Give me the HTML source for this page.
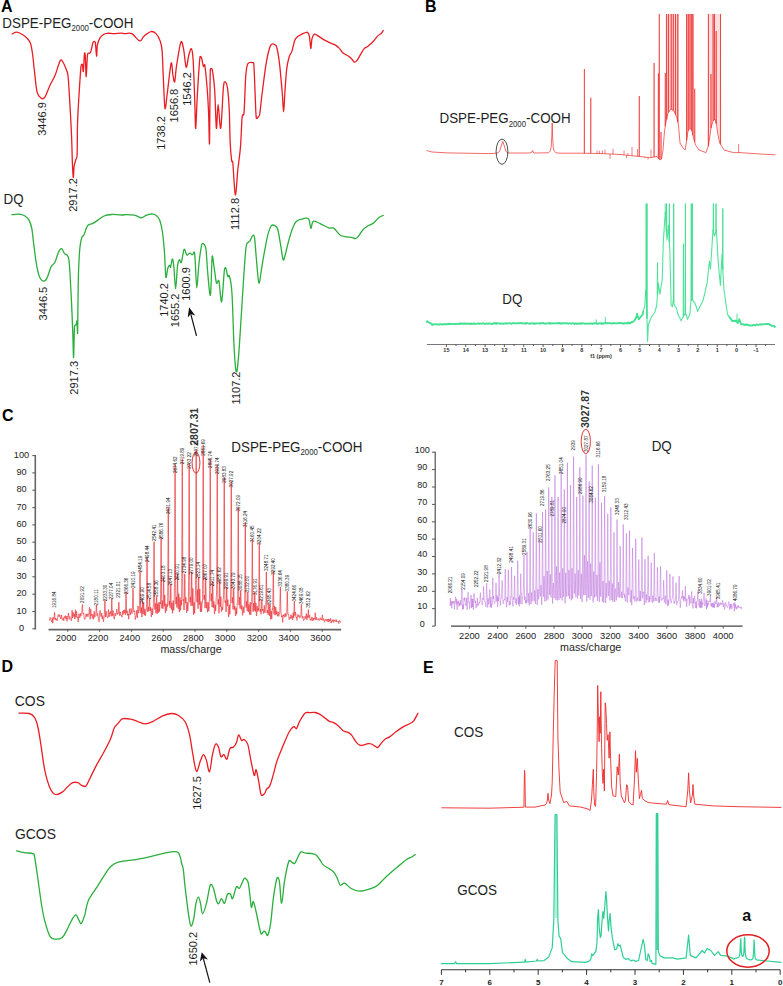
<!DOCTYPE html>
<html><head><meta charset="utf-8"><style>
html,body{margin:0;padding:0;background:#fff;}
svg{display:block;font-family:"Liberation Sans", sans-serif;}
</style></head><body>
<svg width="783" height="986" viewBox="0 0 783 986">
<text x="1" y="12.3" font-size="16" font-weight="bold" text-anchor="start" fill="#000" >A</text>
<text x="425" y="12.3" font-size="16" font-weight="bold" text-anchor="start" fill="#000" >B</text>
<text x="2" y="420.8" font-size="16" font-weight="bold" text-anchor="start" fill="#000" >C</text>
<text x="1.5" y="672" font-size="16" font-weight="bold" text-anchor="start" fill="#000" >D</text>
<text x="423" y="672.8" font-size="16" font-weight="bold" text-anchor="start" fill="#000" >E</text>
<text transform="translate(2.3,27.7) scale(1,1.06)" font-size="13.4" fill="#1e1e1e">DSPE-PEG<tspan font-size="7.8" dy="3.3">2000</tspan><tspan dy="-3.3">-COOH</tspan></text>
<text transform="translate(3.6,203.5) scale(1,1.06)" font-size="13.4" fill="#1e1e1e">DQ</text>
<path d="M12.1 34 C12.9 33.7 15 32.1 16.7 32.2 C18.4 32.3 20.6 33.4 22.4 34.5 C24.2 35.6 26.2 37.2 27.6 38.8 C29 40.4 29.8 41.1 30.7 44 C31.6 46.9 32.2 51.4 32.8 56 C33.4 60.6 33.8 65.6 34.5 71.6 C35.2 77.6 36 87.8 37.1 92.2 C38.2 96.7 40.1 97.4 41.4 98.3 C42.7 99.2 43.4 99.3 44.8 97.4 C46.2 95.2 48.3 89 50 85.3 C51.7 81.6 53.5 79.2 55.2 75 C56.9 70.8 59 62.5 60.3 60.3 C61.6 59.3 61.9 60.4 62.9 62 C63.9 63.6 65.5 67.3 66.4 69.8 C67.3 72.2 67.5 71.2 68.1 76.7 C68.7 82.2 69.2 92.5 69.8 102.6 C70.4 112.6 71.2 126.9 71.6 137 C72 147.1 72.1 156.2 72.4 163 C72.7 169.8 73 177 73.3 177.6 C73.6 178.2 73.7 169.4 74.1 166.4 C74.5 163.4 75.4 161.5 75.9 159.5 C76.4 157.5 76.8 160.5 77.1 154.3 C77.4 148 77.2 132.2 77.6 121.6 C78 111 78.7 99.7 79.3 90.5 C79.9 81.3 80.5 70.7 81 66.4 C81.5 63.7 82 63.8 82.4 64.7 C82.8 65.6 83 72.6 83.3 71.6 C83.6 69.7 84.2 56 84.5 53.4 C84.8 52.4 85 52.4 85.3 56 C85.6 59.9 85.8 77 86.2 76.7 C86.6 76.4 86.9 58.3 87.6 54.3 C88.3 51.6 89.6 54.6 90.5 52.6 C91.4 50.6 92.3 43.9 93.1 42.2 C93.9 41.2 94.6 41.2 95.2 42.2 C95.8 44.5 96.2 55.6 96.6 56 C97 56.4 96.8 47.8 97.4 44.8 C98 41.8 99 39.6 100 37.9 C101 36.2 102.2 35.3 103.4 34.5 C104.6 33.7 105.2 33.4 106.9 33.3 C108.6 33.1 111.5 33.6 113.8 33.6 C116.1 33.6 118.8 33.1 120.7 33.1 C122.6 33.1 123.1 33.5 125 33.6 C126.9 33.7 129.5 32.6 131.9 33.6 C134.3 34.8 137.7 40.5 139.7 40.9 C141.7 41.3 142.1 37.8 144 36.2 C145.9 34.7 148.9 32 150.9 31.6 C152.9 31.2 154.4 32 156 33.6 C157.6 35.2 159.3 38.5 160.3 41.4 C161.3 44.3 161.6 45 162.1 50.9 C162.6 56.8 162.8 67.1 163.3 76.7 C163.8 86.3 164.3 105.7 165 108.6 C165.7 109.6 166.2 101.6 167.2 94 C168.2 86.4 170.2 66.1 171.2 62.9 C172.1 61.9 172.3 71.8 172.9 75 C173.5 78.2 174.1 82.9 174.7 81.9 C175.3 80.2 175.6 71.4 176.7 64.7 C177.8 58 179.8 44.3 181 41.7 C182.2 40.7 182.7 44.9 183.6 49.1 C184.5 53.4 185.3 66.2 186.2 67.2 C187.1 68.2 187.9 58.3 188.8 55.2 C189.7 52.1 190.7 48.1 191.4 48.8 C192.1 49.5 192.5 50.5 193.1 59.5 C193.7 68.5 194.4 91.1 194.8 102.6 C195.2 114.1 195.3 129.4 195.7 128.4 C196.1 127 196.7 105.9 197.4 94 C198.1 82.1 199.3 62.8 200 56.9 C200.7 55.9 201.1 57 201.7 58.6 C202.3 60.2 202.9 65.4 203.4 66.4 C203.9 67.4 204.1 63.7 204.7 64.7 C205.3 67.8 206.2 77.3 206.9 85.3 C207.6 93.3 208.2 103.1 208.6 112.9 C209 122.7 209.2 145 209.5 144 C209.8 136.8 209.9 82.3 210.3 69.8 C210.7 68 211.4 68 212.1 69 C212.8 72.5 214 80.6 214.7 90.5 C215.4 100.4 215.8 126.1 216.4 128.4 C217 129.4 217.4 104.3 218.1 104.3 C218.8 104.3 219.8 129.4 220.7 128.4 C221.6 125.8 222.6 96.5 223.3 88.8 C224 81 224.3 81.9 225 81.9 C225.7 81.9 226.9 83.9 227.6 88.8 C228.3 93.7 228.9 102.2 229.3 111.2 C229.7 120.2 229.8 134.8 230.2 143 C230.6 151.2 231.2 157.1 231.6 160.3 C232 163.5 232.2 159.3 232.8 162.5 C233.4 168.2 234.5 193.7 235.3 194.8 C236.2 195.8 237 177 237.9 169 C238.8 161 239.8 155.4 240.5 146.6 C241.2 137.8 241.6 121.9 242.2 116.4 C242.8 112.5 243.4 117.4 244 113.5 C244.6 106.9 245.1 85 245.7 76.7 C246.3 68.4 246.6 66.1 247.8 63.8 C249 61.7 251.7 62.4 252.7 62.7 C253.7 63 253.5 61.7 253.9 65.4 C254.3 70 254.6 81.7 255 90.5 C255.4 99.3 255.7 113.9 256.3 118.2 C256.9 119.2 258 117.2 258.6 116.4 C259.2 115.7 259.2 117.4 259.8 113.7 C260.4 109.4 261.4 98.8 262.5 90.5 C263.6 82.2 264.9 70.8 266.1 63.6 C267.3 56.4 268.7 50.8 269.7 47.5 C270.7 44.2 271.4 44.4 272.3 44 C273.2 43.6 274.2 44.3 275 44.9 C275.8 45.5 276.1 44.4 276.8 47.5 C277.6 50.6 278.6 56.1 279.5 63.6 C280.4 71 281.5 84.2 282.2 92.2 C282.9 100.2 283.2 111.9 283.6 111.9 C284.1 111.9 284.4 99.4 284.9 92.2 C285.4 85 286 75 286.7 69 C287.4 63 288.4 59.5 289.3 56.5 C290.2 53.5 291.1 53.8 292 51.1 C292.9 48.4 293.8 42.8 294.7 40.4 C295.6 38 296.2 37.8 297.4 36.8 C298.6 35.8 300.4 34.9 301.9 34.1 C303.4 33.4 305.3 32.4 306.3 32.3 C307.3 32.1 307.6 32.5 308.1 33.2 C308.6 34 309.1 34.3 309.5 36.8 C309.9 39.3 310.4 48.1 310.8 48.4 C311.2 48.7 311.4 41 312 38.6 C312.6 36.2 313.4 34.6 314.4 34.1 C315.4 33.6 316.1 34.9 317.9 35.9 C319.7 36.9 323 39.2 325.1 40.4 C327.2 41.6 328.7 42.3 330.5 43.1 C332.3 43.9 334.3 44.5 335.8 45.4 C337.3 46.3 338.2 47.1 339.4 48.4 C340.6 49.6 341.5 51.6 343 52.9 C344.5 54.2 346.8 55 348.3 56.1 C349.8 57.2 350.8 58.2 351.9 59.2 C352.9 60.2 353.7 62.1 354.6 62.2 C355.5 62.4 356.2 61.5 357.3 60.1 C358.4 58.7 359.7 55.8 360.9 53.8 C362.1 51.8 363.2 49.6 364.4 48.4 C365.6 47.1 366.5 47.5 368 46.3 C369.5 45.1 371.8 43 373.4 41.3 C375 39.6 376.5 37.2 377.8 35.9 C379.1 34.5 380.5 34.1 381.4 33.2 C382.3 32.3 382.9 31 383.2 30.6" fill="none" stroke="#ea1c24" stroke-width="1.3" stroke-linejoin="round" stroke-linecap="round" />
<path d="M11.9 214.7 C13.1 214.6 17.1 213.9 19.3 214.1 C21.5 214.3 23.4 215 25 216 C26.6 217 27.8 217.8 28.9 219.9 C30 222 31 224.5 31.8 228.5 C32.6 232.5 32.9 237.8 33.7 243.9 C34.5 250 35.6 259.6 36.6 265.1 C37.6 270.6 38.3 274 39.5 276.7 C40.7 279.4 42.6 281 43.9 281.1 C45.2 281.2 46 280 47.2 277.6 C48.4 275.2 49.7 269.6 51 267 C52.3 264.4 53.6 264.8 54.9 262.2 C56.2 259.6 57.6 253.8 58.7 251.6 C59.8 249.3 60.6 248.4 61.6 248.7 C62.6 249 63.5 252.5 64.5 253.6 C65.5 254.7 66.6 253.9 67.4 255.5 C68.2 257.1 68.7 256.1 69.3 263.2 C69.9 270.3 70.7 286.2 71.3 297.9 C71.9 309.6 72.4 323.6 72.8 333.5 C73.2 343.4 73.3 358.6 73.6 357.6 C73.9 356.5 74.1 332.2 74.5 326.7 C74.9 323.8 75.7 325.8 76.1 324.8 C76.5 323.9 76.8 320 77 321 C77.2 322.4 77.4 334.5 77.6 333.5 C77.8 326.1 78 291 78.4 276.7 C78.8 262.4 79.3 254.4 79.9 247.8 C80.5 241.2 81.2 239.3 81.9 237.2 C82.6 235.1 82.8 237.2 83.8 235.3 C84.8 233.4 86.2 227.5 87.6 225.6 C89 223.7 90.6 224.6 92.4 223.7 C94.2 222.8 96.3 221.2 98.2 219.9 C100.1 218.6 101.8 216.9 104 216 C106.2 215.1 108.5 214.7 111.7 214.5 C114.9 214.3 121.1 215 123.3 215 C125.5 215 123.2 214.7 125 214.7 C126.8 214.7 131.7 214.6 134.4 215.1 C137.1 215.6 139.1 217.8 141 217.9 C142.9 218 143.9 216.3 145.6 215.6 C147.3 214.9 149.6 213.9 151.3 213.8 C153 213.8 154.6 214.2 156 215.3 C157.4 216.4 158.6 217.4 159.7 220.3 C160.8 223.2 161.7 227.3 162.5 232.5 C163.3 237.7 163.8 243.8 164.4 251.3 C165 258.8 165.3 274.7 165.9 277.5 C166.5 278.5 167.2 270.2 167.8 268.2 C168.4 266.2 169.1 265.5 169.6 265.3 C170.1 265.1 170.1 268.2 170.6 267.2 C171.1 266.1 171.8 258.9 172.3 258.8 C172.8 258.7 173.2 261.3 173.8 266.3 C174.4 271.3 175 288.8 175.6 288.8 C176.2 288.8 176.9 271.2 177.5 266.3 C178.1 261.4 178.8 260.3 179.4 259.7 C180 259.1 180.5 263.5 181.3 262.5 C182.1 260.8 183.2 250.7 184.1 249.4 C185 248.4 186 254.4 186.9 255 C187.8 255.6 188.8 253.2 189.7 253.1 C190.6 253 191.7 254.8 192.5 254.7 C193.3 254.5 193.9 251.2 194.4 252.2 C194.9 253.5 194.9 256.6 195.3 262.5 C195.7 268.4 196.2 287.9 196.8 287.9 C197.4 287.9 198.2 269.8 199.1 262.5 C199.9 255.2 201.1 247.2 201.9 244.1 C202.7 243.1 203.1 243.2 203.8 244.1 C204.5 245 205.4 245.1 206 249.4 C206.6 253.7 206.8 262.3 207.5 270 C208.2 277.7 209.6 296.4 210.4 295.4 C211.2 293.1 211.6 260.7 212.2 256 C212.8 255 213.4 262.7 214.1 267.2 C214.8 271.7 215.7 281 216.5 283.2 C217.3 284.2 218 279.4 218.8 280.4 C219.7 283.5 220.7 302.9 221.6 301.9 C222.5 300.2 223.7 275.6 224.4 270 C225.1 267.2 225.3 267.2 225.9 268.2 C226.5 269.3 227.2 275.4 227.8 276.6 C228.4 277.6 228.6 274.7 229.3 275.7 C230 278.3 231.2 281.6 231.9 292.5 C232.7 303.4 233.2 328.5 233.8 341.3 C234.4 354.1 235.2 364.5 235.7 369.5 C236.2 372.3 236.4 372.3 237 371.3 C237.6 367.2 238.4 359.5 239.4 345.1 C240.4 330.7 242.1 301.3 243.2 285 C244.3 268.7 245.1 254.7 246 247.5 C246.9 240.9 248.1 243 248.8 241.9 C249.5 240.8 249.3 242.1 250 241 C250.7 239.9 251.9 236.2 252.7 235.6 C253.4 235 253.9 234.6 254.5 237.4 C255.1 241.1 255.6 250.3 256.3 257.9 C257 265.5 258 281.2 258.9 283 C259.8 284 260.7 273.8 261.6 268.7 C262.5 263.6 263.2 258.3 264.3 252.6 C265.4 246.9 266.7 239.2 267.9 234.7 C269.1 230.2 270.3 226.9 271.5 225.4 C272.7 224.4 274 225.2 275 225.8 C276 226.5 276.8 226.3 277.7 229.3 C278.6 232.3 279.5 238.5 280.4 243.6 C281.3 248.7 282.4 257.6 283.1 259.7 C283.9 260.7 284 259.2 284.9 256.2 C285.8 253.2 287.1 246.7 288.4 241.9 C289.7 237.1 291.5 230.9 292.9 227.5 C294.2 224.1 295 222.7 296.5 221.3 C298 219.9 300.3 219.6 301.9 219.1 C303.5 218.6 305.1 218 306.3 218.1 C307.5 218.2 308.2 217.8 309 219.5 C309.8 221.2 310.2 228 310.8 228.4 C311.4 228.8 311.9 223.4 312.6 222.2 C313.4 221 313.8 221 315.3 221.3 C316.8 221.7 319.3 223.2 321.5 224.3 C323.7 225.4 326.8 227.3 328.7 227.9 C330.6 228.5 331.9 227.5 333.1 227.9 C334.3 228.3 334.6 229 335.8 230.2 C337 231.4 338.5 234.1 340.3 235.2 C342.1 236.3 344.6 236.4 346.5 236.8 C348.4 237.2 350.4 237.1 351.9 237.4 C353.4 237.7 354.4 238.8 355.5 238.6 C356.6 238.4 357 237.9 358.2 236.5 C359.4 235.1 361 232 362.6 230.2 C364.2 228.4 366.2 227 368 225.8 C369.8 224.6 371.6 224.4 373.4 223.1 C375.2 221.8 377.1 219 378.7 217.7 C380.3 216.4 382.4 215.8 383.2 215.4" fill="none" stroke="#2aae3c" stroke-width="1.3" stroke-linejoin="round" stroke-linecap="round" />
<text transform="translate(41.7,119) rotate(-90)" x="0" y="3.9" font-size="11" font-weight="normal" text-anchor="middle" fill="#1e1e1e">3446.9</text>
<text transform="translate(73.5,195) rotate(-90)" x="0" y="3.9" font-size="11" font-weight="normal" text-anchor="middle" fill="#1e1e1e">2917.2</text>
<text transform="translate(161.2,133) rotate(-90)" x="0" y="3.9" font-size="11" font-weight="normal" text-anchor="middle" fill="#1e1e1e">1738.2</text>
<text transform="translate(174.1,105.6) rotate(-90)" x="0" y="3.9" font-size="11" font-weight="normal" text-anchor="middle" fill="#1e1e1e">1656.8</text>
<text transform="translate(187,89) rotate(-90)" x="0" y="3.9" font-size="11" font-weight="normal" text-anchor="middle" fill="#1e1e1e">1546.2</text>
<text transform="translate(235.3,214) rotate(-90)" x="0" y="3.9" font-size="11" font-weight="normal" text-anchor="middle" fill="#1e1e1e">1112.8</text>
<text transform="translate(42.8,303.6) rotate(-90)" x="0" y="3.9" font-size="11" font-weight="normal" text-anchor="middle" fill="#1e1e1e">3446.5</text>
<text transform="translate(74.2,377.8) rotate(-90)" x="0" y="3.9" font-size="11" font-weight="normal" text-anchor="middle" fill="#1e1e1e">2917.3</text>
<text transform="translate(164.4,300) rotate(-90)" x="0" y="3.9" font-size="11" font-weight="normal" text-anchor="middle" fill="#1e1e1e">1740.2</text>
<text transform="translate(174.7,310.4) rotate(-90)" x="0" y="3.9" font-size="11" font-weight="normal" text-anchor="middle" fill="#1e1e1e">1655.2</text>
<text transform="translate(186,284) rotate(-90)" x="0" y="3.9" font-size="11" font-weight="normal" text-anchor="middle" fill="#1e1e1e">1600.9</text>
<text transform="translate(236.5,388) rotate(-90)" x="0" y="3.9" font-size="11" font-weight="normal" text-anchor="middle" fill="#1e1e1e">1107.2</text>
<line x1="196.5" y1="335.9" x2="190.8" y2="314.1" stroke="#111" stroke-width="1.2"/>
<path d="M189.1 307.3 L195.2 315.5 L190.8 314.1 L187.7 317.5 Z" fill="#111"/>
<text transform="translate(14.8,705.9) scale(1,1.04)" font-size="13.9" fill="#1e1e1e">COS</text>
<text transform="translate(15,839.3) scale(1,1.04)" font-size="13.9" fill="#1e1e1e">GCOS</text>
<path d="M19 713.2 C20.7 713.2 26.8 712.8 29.4 713.5 C32 714.2 33.1 715.3 34.6 717.7 C36.1 720.1 37 722.8 38.1 728 C39.2 733.2 40.4 741.6 41.5 748.8 C42.6 756 43.5 764.7 45 771.3 C46.5 777.9 48.5 784.7 50.2 788.6 C51.9 792.5 53.4 793.9 55.4 794.5 C57.4 795.1 60.3 793.4 62.3 792.1 C64.3 790.8 65.8 788.5 67.5 786.9 C69.2 785.3 71 783.4 72.7 782.7 C74.4 782 76.5 782.3 77.9 782.7 C79.3 783.1 80 784.5 81.3 785.1 C82.6 785.7 84.3 787.2 85.8 786.2 C87.2 785.1 88.2 781.8 90 778.2 C91.8 774.6 94.6 768.7 96.9 764.4 C99.2 760.1 101.5 756.6 103.8 752.3 C106.1 748 109 742.4 110.7 738.4 C112.4 734.4 113.1 730.4 114.2 728 C115.3 725.6 116.2 725.4 117.6 723.9 C119 722.4 120.5 719.5 122.8 718.7 C125.1 718 128.9 718.9 131.5 719.4 C134.1 719.9 136.1 721 138.4 721.8 C140.7 722.5 143 723.9 145.3 723.9 C147.6 723.9 149.3 723.1 152.2 721.8 C155.1 720.5 159.4 717.3 162.6 715.9 C165.8 714.5 168.7 713.6 171.3 713.5 C173.9 713.4 175.9 713.8 178.2 715.2 C180.5 716.6 183.2 718.5 185.1 721.8 C187 725.1 188.3 729.4 189.6 735 C190.9 740.6 191.9 749.7 193.1 755.7 C194.2 761.8 195.3 770.5 196.5 771.3 C197.7 772.1 199.3 763.4 200.5 760.6 C201.7 757.8 202.5 754.6 203.5 754.6 C204.5 754.6 205.5 757.8 206.5 760.6 C207.5 763.5 208.5 772.7 209.5 771.7 C210.5 770.7 211.5 759.2 212.5 754.6 C213.5 750 214.5 745.4 215.5 744.1 C216.5 743.1 217.6 745 218.5 747.1 C219.4 749.2 220 755.5 220.9 756.7 C221.8 757.7 222.9 754.2 223.9 754.6 C224.9 755 225.9 760.1 226.9 759.1 C227.9 758.1 228.8 750.6 229.9 748.6 C231 746.6 232.4 748.1 233.5 747.1 C234.6 746.1 235.7 744.6 236.5 742.6 C237.3 740.6 237.7 735.4 238.6 735 C239.5 734.6 240.8 739.8 241.7 740.5 C242.6 741.2 243.1 738.9 244.1 739.5 C245.1 740.1 246.7 741.3 247.7 744.1 C248.7 746.9 249.2 751.6 250.1 756.1 C251 760.6 252.3 767.9 253.1 771.1 C253.8 774.4 254.1 775.9 254.6 775.6 C255.1 775.4 255.5 768.9 256.1 769.6 C256.8 770.4 257.6 775.9 258.5 780.1 C259.4 784.4 260.2 792.9 261.2 795.1 C262.2 796.1 263.6 794.6 264.5 793.6 C265.4 792.6 265.8 790.4 266.6 789.1 C267.5 787.9 268.6 788.1 269.6 786.1 C270.6 784.1 271.4 781.4 272.6 777.1 C273.9 772.9 275.4 765.9 277.1 760.6 C278.9 755.4 281.1 750.4 283.1 745.6 C285.1 740.8 287.4 735.2 289.1 732 C290.9 728.8 292.4 727.2 293.6 726.6 C294.9 726 295.6 729.2 296.6 728.4 C297.6 727.5 298.2 724 299.6 721.5 C301 719 303.2 714.8 304.9 713.3 C306.5 711.8 307.8 712.7 309.5 712.6 C311.2 712.5 313.3 712.3 314.9 712.5 C316.5 712.7 317.6 713.1 319 713.8 C320.4 714.5 321.5 715.4 323.2 716.6 C324.9 717.8 327.3 720.1 329 721.1 C330.7 722.1 331.7 721.6 333.2 722.4 C334.7 723.2 336.5 724.3 338.2 725.7 C339.9 727.1 341.5 729.6 343.1 730.7 C344.8 731.8 346.7 731.7 348.1 732.4 C349.5 733.1 350 733.2 351.4 734.9 C352.8 736.6 355 740.7 356.4 742.4 C357.8 744.1 358.6 744.7 359.7 745.2 C360.8 745.7 361.7 745.5 363.1 745.2 C364.5 745 366.6 743.9 368 743.7 C369.4 743.5 370.1 743.5 371.4 744 C372.6 744.5 374.4 745.9 375.5 746.5 C376.6 747.1 377 747.9 378 747.4 C379 746.9 380.2 744.5 381.3 743.2 C382.4 741.9 383.3 740.5 384.7 739.4 C386.1 738.3 387.7 738.2 389.6 736.9 C391.5 735.6 394.1 733.3 396.3 731.6 C398.5 729.9 400.8 728.2 403 726.9 C405.2 725.6 407.7 724.8 409.5 723.8 C411.3 722.8 412.3 722.5 413.7 720.8 C415.1 719 417.2 714.5 417.9 713.3" fill="none" stroke="#ea1c24" stroke-width="1.3" stroke-linejoin="round" stroke-linecap="round" />
<path d="M16.6 850.9 C17.9 851.2 21.5 852.1 24.2 852.6 C26.9 853.1 31.2 852.9 32.9 853.6 C34.6 854.3 33.7 852.6 34.6 856.8 C35.5 861.2 37 872.3 38.1 880.3 C39.2 888.2 40.4 897.6 41.5 904.5 C42.6 911.4 43.5 916.4 45 921.8 C46.5 927.2 48.5 933.8 50.2 936.7 C51.9 939.6 53.4 939 55.4 939.1 C57.4 939.2 60.3 939.1 62.3 937.4 C64.3 935.7 65.8 931.9 67.5 928.7 C69.2 925.5 71.3 920.7 72.7 918.4 C74.1 916.1 75.1 914.6 76.1 914.9 C77.1 915.2 78 918.7 78.9 920.1 C79.8 921.5 80.3 924.4 81.3 923.5 C82.3 922.6 83.6 918.6 84.8 914.9 C86 911.1 86.2 905.6 88.2 901 C90.2 896.4 94.3 891.4 96.9 887.2 C99.5 883.1 101.5 879.6 103.8 876.1 C106.1 872.6 108.4 868.8 110.7 866.5 C113 864.2 114.1 863.3 117.6 862.3 C121.1 861.2 126.9 861 131.5 860.2 C136.1 859.5 140.7 858.8 145.3 857.8 C149.9 856.8 154.6 855.3 159.2 854.3 C163.8 853.3 169.8 851.9 173 851.6 C176.2 851.3 176.9 851.5 178.2 852.6 C179.4 853.7 179.9 856.1 180.5 858 C181.1 859.9 181.3 862.1 181.8 864 C182.3 865.9 182.8 865.6 183.3 869.5 C183.9 873.4 184.2 879.6 185.1 887.2 C186 894.8 187.6 908.4 188.6 914.9 C189.6 921.4 190.1 925.4 191 926 C191.9 926.6 193 922.2 193.8 918.4 C194.6 914.6 195.2 906.7 196 903.2 C196.8 899.7 197.7 897.2 198.4 897.2 C199.2 897.2 199.8 900.5 200.5 903.2 C201.2 906 201.6 913.7 202.6 913.7 C203.6 913.7 205.2 908.1 206.5 903.2 C207.8 898.4 209.2 887.1 210.4 884.6 C211.6 883.6 212.4 885.6 213.4 888.2 C214.4 890.8 215.6 897.6 216.4 900.2 C217.2 902.8 217.7 904 218.5 903.8 C219.3 903.5 220.5 898.8 221.5 898.7 C222.5 898.6 223.5 904 224.5 903.2 C225.5 902.5 226.5 895.7 227.5 894.2 C228.5 893.2 229.7 893.5 230.5 894.2 C231.3 895 231.6 899.7 232.6 898.7 C233.6 897.5 235.3 888.5 236.5 886.7 C237.7 885.7 238.2 889.2 239.5 888.2 C240.8 886.9 242.9 880.1 244.1 878.6 C245.3 877.6 245.9 878.8 246.6 879.5 C247.3 880.2 247.7 880.2 248.3 883 C248.9 885.8 249.5 891.9 250 896 C250.5 900.1 250.9 906.6 251.4 907.5 C251.9 908.4 252.5 901.8 253 901.5 C253.5 901.2 253.9 903.1 254.6 905.5 C255.3 907.9 256.2 912.2 257 916 C257.8 919.8 258.8 925 259.5 928 C260.2 931 260.6 933.4 261.3 933.9 C262 934.4 263.1 931.6 263.8 931.3 C264.5 931 265 931.6 265.6 932.3 C266.2 933 266.9 936.4 267.7 935.4 C268.5 934 269.5 930.6 270.5 924.2 C271.5 917.8 272.4 905 273.5 897.2 C274.6 889.5 276.1 880.2 277.1 877.7 C278.1 876.7 278.8 878 279.5 882.2 C280.2 886.5 280.8 903.5 281.6 903.2 C282.5 903 283.4 887.8 284.6 880.7 C285.9 873.6 287.5 863.5 289.1 860.6 C290.8 859.6 292.6 864.6 294.5 863.6 C296.4 862.2 298.6 854 300.5 852.2 C302.4 851.2 303.9 852.9 305.6 853.1 C307.4 853.3 309.3 853.2 311 853.5 C312.7 853.8 314.5 853.9 316 855 C317.5 856.1 318.8 858.4 320 860 C321.2 861.6 321.6 863.4 323.2 864.9 C324.8 866.4 328.1 867.9 329.9 869.1 C331.7 870.4 332.8 870.9 334 872.4 C335.2 873.9 336.3 876.1 337.3 878.2 C338.3 880.3 339 884.4 340.2 885.2 C341.4 886 342.9 882.6 344.6 883.1 C346.4 883.6 348.2 886.9 350.7 888.2 C353.2 889.6 356.4 891.1 359.7 891.2 C362.9 891.3 367.2 889.8 370.2 888.8 C373.2 887.8 375.2 887.1 377.7 885.2 C380.2 883.4 381.9 880.7 385.2 877.7 C388.4 874.7 393.7 870.2 397.2 867.2 C400.7 864.2 403.7 861.5 406.2 859.7 C408.7 858 410.7 857.6 412.2 856.7 C413.7 855.9 414.7 855 415.2 854.6" fill="none" stroke="#2aae3c" stroke-width="1.3" stroke-linejoin="round" stroke-linecap="round" />
<text transform="translate(197.2,793) rotate(-90)" x="0" y="3.9" font-size="11" font-weight="normal" text-anchor="middle" fill="#1e1e1e">1627.5</text>
<text transform="translate(192.7,948.7) rotate(-90)" x="0" y="3.9" font-size="11" font-weight="normal" text-anchor="middle" fill="#1e1e1e">1650.2</text>
<line x1="209.8" y1="982.6" x2="203.3" y2="958.3" stroke="#111" stroke-width="1.2"/>
<path d="M201.7 952.2 L207.9 959.4 L203.3 958.3 L199.9 961.5 Z" fill="#111"/>
<text transform="translate(439.5,123) scale(1,1.06)" font-size="13.4" fill="#1e1e1e">DSPE-PEG<tspan font-size="7.8" dy="3.3">2000</tspan><tspan dy="-3.3">-COOH</tspan></text>
<text transform="translate(502.3,304.3) scale(1,1.06)" font-size="13.4" fill="#1e1e1e">DQ</text>
<polygon points="665.5,14 665.5,125 666,122 666.5,119.8 667,117.5 667.5,115.2 668,113 668.5,112.3 669,111.7 669.5,111 670,110.3 670.5,109.7 671,109 671.5,109.3 672,109.7 672.5,110 673,110.3 673.5,110.7 674,111 674.5,112.2 675,113.3 675.5,114.5 676,115.7 676.5,116.8 677,118 677.5,120.5 678,123 678.5,125.5 679,130.9 679,14" fill="#f04848" fill-opacity="0.22"/>
<polygon points="686,14 686,144.5 686.5,141 687,137.7 687.5,134.3 688,131 688.5,130.2 689,129.5 689.5,128.8 690,128 690.5,128.8 691,129.5 691.5,130.2 692,131 692.5,133.3 693,135.7 693.5,138 694,139.7 694,14" fill="#f04848" fill-opacity="0.25"/>
<polygon points="708,14 708,147.1 708.5,145.3 709,141.9 709.5,138.4 710,135 710.5,131.5 711,128 711.5,126.2 712,124.5 712.5,122.8 713,121 713.5,120.5 714,120 714.5,119.5 715,119 715.5,121 716,123 716.5,125 717,128.3 717.5,131.7 718,135 718.5,137.4 719,139.7 719.5,142.1 720,143.5 720.5,144.3 721,145.1 721,14" fill="#f04848" fill-opacity="0.18"/>
<path d="M426.9 150.6 L432 152 L447.6 152.9 L489 153.6 L497 153.2 L499.5 151.5 L501.5 145 L502.8 141.4 L504 145 L506 151.5 L508 153 L530 153 L532 152 L532.6 150.6 L533.2 152 L534 153 L548.5 152.8 L550.3 151 L551.2 147 L551.8 136 L552.2 123 L552.6 136 L553.2 147 L554.1 151 L556 152.8 L560 153.2 L580 153.2 L600 153.5 L620 154.5 L640 156.5 L650 157.7 L657 156.5 L660 160 L661.5 159 L663 150 L664.5 131 L666 122 L668 113 L671 109 L674 111 L677 118 L678.6 126 L680 143 L683 148 L685.2 150 L686.5 141 L688 131 L690 128 L692 131 L693.5 138 L695.5 144.8 L699 150 L705.9 152.6 L708.4 146 L710 135 L711 128 L713 121 L715 119 L716.5 125 L718 135 L719.7 143 L724 150 L733.4 152.6 L740 152.6 L760 154 L775 154.8" fill="none" stroke="#ee2424" stroke-width="0.8" stroke-linejoin="round" stroke-linecap="round" stroke-opacity="0.85"/>
<path d="M584.2 153.3 L584.4 69 L584.5 153.3 M590.6 153.4 L590.8 97.7 L590.9 153.4 M597 153.5 L597 150.5 M599.5 153.5 L599.5 150.8 M602.5 153.6 L602.5 150.5 M605 153.8 L605 149.5 M610 154 L610 159 M613 154.2 L613 149 M624 154.9 L624 150.5 M626.5 155.2 L626.5 158 M628 155.3 L628 153 M632 155.7 L632 147 M636.5 156.2 L636.5 156 M637.5 156.2 L637.5 149 M639.1 156.4 L639.3 96 L639.4 156.4 M645 157.1 L645 158 M648 157.5 L648 159.5 M651 157.5 L651 149.5 M654 157 L654.1 63 L654.2 157 M658.2 158.1 L658.4 73.3 L658.5 158.1 M659.1 159.2 L659.3 14 L659.4 159.2 M660.9 159.3 L661 132 L661.1 159.3 M665.1 126.2 L665.3 73 L665.4 126.2 M666.5 119.3 L666.6 14 L666.8 119.3 M668.4 112.3 L668.5 14 L668.6 112.3 M671.1 109.1 L671.2 14 L671.4 109.1 M673.1 110.5 L673.3 14 L673.4 110.5 M675.4 114.5 L675.5 14 L675.6 114.5 M677.6 122 L677.8 14 L677.9 122 M686.5 140.3 L686.6 14 L686.8 140.3 M688.1 130.6 L688.3 14 L688.4 130.6 M689.9 128 L690 14 L690.1 128 M691.6 130.6 L691.7 14 L691.9 130.6 M692.8 135.2 L692.9 14 L693 135.2 M694.6 142.1 L694.7 88.8 L694.9 142.1 M708.2 146 L708.4 14 L708.5 146 M710.9 128 L711 74 L711.1 128 M713 120.9 L713.1 14 L713.2 120.9 M714.4 119.5 L714.5 14 L714.6 119.5 M716.1 123.8 L716.2 31 L716.4 123.8 M720.4 144.3 L720.5 14 L720.6 144.3 M738.6 152.6 L738.6 144" fill="none" stroke="#ee2424" stroke-width="0.7" stroke-opacity="0.85" stroke-linejoin="round"/>
<ellipse cx="502" cy="151.7" rx="5.9" ry="12.6" fill="none" stroke="#222" stroke-width="0.8"/>
<path d="M426.9 321.5 L426.9 321.9 L427.5 321.3 L428.1 322.2 L428.7 322.3 L429.3 322.7 L429.9 323 L430.5 323 L431.1 323.7 L431.7 323.8 L432.3 325.1 L432.6 324.5 L432.6 324.5 L433.2 324.4 L433.8 324.4 L434.4 324.3 L435 324.2 L435.6 324.3 L436.2 324.5 L436.8 324.3 L437.4 324.6 L438 324.3 L438.6 324.4 L439.2 324.7 L439.8 324.4 L440.4 324.2 L441 324.2 L441.6 324.4 L442.2 324.7 L442.8 324.2 L443.4 324.2 L444 324.4 L444.6 324 L445.2 324.1 L445.8 324.4 L446.4 324.3 L447 324.2 L447.6 324.3 L448.2 323.5 L448.8 324.3 L449.4 323.9 L450 323.7 L450.6 324.1 L451.2 324.2 L451.8 323.9 L452.4 323.8 L453 324 L453.6 324 L454.2 324.3 L454.8 324.1 L455.4 324 L456 324.1 L456.6 323.8 L457.2 323.7 L457.8 324 L458.4 324 L459 323.8 L459.6 323.6 L460 323.8 L460 323.9 L460.6 323.2 L461.2 323.9 L461.8 323.9 L462.4 323.4 L463 323.8 L463.6 323.6 L464.2 323.9 L464.8 323.3 L465.4 323.6 L466 323.9 L466.6 324 L467.2 323.3 L467.8 323.6 L468.4 323.8 L469 323.6 L469.6 324.1 L470.2 323.5 L470.8 323.8 L471.4 323.5 L472 324 L472.6 323.7 L473.2 323.6 L473.8 323.3 L474.4 324.1 L475 323.8 L475.6 323.8 L476.2 323.9 L476.8 323.7 L477.4 323.5 L478 323.5 L478.6 323.5 L479.2 323.9 L479.8 323.3 L480.4 323.5 L481 323.6 L481.6 323.7 L482.2 323.7 L482.8 323.3 L483.4 323.2 L484 323.6 L484.6 323.9 L485.2 323.8 L485.8 323.6 L486.4 323.5 L487 323.6 L487.6 323.5 L488.2 323.7 L488.8 323.4 L489.4 323.6 L490 323.5 L490.6 323.7 L491.2 323.6 L491.8 324.1 L492.4 323.9 L493 323.9 L493.6 323.1 L494.2 323.4 L494.8 323.4 L495.4 323.6 L496 323 L496.6 323.8 L497.2 323.7 L497.8 323.2 L498.4 323.3 L499 323.3 L499.6 323.5 L500.2 323.6 L500.8 323.9 L501.4 323.4 L502 323.6 L502.6 323.5 L503.2 323.8 L503.8 323.6 L504.4 323.7 L505 323.2 L505.6 323.4 L506.2 323.2 L506.8 323.7 L507.4 323.5 L508 323.3 L508.6 323.3 L509.2 323.5 L509.8 323.2 L510.4 323.2 L511 323.5 L511.6 323.9 L512.2 323.3 L512.8 323.2 L513.4 323.1 L514 323.1 L514.6 323.5 L515.2 323.5 L515.8 323.3 L516.4 323.4 L517 323.4 L517.6 323.4 L518.2 323 L518.8 323.2 L519.4 323.3 L520 323.1 L520 323.3 L520.6 323.2 L521.2 323.1 L521.8 323.2 L522.4 323.5 L523 323.2 L523.6 323.3 L524.2 323.5 L524.8 323.5 L525.4 323.7 L526 322.9 L526.6 323.5 L527.2 323.2 L527.8 323.4 L528.4 323.5 L529 323.6 L529.6 323.6 L530.2 323.4 L530.8 323.7 L531.4 323.3 L532 323.3 L532.6 323.5 L533.2 323.2 L533.8 323.8 L534.4 323.6 L535 323.8 L535.6 323.3 L536.2 323.3 L536.8 323.4 L537.4 323.5 L538 323.2 L538.6 323.4 L539.2 323.4 L539.8 323.7 L540.4 323.2 L541 323.6 L541.6 323.2 L542.2 323.2 L542.8 323.2 L543.4 323.1 L544 323.4 L544.6 323.6 L545.2 323.4 L545.8 323.5 L546.4 323.7 L547 323.4 L547.6 323.4 L548.2 323.3 L548.8 323 L549.4 323.6 L550 323 L550.6 323.5 L551.2 323.4 L551.8 323.6 L552.4 323.4 L553 323.2 L553.6 323.5 L554.2 323.3 L554.8 323.4 L555.4 323.4 L556 323.4 L556.6 323.4 L557.2 323.2 L557.8 323.4 L558.4 322.9 L559 323.4 L559.6 323.1 L560.2 323.7 L560.8 323.7 L561.4 323 L562 323.5 L562.6 323.4 L563.2 323.2 L563.8 323.5 L564.4 323.3 L565 323 L565.6 323.4 L566.2 323.4 L566.8 323.5 L567.4 323.2 L568 323.6 L568.6 323.6 L569.2 323.2 L569.8 323.3 L570.4 323.4 L571 323.3 L571.6 323.8 L572.2 323.5 L572.8 323.2 L573.4 323.3 L574 323.4 L574.6 324 L575.2 323.4 L575.8 323.5 L576.4 323.6 L577 323.5 L577.6 324 L578.2 323.3 L578.8 323.6 L579.4 323.5 L580 323.6 L580.6 323.2 L581.2 323.9 L581.8 323.4 L582.4 323.5 L583 323.3 L583.6 323.3 L584.2 323.6 L584.8 323.7 L585.4 323.7 L586 323.8 L586.6 323.6 L587.2 323.5 L587.8 323.7 L588.4 323.6 L589 323.5 L589.6 323.7 L590 323.5 L590 323.8 L590.6 323.5 L591.2 323.4 L591.8 323.6 L592.4 323.9 L593 323.4 L593.6 323.5 L594.2 323.4 L594.8 323.7 L595.4 323.1 L596 323.5 L596.6 323.7 L597.2 323.3 L597.8 323.8 L598.4 323.6 L599 323.3 L599.6 323.5 L600.2 323.1 L600.8 323.3 L601.4 323.8 L602 323.2 L602.6 323.8 L603.2 323.4 L603.8 323.6 L604.4 323.4 L605 322.9 L605.6 323.3 L606.2 323.4 L606.8 323.1 L607.4 323.1 L608 323.4 L608.6 323.2 L609.2 323 L609.8 323.2 L610.4 323.5 L611 323.2 L611.6 323.5 L612.2 323.7 L612.8 323.3 L613.4 323.1 L614 323 L614.6 323.3 L615.2 323.5 L615.8 323.4 L616.4 323.4 L617 323.2 L617.6 323.4 L618.2 323.2 L618.8 323.2 L619.4 323 L620 322.9 L620.6 323.2 L621.2 323 L621.8 323.1 L622.4 323.4 L623 323.2 L623.6 323.9 L624.2 323.4 L624.8 323.1 L625.4 323.4 L626 323.3 L626.6 323.1 L627.2 323.5 L627.8 323 L628.4 322.5 L629 323.4 L629.6 323.1 L630 323.2 L630 323.5 L630.6 322.7 L631.2 322.3 L631.8 322.6 L632.4 321.6 L633 321.6 L633.6 321.5 L634 321 L634 321 L634.6 320.1 L635.2 319.2 L635.8 318.5 L636 317.8 L636 318 L636.6 315.8 L637.1 313.7 L637.1 313.8 L637.7 316.3 L638.3 317.8 L638.7 319.1 L638.7 319.3 L639.3 318.7 L639.9 317.7 L640.5 317.1 L641.1 316.4 L641.7 315.9 L642.3 314.7 L642.6 314.5 L642.6 314.5 L643.2 311.5 L643.8 309.4 L644.4 307.5 L644.9 305 L644.9 305.1 L645.5 294.9 L645.8 289.7 L645.8 290 L646.4 298.7 L646.5 300 L646.5 300 L647.1 322.2 L647.3 330 L647.3 330.1 L647.6 341.3 L647.6 341.4 L648.2 328.5 L648.4 323.9 L648.4 324 L649 323.1 L649.6 321.5 L650.2 320 L650.8 318.6 L651.4 317.4 L652 316 L652 316.1 L652 316.3 L652.6 315.5 L653.2 314.5 L653.8 313.8 L654.4 312.8 L655 311.7 L655.2 311 L655.2 311.4 L655.8 308.9 L656.4 306.5 L656.7 305.1 L656.7 305.1 L657.3 297 L657.9 288.5 L658.3 283 L658.3 283.1 L658.9 287 L659.5 291.6 L659.9 294.1 L659.9 294.1 L660.5 290.3 L661.1 286.5 L661.7 283 L662.2 280 L662.2 280.3 L662.8 259.5 L663.3 242 L663.3 242.2 L663.9 233.1 L664.5 223.6 L664.6 221.7 L664.6 221.9 L665.2 214.6 L665.4 212 L665.4 212.3 L666 222.6 L666.6 233.2 L667 239.8 L667 240 L667.6 234.3 L668.2 228.1 L668.5 225 L668.5 225.4 L669.1 236.1 L669.7 248.2 L669.8 250 L669.8 250.2 L670.4 273.5 L671 297.3 L671.2 305.1 L671.2 305.3 L671.8 306 L672.4 306.5 L672.5 306.7 L672.5 306.7 L673.1 301.2 L673.2 300 L673.2 300.3 L673.8 302.6 L674.4 305.1 L674.4 305.1 L675 306.1 L675.6 307.2 L676.2 307.7 L676.4 307.9 L676.4 308.2 L677 310.6 L677.6 312.7 L678 314.4 L678 314.5 L678.6 315.7 L679.2 317 L679.8 317.9 L680.4 319.6 L681 320.2 L681.1 320.8 L681.1 320.9 L681.7 319.3 L682.3 318.2 L682.9 317.4 L683.5 316 L684.1 314.7 L684.3 314.4 L684.3 314.5 L684.9 314.6 L685.5 314.5 L686.1 314.5 L686.3 314.5 L686.3 314.7 L686.9 317 L687.4 319.2 L687.4 319.3 L688 318 L688.6 317.2 L689.2 315.9 L689.8 314.5 L689.8 314.8 L690.4 307.2 L691 300 L691 300 L691 300.2 L691.6 299.9 L692.2 300.2 L692.8 300 L692.8 300.2 L693.4 301.2 L693.7 302 L693.7 302 L694.3 302 L694.8 302 L694.8 302.4 L695.4 304.6 L696 306 L696.6 308 L697.2 309.6 L697.6 311.4 L697.6 311.4 L698.2 310.2 L698.8 308.8 L699.4 308 L700 306.3 L700.6 305.4 L700.8 305.1 L700.8 305.1 L701.4 303.6 L702 302.8 L702.6 301.7 L703.1 300.1 L703.1 300.4 L703.7 297.5 L704.3 295.3 L704.9 292.6 L705.5 289.8 L706.1 287.4 L706.7 284.8 L707.1 283.1 L707.1 283.1 L707.7 277.5 L708.3 271.7 L708.9 266.3 L709.4 261.1 L709.4 261.4 L710 265.5 L710.5 268.9 L710.5 269.1 L711.1 259.8 L711.7 250.2 L711.8 248.2 L711.8 248.5 L712.4 239.4 L713 230 L713 230 L713 230.4 L713.6 232.4 L714.2 234.9 L714.5 236 L714.5 236.1 L715.1 234.5 L715.7 232.2 L716.3 230.3 L716.4 230 L716.4 230.1 L717 240.9 L717.6 252 L718.1 261.1 L718.1 261.1 L718.7 267.5 L719.3 274.2 L719.9 280 L720.4 285.4 L720.4 285.4 L721 273.9 L721.6 262.6 L722 254.5 L722 254.8 L722.6 265.6 L723.2 276.6 L723.8 287.7 L723.9 289.4 L723.9 289.4 L724.5 293.5 L725.1 297.6 L725.7 302.1 L726.3 306.5 L726.9 310.4 L727.5 314.5 L727.5 314.6 L727.5 314.5 L728.1 315.1 L728.7 316 L729.3 316.9 L729.9 317.8 L730.5 318.5 L731.1 319.1 L731.7 320.4 L732.2 320.8 L732.2 321.2 L732.8 320.7 L733.4 320.9 L734 320.9 L734.6 321 L735.2 320.5 L735.8 321.2 L736.4 320.7 L736.6 320.8 L736.6 321.1 L737.2 322.1 L737.7 323.1 L737.7 323.2 L738.3 321.7 L738.9 320.5 L739.3 319.1 L739.3 319.3 L739.9 321 L740.5 322.7 L740.9 323.6 L740.9 324 L741.5 324.4 L742.1 324.3 L742.7 324.3 L743.3 324.7 L743.9 324.3 L744.5 324.6 L745.1 325.1 L745.7 325 L746.3 324.4 L746.9 324.3 L747.5 324.9 L748.1 325.4 L748.7 325.2 L749.3 325.3 L749.9 325.6 L750 325.3 L750 325.5 L750.6 325.5 L751.2 325.6 L751.8 325.4 L752.4 325.4 L753 325.1 L753.6 325.3 L754.2 325 L754.8 325.3 L755.4 325.5 L756 324.8 L756.6 324.4 L757.2 324.7 L757.8 324.8 L758.4 324.9 L759 324.9 L759.6 324.4 L760.2 324.3 L760.8 324.7 L761.4 324.2 L762 324.6 L762.5 324.3 L762.5 324.3 L763.1 324.4 L763.7 324.3 L764.3 324.3 L764.9 324.2 L765.5 323.8 L766.1 324 L766.7 323.9 L767.3 323.9 L767.5 323.8 L767.5 324.1 L768.1 324 L768.7 324.1 L769.3 324.4 L769.9 324.7 L770.5 325.2 L771.1 325.1 L771.7 325.8 L772.3 325.8 L772.9 325.9 L773.5 325.9 L774.1 326.5 L774.7 326.9 L774.9 326.4 L774.9 326.8" fill="none" stroke="#3fe090" stroke-width="1.1" stroke-linejoin="round" stroke-linecap="round" stroke-opacity="0.9"/>
<path d="M596.2 323.6 L596.2 319.4 M605.3 323.1 L605.3 316.9 M646 295.8 L646.2 203.6 L646.5 295.8 M646.8 318.5 L647 203.6 L647.2 318.5 M657.2 294.1 L657.5 262.6 L657.8 294.1 M665.2 214.6 L665.2 203.6 M666.2 231.4 L666.5 203.6 L666.8 231.4 M669.1 242.2 L669.4 203.6 L669.6 242.2 M673.5 302.2 L673.7 203.6 L674 302.2 M683.2 316 L683.5 243.8 L683.8 316 M685.1 314.5 L685.4 203.6 L685.6 314.5 M691 300.1 L691.3 203.6 L691.5 300.1 M692.1 300.1 L692.4 203.6 L692.6 300.1 M713.1 231.7 L713.4 203.6 L713.6 231.7 M715.8 231.3 L716 203.6 L716.2 231.3 M722.5 269.3 L722.8 208.4 L723 269.3 M737 321.8 L737 313.7" fill="none" stroke="#3fe090" stroke-width="1.0" stroke-opacity="0.9" stroke-linejoin="round"/>
<path d="M426.9 321.5 L426.9 321.9 L427.5 321.3 L428.1 322.2 L428.7 322.3 L429.3 322.7 L429.9 323 L430.5 323 L431.1 323.7 L431.7 323.8 L432.3 325.1 L432.6 324.5 L432.6 324.5 L433.2 324.4 L433.8 324.4 L434.4 324.3 L435 324.2 L435.6 324.3 L436.2 324.5 L436.8 324.3 L437.4 324.6 L438 324.3 L438.6 324.4 L439.2 324.7 L439.8 324.4 L440.4 324.2 L441 324.2 L441.6 324.4 L442.2 324.7 L442.8 324.2 L443.4 324.2 L444 324.4 L444.6 324 L445.2 324.1 L445.8 324.4 L446.4 324.3 L447 324.2 L447.6 324.3 L448.2 323.5 L448.8 324.3 L449.4 323.9 L450 323.7 L450.6 324.1 L451.2 324.2 L451.8 323.9 L452.4 323.8 L453 324 L453.6 324 L454.2 324.3 L454.8 324.1 L455.4 324 L456 324.1 L456.6 323.8 L457.2 323.7 L457.8 324 L458.4 324 L459 323.8 L459.6 323.6 L460 323.8 L460 323.9 L460.6 323.2 L461.2 323.9 L461.8 323.9 L462.4 323.4 L463 323.8 L463.6 323.6 L464.2 323.9 L464.8 323.3 L465.4 323.6 L466 323.9 L466.6 324 L467.2 323.3 L467.8 323.6 L468.4 323.8 L469 323.6 L469.6 324.1 L470.2 323.5 L470.8 323.8 L471.4 323.5 L472 324 L472.6 323.7 L473.2 323.6 L473.8 323.3 L474.4 324.1 L475 323.8 L475.6 323.8 L476.2 323.9 L476.8 323.7 L477.4 323.5 L478 323.5 L478.6 323.5 L479.2 323.9 L479.8 323.3 L480.4 323.5 L481 323.6 L481.6 323.7 L482.2 323.7 L482.8 323.3 L483.4 323.2 L484 323.6 L484.6 323.9 L485.2 323.8 L485.8 323.6 L486.4 323.5 L487 323.6 L487.6 323.5 L488.2 323.7 L488.8 323.4 L489.4 323.6 L490 323.5 L490.6 323.7 L491.2 323.6 L491.8 324.1 L492.4 323.9 L493 323.9 L493.6 323.1 L494.2 323.4 L494.8 323.4 L495.4 323.6 L496 323 L496.6 323.8 L497.2 323.7 L497.8 323.2 L498.4 323.3 L499 323.3 L499.6 323.5 L500.2 323.6 L500.8 323.9 L501.4 323.4 L502 323.6 L502.6 323.5 L503.2 323.8 L503.8 323.6 L504.4 323.7 L505 323.2 L505.6 323.4 L506.2 323.2 L506.8 323.7 L507.4 323.5 L508 323.3 L508.6 323.3 L509.2 323.5 L509.8 323.2 L510.4 323.2 L511 323.5 L511.6 323.9 L512.2 323.3 L512.8 323.2 L513.4 323.1 L514 323.1 L514.6 323.5 L515.2 323.5 L515.8 323.3 L516.4 323.4 L517 323.4 L517.6 323.4 L518.2 323 L518.8 323.2 L519.4 323.3 L520 323.1 L520 323.3 L520.6 323.2 L521.2 323.1 L521.8 323.2 L522.4 323.5 L523 323.2 L523.6 323.3 L524.2 323.5 L524.8 323.5 L525.4 323.7 L526 322.9 L526.6 323.5 L527.2 323.2 L527.8 323.4 L528.4 323.5 L529 323.6 L529.6 323.6 L530.2 323.4 L530.8 323.7 L531.4 323.3 L532 323.3 L532.6 323.5 L533.2 323.2 L533.8 323.8 L534.4 323.6 L535 323.8 L535.6 323.3 L536.2 323.3 L536.8 323.4 L537.4 323.5 L538 323.2 L538.6 323.4 L539.2 323.4 L539.8 323.7 L540.4 323.2 L541 323.6 L541.6 323.2 L542.2 323.2 L542.8 323.2 L543.4 323.1 L544 323.4 L544.6 323.6 L545.2 323.4 L545.8 323.5 L546.4 323.7 L547 323.4 L547.6 323.4 L548.2 323.3 L548.8 323 L549.4 323.6 L550 323 L550.6 323.5 L551.2 323.4 L551.8 323.6 L552.4 323.4 L553 323.2 L553.6 323.5 L554.2 323.3 L554.8 323.4 L555.4 323.4 L556 323.4 L556.6 323.4 L557.2 323.2 L557.8 323.4 L558.4 322.9 L559 323.4 L559.6 323.1 L560.2 323.7 L560.8 323.7 L561.4 323 L562 323.5 L562.6 323.4 L563.2 323.2 L563.8 323.5 L564.4 323.3 L565 323 L565.6 323.4 L566.2 323.4 L566.8 323.5 L567.4 323.2 L568 323.6 L568.6 323.6 L569.2 323.2 L569.8 323.3 L570.4 323.4 L571 323.3 L571.6 323.8 L572.2 323.5 L572.8 323.2 L573.4 323.3 L574 323.4 L574.6 324 L575.2 323.4 L575.8 323.5 L576.4 323.6 L577 323.5 L577.6 324 L578.2 323.3 L578.8 323.6 L579.4 323.5 L580 323.6 L580.6 323.2 L581.2 323.9 L581.8 323.4 L582.4 323.5 L583 323.3 L583.6 323.3 L584.2 323.6 L584.8 323.7 L585.4 323.7 L586 323.8 L586.6 323.6 L587.2 323.5 L587.8 323.7 L588.4 323.6 L589 323.5 L589.6 323.7 L590 323.5 L590 323.8 L590.6 323.5 L591.2 323.4 L591.8 323.6 L592.4 323.9 L593 323.4 L593.6 323.5 L594.2 323.4 L594.8 323.7 L595.4 323.1 L596 323.5 L596.6 323.7 L597.2 323.3 L597.8 323.8 L598.4 323.6 L599 323.3 L599.6 323.5 L600.2 323.1 L600.8 323.3 L601.4 323.8 L602 323.2 L602.6 323.8 L603.2 323.4 L603.8 323.6 L604.4 323.4 L605 322.9 L605.6 323.3 L606.2 323.4 L606.8 323.1 L607.4 323.1 L608 323.4 L608.6 323.2 L609.2 323 L609.8 323.2 L610.4 323.5 L611 323.2 L611.6 323.5 L612.2 323.7 L612.8 323.3 L613.4 323.1 L614 323 L614.6 323.3 L615.2 323.5 L615.8 323.4 L616.4 323.4 L617 323.2 L617.6 323.4 L618.2 323.2 L618.8 323.2 L619.4 323 L620 322.9 L620.6 323.2 L621.2 323 L621.8 323.1 L622.4 323.4 L623 323.2 L623.6 323.9 L624.2 323.4 L624.8 323.1 L625.4 323.4 L626 323.3 L626.6 323.1 L627.2 323.5 L627.8 323 L628.4 322.5 L629 323.4 L629.6 323.1 L630 323.2 L630 323.5 L630.6 322.7 L631.2 322.3 L631.8 322.6 L632.4 321.6 L633 321.6 L633.6 321.5 L634 321 L634 321 L634.6 320.1 L635.2 319.2 L635.8 318.5 L636 317.8 L636 318 L636.6 315.8 L637.1 313.7 L637.1 313.8 L637.7 316.3 L638.3 317.8 L638.7 319.1 L638.7 319.3 L639.3 318.7 L639.9 317.7 L640.5 317.1 L641.1 316.4 L641.7 315.9 L642.3 314.7 L642.6 314.5 L642.6 314.5 L643.2 311.5" fill="none" stroke="#3fe090" stroke-width="1.8" stroke-linejoin="round" stroke-linecap="round" stroke-opacity="0.9"/>
<path d="M729.3 316.9 L729.9 317.8 L730.5 318.5 L731.1 319.1 L731.7 320.4 L732.2 320.8 L732.2 321.2 L732.8 320.7 L733.4 320.9 L734 320.9 L734.6 321 L735.2 320.5 L735.8 321.2 L736.4 320.7 L736.6 320.8 L736.6 321.1 L737.2 322.1 L737.7 323.1 L737.7 323.2 L738.3 321.7 L738.9 320.5 L739.3 319.1 L739.3 319.3 L739.9 321 L740.5 322.7 L740.9 323.6 L740.9 324 L741.5 324.4 L742.1 324.3 L742.7 324.3 L743.3 324.7 L743.9 324.3 L744.5 324.6 L745.1 325.1 L745.7 325 L746.3 324.4 L746.9 324.3 L747.5 324.9 L748.1 325.4 L748.7 325.2 L749.3 325.3 L749.9 325.6 L750 325.3 L750 325.5 L750.6 325.5 L751.2 325.6 L751.8 325.4 L752.4 325.4 L753 325.1 L753.6 325.3 L754.2 325 L754.8 325.3 L755.4 325.5 L756 324.8 L756.6 324.4 L757.2 324.7 L757.8 324.8 L758.4 324.9 L759 324.9 L759.6 324.4 L760.2 324.3 L760.8 324.7 L761.4 324.2 L762 324.6 L762.5 324.3 L762.5 324.3 L763.1 324.4 L763.7 324.3 L764.3 324.3 L764.9 324.2 L765.5 323.8 L766.1 324 L766.7 323.9 L767.3 323.9 L767.5 323.8 L767.5 324.1 L768.1 324 L768.7 324.1 L769.3 324.4 L769.9 324.7 L770.5 325.2 L771.1 325.1 L771.7 325.8 L772.3 325.8 L772.9 325.9 L773.5 325.9 L774.1 326.5 L774.7 326.9 L774.9 326.4 L774.9 326.8" fill="none" stroke="#3fe090" stroke-width="1.8" stroke-linejoin="round" stroke-linecap="round" stroke-opacity="0.9"/>
<line x1="426.9" y1="344.5" x2="775" y2="344.5" stroke="#555" stroke-width="0.8"/>
<path d="M756 344.5 V347 M765.6 344.5 V346 M736.6 344.5 V347 M746.3 344.5 V346 M717.2 344.5 V347 M726.9 344.5 V346 M697.9 344.5 V347 M707.6 344.5 V346 M678.6 344.5 V347 M688.2 344.5 V346 M659.2 344.5 V347 M668.9 344.5 V346 M639.9 344.5 V347 M649.5 344.5 V346 M620.5 344.5 V347 M630.2 344.5 V346 M601.1 344.5 V347 M610.8 344.5 V346 M581.8 344.5 V347 M591.5 344.5 V346 M562.5 344.5 V347 M572.1 344.5 V346 M543.1 344.5 V347 M552.8 344.5 V346 M523.8 344.5 V347 M533.4 344.5 V346 M504.4 344.5 V347 M514.1 344.5 V346 M485.1 344.5 V347 M494.7 344.5 V346 M465.7 344.5 V347 M475.4 344.5 V346 M446.4 344.5 V347 M456 344.5 V346" stroke="#333" stroke-width="0.8"/>
<text x="756" y="351.5" font-size="5.5" font-weight="bold" text-anchor="middle" fill="#333" >-1</text>
<text x="736.6" y="351.5" font-size="5.5" font-weight="bold" text-anchor="middle" fill="#333" >0</text>
<text x="717.2" y="351.5" font-size="5.5" font-weight="bold" text-anchor="middle" fill="#333" >1</text>
<text x="697.9" y="351.5" font-size="5.5" font-weight="bold" text-anchor="middle" fill="#333" >2</text>
<text x="678.6" y="351.5" font-size="5.5" font-weight="bold" text-anchor="middle" fill="#333" >3</text>
<text x="659.2" y="351.5" font-size="5.5" font-weight="bold" text-anchor="middle" fill="#333" >4</text>
<text x="639.9" y="351.5" font-size="5.5" font-weight="bold" text-anchor="middle" fill="#333" >5</text>
<text x="620.5" y="351.5" font-size="5.5" font-weight="bold" text-anchor="middle" fill="#333" >6</text>
<text x="601.1" y="351.5" font-size="5.5" font-weight="bold" text-anchor="middle" fill="#333" >7</text>
<text x="581.8" y="351.5" font-size="5.5" font-weight="bold" text-anchor="middle" fill="#333" >8</text>
<text x="562.5" y="351.5" font-size="5.5" font-weight="bold" text-anchor="middle" fill="#333" >9</text>
<text x="543.1" y="351.5" font-size="5.5" font-weight="bold" text-anchor="middle" fill="#333" >10</text>
<text x="523.8" y="351.5" font-size="5.5" font-weight="bold" text-anchor="middle" fill="#333" >11</text>
<text x="504.4" y="351.5" font-size="5.5" font-weight="bold" text-anchor="middle" fill="#333" >12</text>
<text x="485.1" y="351.5" font-size="5.5" font-weight="bold" text-anchor="middle" fill="#333" >13</text>
<text x="465.7" y="351.5" font-size="5.5" font-weight="bold" text-anchor="middle" fill="#333" >14</text>
<text x="446.4" y="351.5" font-size="5.5" font-weight="bold" text-anchor="middle" fill="#333" >15</text>
<text x="601" y="357.8" font-size="5.5" font-weight="bold" text-anchor="middle" fill="#333" >f1 (ppm)</text>
<text transform="translate(454,737) scale(1,1.04)" font-size="13.5" fill="#1e1e1e">COS</text>
<text transform="translate(457.3,894.6) scale(1,1.04)" font-size="13.5" fill="#1e1e1e">GCOS</text>
<path d="M441.8 807.8 L489 808.2 L521 807.3 L523.9 807.2 L524.4 775 L524.6 770.3 L524.9 775 L525.4 807.1 L535 807.1 L545 805 L546.4 803.6 L547.4 800 L548 793.3 L548.6 800 L549.9 803.6 L551.5 795 L552.2 782.9 L553.3 732.4 L554.3 690 L555.2 660.6 L557.2 660.6 L557.9 737 L559 770 L560.2 792.1 L563.7 802.5 L566.7 801.3 L569.4 805.9 L580.9 807.1 L588 809 L590.1 810.4 L591.5 800 L592.4 784.7 L593.3 769.4 L593.8 793 L594.7 805.6 L595.6 806.3 L596.6 772.2 L597.2 734.7 L597.7 685.4 L598.4 716.7 L599.1 741.7 L599.7 716.7 L600.2 733.3 L600.8 691.7 L601.5 744.4 L602.3 772.2 L603 783.3 L603.6 769.4 L604.4 791 L605.2 702.8 L605.8 707 L606.5 723.6 L607.2 740.3 L608.1 734.7 L609.1 758.3 L609.9 731.9 L610.6 758.3 L611.6 786.1 L613 795.8 L615.8 796.5 L617.2 766.7 L618.3 775 L619.4 754.2 L620.2 783.3 L621.3 795.8 L624.4 802.8 L625.5 800 L626.6 784.7 L627.6 786.1 L628.6 801.4 L631.1 804.2 L633.1 804.9 L634.5 779.2 L635.5 750.7 L636.3 772.2 L637.3 758.3 L638.3 779.2 L639.4 798.6 L640.5 794.4 L641.5 790.3 L642.4 798.6 L645 800.7 L648 802.5 L651.6 803 L666.4 804.2 L667.6 800.5 L668.9 804.7 L686.1 806.7 L687.8 790 L688.6 772.9 L689.4 790 L690.6 803 L692.4 795 L693 784.5 L693.6 795 L694.8 804.2 L713.2 805.9 L737.9 806.7 L781 807.4" fill="none" stroke="#ee2a2a" stroke-width="0.9" stroke-linejoin="round" stroke-linecap="round" />
<path d="M441.4 963.6 L454.5 963.6 L455.6 961.7 L456.7 963.6 L489 963.6 L524 962.2 L524.6 962.2 L525.2 959.4 L525.9 962.2 L536.5 961 L537.2 959.4 L538 961 L544.1 960.6 L548.7 957.1 L552.2 947.9 L553.8 920.3 L554.3 880 L555.1 814.6 L556.9 814.6 L557.5 880 L557.9 920.3 L559.1 936.4 L560.7 938.7 L562.5 952.5 L567.1 958.3 L571.7 961.7 L580.9 962.2 L585 962.4 L588.8 961.4 L590.7 959.5 L591.7 953.8 L592.7 955.7 L594.1 953.8 L596 950.9 L597 942.3 L597.6 918.3 L598.4 909.7 L599.2 927.9 L600.3 937.5 L601.1 935.6 L602.2 918.3 L602.9 911.6 L603.7 918.3 L604.6 908.7 L605.9 891.5 L606.6 899.2 L607.5 918.3 L608.5 930.8 L609.1 921.2 L610.1 913.5 L611.1 927.9 L612.3 937.5 L614.7 949.9 L616.6 949 L618 943.7 L619 946.1 L620.2 945.1 L621.4 949.9 L623.3 957.6 L626.2 959.5 L628.1 958.5 L631 960.9 L633.4 960 L635.8 961.4 L638.6 960.5 L641 949 L643.2 939.4 L644.4 945.1 L645.8 959.5 L647.3 960.5 L648.2 953.8 L649.2 955.7 L650.1 961.4 L651.6 960.5 L652 963.3 L655.9 964.3 L656.3 813.7 L657.8 813.7 L658.3 951.8 L660 955.7 L664 957.9 L672.6 957.9 L677.5 959.1 L686.1 957.9 L688.6 935.2 L690.3 955.4 L696 957.9 L702.2 950.5 L704.6 953 L707.1 948.5 L710.8 950.5 L714.5 955.4 L718.2 951.7 L720.6 955.4 L728 956.2 L731.7 957.9 L734.2 959.1 L735 958.3 L735.2 958.3 L735.5 958.2 L735.8 958.2 L736 958.2 L736.2 958.1 L736.5 958.1 L736.8 958 L737 958 L737.2 957.9 L737.5 957.8 L737.8 957.7 L738 957.6 L738.2 957.5 L738.5 957.3 L738.8 957.1 L739 956.8 L739.2 956.4 L739.5 955.6 L739.8 954.5 L740 952.3 L740.2 948.3 L740.5 941.7 L740.8 938.7 L741 944.4 L741.2 950.1 L741.5 953.1 L741.8 954.8 L742 955.6 L742.2 956 L742.5 956.2 L742.8 956.3 L743 956.1 L743.2 955.8 L743.5 955.1 L743.8 953.7 L744 950.8 L744.2 945.1 L744.5 937.2 L744.8 938.6 L745 946.8 L745.2 952.1 L745.5 954.8 L745.8 956.2 L746 957.1 L746.2 957.7 L746.5 958.1 L746.8 958.4 L747 958.6 L747.2 958.8 L747.5 958.9 L747.8 959.1 L748 959.2 L748.2 959.3 L748.5 959.4 L748.8 959.5 L749 959.6 L749.2 959.6 L749.5 959.7 L749.8 959.8 L750 959.8 L750.2 959.8 L750.5 959.8 L750.8 959.8 L751 959.8 L751.2 959.7 L751.5 959.6 L751.8 959.5 L752 959.4 L752.2 959.2 L752.5 958.9 L752.8 958.4 L753 957.6 L753.2 956.1 L753.5 953.3 L753.8 947.7 L754 940 L754.2 941.3 L754.5 949.1 L754.8 954.1 L755 956.6 L755.2 957.9 L755.5 958.7 L755.8 959.1 L756 959.4 L756.2 959.6 L756.5 959.8 L756.8 959.9 L757 960 L757.2 960 L757.5 960.1 L757.8 960.1 L758 960.2 L758.2 960.2 L758.5 960.2 L758.8 960.2 L759 960.2 L759.2 960.2 L759.5 960.2 L759.8 960.3 L760 960.3 L781 962.3" fill="none" stroke="#2ccf94" stroke-width="1.2" stroke-linejoin="round" stroke-linecap="round" />
<path d="M556 815 V918" stroke="#2ccf94" stroke-width="1.4" stroke-opacity="0.5" fill="none"/>
<path d="M657.05 814.5 V950" stroke="#2ccf94" stroke-width="1.5" fill="none"/>
<ellipse cx="748" cy="951" rx="21.2" ry="16.2" fill="none" stroke="#e02020" stroke-width="1.5"/>
<text x="746.7" y="920.9" font-size="16" font-weight="bold" text-anchor="middle" fill="#111" >a</text>
<line x1="441.4" y1="969.7" x2="780.2" y2="969.7" stroke="#333" stroke-width="1.1"/>
<path d="M780.2 969.7 V974.8 M731.8 969.7 V974.8 M756 969.7 V972.3 M683.4 969.7 V974.8 M707.6 969.7 V972.3 M635 969.7 V974.8 M659.2 969.7 V972.3 M586.6 969.7 V974.8 M610.8 969.7 V972.3 M538.2 969.7 V974.8 M562.4 969.7 V972.3 M489.8 969.7 V974.8 M514 969.7 V972.3 M441.4 969.7 V974.8 M465.6 969.7 V972.3" stroke="#333" stroke-width="1"/>
<text x="780.2" y="985" font-size="8" font-weight="bold" text-anchor="middle" fill="#222" >0</text>
<text x="731.8" y="985" font-size="8" font-weight="bold" text-anchor="middle" fill="#222" >1</text>
<text x="683.4" y="985" font-size="8" font-weight="bold" text-anchor="middle" fill="#222" >2</text>
<text x="635" y="985" font-size="8" font-weight="bold" text-anchor="middle" fill="#222" >3</text>
<text x="586.6" y="985" font-size="8" font-weight="bold" text-anchor="middle" fill="#222" >4</text>
<text x="538.2" y="985" font-size="8" font-weight="bold" text-anchor="middle" fill="#222" >5</text>
<text x="489.8" y="985" font-size="8" font-weight="bold" text-anchor="middle" fill="#222" >6</text>
<text x="441.4" y="985" font-size="8" font-weight="bold" text-anchor="middle" fill="#222" >7</text>
<path d="M49.51 620.5 L49.61 619.9 L49.71 619.3 L49.81 618.7 L49.91 618.1 L50.01 617.5 L50.11 617.4 L50.21 617.9 L50.31 618.3 L50.41 618.8 L50.52 619.2 L50.62 619.7 L50.72 619.8 L50.82 619.9 L50.92 620.1 L51.02 620.2 L51.12 620.3 L51.22 620.5 L51.32 620.8 L51.42 621.1 L51.52 621.4 L51.62 621.7 L51.72 622.0 L51.82 621.1 L51.92 620.2 L52.02 619.4 L52.12 618.5 L52.22 617.6 L52.32 617.8 L52.42 618.9 L52.52 620.0 L52.62 621.1 L52.72 622.2 L52.82 623.3 L52.92 622.2 L53.02 621.2 L53.12 620.1 L53.22 619.0 L53.32 617.9 L53.42 617.5 L53.52 617.8 L53.62 618.2 L53.72 618.5 L53.82 618.7 L53.92 618.8 L54.02 618.2 L54.12 617.3 L54.22 616.0 L54.32 614.4 L54.42 613.0 L54.52 612.3 L54.62 612.7 L54.72 613.9 L54.82 615.6 L54.92 617.6 L55.02 619.3 L55.12 619.9 L55.22 620.0 L55.32 619.7 L55.42 619.2 L55.52 618.5 L55.62 618.0 L55.72 618.0 L55.82 618.2 L55.92 618.7 L56.02 619.4 L56.12 620.2 L56.22 620.2 L56.32 620.2 L56.42 620.0 L56.52 619.6 L56.62 619.2 L56.72 619.2 L56.82 619.5 L56.92 619.8 L57.02 620.2 L57.12 620.5 L57.22 620.8 L57.32 620.3 L57.42 619.9 L57.52 619.3 L57.62 618.7 L57.72 617.9 L57.82 617.1 L57.92 616.3 L58.02 615.5 L58.12 614.9 L58.22 614.6 L58.32 614.7 L58.42 615.0 L58.52 615.5 L58.62 616.0 L58.72 616.4 L58.82 616.5 L58.92 616.7 L59.02 616.8 L59.12 616.7 L59.22 616.4 L59.32 616.1 L59.42 616.1 L59.52 615.2 L59.62 614.7 L59.72 614.7 L59.82 614.7 L59.92 614.8 L60.02 615.4 L60.12 616.5 L60.22 617.4 L60.32 617.9 L60.42 618.4 L60.52 619.0 L60.62 618.5 L60.72 618.3 L60.82 618.2 L60.92 618.2 L61.02 618.0 L61.12 617.6 L61.22 616.9 L61.32 616.0 L61.42 615.3 L61.52 615.0 L61.62 615.2 L61.72 616.1 L61.82 617.3 L61.92 618.4 L62.02 619.2 L62.12 619.7 L62.22 620.1 L62.32 620.2 L62.42 620.1 L62.52 619.9 L62.62 619.8 L62.72 619.8 L62.82 618.9 L62.92 618.4 L63.02 618.1 L63.12 617.9 L63.22 617.7 L63.32 618.0 L63.42 618.7 L63.52 619.3 L63.62 619.8 L63.72 620.3 L63.82 620.7 L63.92 619.9 L64.02 619.2 L64.12 618.4 L64.22 617.6 L64.32 616.8 L64.42 616.6 L64.52 617.1 L64.62 617.4 L64.72 617.6 L64.82 617.6 L64.92 617.6 L65.02 616.7 L65.12 616.0 L65.22 615.7 L65.32 615.7 L65.42 616.0 L65.52 616.8 L65.62 617.7 L65.72 618.5 L65.82 619.0 L65.92 619.2 L66.02 619.2 L66.12 618.4 L66.22 617.6 L66.32 616.8 L66.42 616.4 L66.52 616.3 L66.62 616.9 L66.72 618.1 L66.82 619.3 L66.92 620.3 L67.02 621.0 L67.12 621.3 L67.22 620.3 L67.32 619.1 L67.42 618.0 L67.52 617.1 L67.62 616.5 L67.72 616.4 L67.82 616.7 L67.92 616.9 L68.02 616.6 L68.12 615.9 L68.22 614.8 L68.32 613.8 L68.42 613.0 L68.52 613.0 L68.62 613.7 L68.72 614.9 L68.82 616.3 L68.92 617.7 L69.02 618.7 L69.12 619.3 L69.22 619.4 L69.32 619.2 L69.42 618.5 L69.52 617.6 L69.62 616.9 L69.72 616.5 L69.82 616.5 L69.92 616.8 L70.02 617.2 L70.12 617.6 L70.22 618.0 L70.32 618.1 L70.42 618.1 L70.52 618.6 L70.62 618.9 L70.72 619.2 L70.82 619.5 L70.92 619.7 L71.02 620.0 L71.12 620.2 L71.22 620.5 L71.32 620.7 L71.42 620.7 L71.52 620.7 L71.62 619.0 L71.72 617.1 L71.82 615.0 L71.92 612.8 L72.02 610.8 L72.12 610.2 L72.22 611.1 L72.32 612.6 L72.42 614.5 L72.52 616.4 L72.62 618.1 L72.72 618.0 L72.82 617.4 L72.92 616.3 L73.02 615.0 L73.12 613.3 L73.22 612.4 L73.32 612.3 L73.42 612.6 L73.52 613.5 L73.62 614.8 L73.72 616.2 L73.82 616.5 L73.92 616.5 L74.02 616.1 L74.12 615.4 L74.22 614.3 L74.32 613.9 L74.42 614.4 L74.52 615.2 L74.62 616.3 L74.72 617.7 L74.82 619.1 L74.92 618.2 L75.02 616.9 L75.12 615.0 L75.22 612.8 L75.32 610.6 L75.42 609.7 L75.52 610.4 L75.62 611.8 L75.72 613.7 L75.82 615.6 L75.92 617.3 L76.02 617.2 L76.12 616.6 L76.22 615.5 L76.32 614.0 L76.42 612.3 L76.52 611.4 L76.62 611.6 L76.72 612.2 L76.82 613.4 L76.92 615.2 L77.02 617.1 L77.12 617.5 L77.22 617.7 L77.32 617.7 L77.42 617.4 L77.52 616.9 L77.62 617.2 L77.72 618.2 L77.82 619.2 L77.92 620.2 L78.02 621.2 L78.12 622.1 L78.22 621.3 L78.32 620.4 L78.42 619.4 L78.52 618.1 L78.62 616.6 L78.72 615.5 L78.82 614.8 L78.92 614.1 L79.02 613.8 L79.12 614.0 L79.22 614.9 L79.32 615.6 L79.42 616.5 L79.52 617.3 L79.62 617.9 L79.72 618.1 L79.82 617.9 L79.92 617.3 L80.02 616.3 L80.12 615.2 L80.22 614.2 L80.32 613.4 L80.42 613.4 L80.52 613.8 L80.62 614.5 L80.72 615.2 L80.82 615.9 L80.92 616.2 L81.02 615.9 L81.12 615.4 L81.22 614.7 L81.32 613.9 L81.42 613.2 L81.52 613.0 L81.62 613.0 L81.72 613.1 L81.82 612.8 L81.92 612.0 L82.02 610.5 L82.12 608.6 L82.22 606.4 L82.32 604.8 L82.42 604.4 L82.52 605.6 L82.62 607.2 L82.72 609.4 L82.82 611.5 L82.92 613.0 L83.02 613.6 L83.12 614.0 L83.22 614.2 L83.32 614.0 L83.42 613.6 L83.52 613.3 L83.62 613.2 L83.72 613.2 L83.82 613.8 L83.92 614.8 L84.02 615.9 L84.12 616.9 L84.22 617.8 L84.32 618.4 L84.42 618.8 L84.52 619.1 L84.62 619.3 L84.72 619.5 L84.82 619.3 L84.92 619.1 L85.02 618.8 L85.12 618.6 L85.22 618.3 L85.32 618.1 L85.42 618.1 L85.52 617.9 L85.62 617.5 L85.72 616.7 L85.82 615.9 L85.92 614.8 L86.02 614.1 L86.12 613.9 L86.22 614.3 L86.32 615.2 L86.42 615.9 L86.52 616.4 L86.62 616.5 L86.72 616.3 L86.82 615.7 L86.92 614.7 L87.02 614.4 L87.12 614.1 L87.22 613.8 L87.32 613.9 L87.42 614.4 L87.52 615.0 L87.62 615.6 L87.72 616.2 L87.82 616.6 L87.92 616.7 L88.02 616.4 L88.12 615.9 L88.22 615.2 L88.32 614.5 L88.42 614.1 L88.52 614.0 L88.62 614.2 L88.72 614.4 L88.82 614.4 L88.92 614.1 L89.02 613.1 L89.12 611.5 L89.22 609.7 L89.32 608.1 L89.42 607.3 L89.52 607.5 L89.62 608.6 L89.72 610.7 L89.82 613.4 L89.92 615.7 L90.02 617.4 L90.12 618.6 L90.22 619.3 L90.32 617.2 L90.42 614.9 L90.52 612.6 L90.62 610.6 L90.72 609.2 L90.82 609.2 L90.92 610.4 L91.02 611.9 L91.12 613.4 L91.22 614.6 L91.32 615.5 L91.42 615.5 L91.52 615.2 L91.62 614.9 L91.72 614.5 L91.82 614.1 L91.92 614.3 L92.02 615.2 L92.12 616.0 L92.22 616.8 L92.32 617.6 L92.42 618.2 L92.52 617.8 L92.62 617.3 L92.72 616.5 L92.82 615.6 L92.92 614.8 L93.02 614.5 L93.12 614.8 L93.22 615.6 L93.32 616.8 L93.42 618.1 L93.52 619.3 L93.62 618.5 L93.72 617.4 L93.82 616.0 L93.92 614.2 L94.02 612.2 L94.12 611.2 L94.22 611.4 L94.32 611.9 L94.42 612.9 L94.52 614.2 L94.62 615.8 L94.72 616.5 L94.82 617.0 L94.92 617.2 L95.02 617.0 L95.12 616.6 L95.22 615.8 L95.32 614.9 L95.42 614.2 L95.52 613.8 L95.62 613.6 L95.72 613.6 L95.82 613.4 L95.92 612.8 L96.02 611.4 L96.12 609.4 L96.22 607.0 L96.32 605.3 L96.42 605.0 L96.52 605.9 L96.62 607.9 L96.72 610.7 L96.82 613.4 L96.92 614.9 L97.02 615.8 L97.12 615.9 L97.22 615.5 L97.32 614.7 L97.42 614.0 L97.52 613.6 L97.62 613.4 L97.72 613.7 L97.82 614.5 L97.92 615.6 L98.02 616.3 L98.12 617.0 L98.22 617.5 L98.32 617.7 L98.42 617.8 L98.52 618.2 L98.62 619.0 L98.72 619.7 L98.82 620.4 L98.92 621.1 L99.02 621.8 L99.12 620.4 L99.22 618.9 L99.32 617.2 L99.42 615.5 L99.52 613.4 L99.62 612.2 L99.72 611.7 L99.82 611.1 L99.92 610.5 L100.02 610.4 L100.12 611.1 L100.22 611.2 L100.32 611.9 L100.42 612.9 L100.52 613.8 L100.62 614.3 L100.72 615.0 L100.82 615.9 L100.92 616.4 L101.02 616.5 L101.12 616.5 L101.22 616.6 L101.32 615.2 L101.42 614.2 L101.52 613.6 L101.62 613.3 L101.72 613.0 L101.82 613.7 L101.92 615.3 L102.02 616.6 L102.12 617.5 L102.22 618.2 L102.32 619.0 L102.42 617.7 L102.52 616.8 L102.62 616.2 L102.72 615.9 L102.82 615.7 L102.92 616.3 L103.02 617.7 L103.12 618.8 L103.22 619.9 L103.32 620.9 L103.42 621.7 L103.52 621.2 L103.62 620.5 L103.72 619.9 L103.82 619.3 L103.92 618.6 L104.02 617.9 L104.12 617.2 L104.22 616.1 L104.32 614.6 L104.42 612.4 L104.52 609.5 L104.62 606.3 L104.72 603.2 L104.82 601.0 L104.92 600.3 L105.02 601.3 L105.12 604.2 L105.22 607.9 L105.32 611.4 L105.42 614.2 L105.52 616.0 L105.62 617.1 L105.72 616.3 L105.82 615.1 L105.92 613.7 L106.02 612.4 L106.12 611.5 L106.22 611.3 L106.32 611.8 L106.42 612.8 L106.52 613.8 L106.62 614.7 L106.72 615.4 L106.82 616.0 L106.92 616.4 L107.02 616.7 L107.12 616.9 L107.22 617.0 L107.32 617.2 L107.42 617.4 L107.52 617.6 L107.62 617.8 L107.72 617.9 L107.82 617.9 L107.92 616.9 L108.02 615.7 L108.12 614.2 L108.22 612.4 L108.32 610.5 L108.42 609.5 L108.52 609.8 L108.62 610.8 L108.72 612.4 L108.82 614.4 L108.92 616.5 L109.02 616.9 L109.12 617.0 L109.22 616.6 L109.32 615.8 L109.42 614.6 L109.52 613.6 L109.62 613.0 L109.72 612.6 L109.82 612.5 L109.92 612.9 L110.02 613.6 L110.12 613.7 L110.22 613.7 L110.32 613.4 L110.42 612.8 L110.52 611.7 L110.62 611.4 L110.72 611.9 L110.82 612.6 L110.92 613.5 L111.02 614.8 L111.12 616.3 L111.22 614.9 L111.32 612.9 L111.42 610.0 L111.52 606.0 L111.62 601.4 L111.72 598.7 L111.82 598.7 L111.92 600.6 L112.02 604.3 L112.12 609.0 L112.22 614.0 L112.32 615.4 L112.42 615.8 L112.52 615.3 L112.62 614.1 L112.72 612.3 L112.82 611.1 L112.92 610.7 L113.02 610.5 L113.12 610.7 L113.22 611.4 L113.32 612.5 L113.42 613.8 L113.52 615.1 L113.62 616.2 L113.72 617.1 L113.82 617.8 L113.92 618.2 L114.02 618.5 L114.12 618.7 L114.22 618.9 L114.32 619.0 L114.42 619.2 L114.52 618.2 L114.62 617.2 L114.72 616.1 L114.82 614.9 L114.92 613.6 L115.02 613.1 L115.12 613.6 L115.22 613.8 L115.32 614.2 L115.42 614.8 L115.52 615.9 L115.62 615.1 L115.72 614.8 L115.82 614.7 L115.92 614.5 L116.02 614.1 L116.12 613.9 L116.22 613.9 L116.32 613.5 L116.42 612.6 L116.52 611.4 L116.62 610.4 L116.72 609.4 L116.82 609.1 L116.92 609.6 L117.02 610.7 L117.12 611.9 L117.22 613.1 L117.32 614.1 L117.42 614.5 L117.52 614.5 L117.62 614.1 L117.72 613.7 L117.82 613.3 L117.92 613.2 L118.02 613.3 L118.12 613.6 L118.22 613.5 L118.32 612.9 L118.42 611.5 L118.52 609.0 L118.62 606.0 L118.72 603.5 L118.82 602.4 L118.92 602.2 L119.02 604.0 L119.12 606.8 L119.22 609.7 L119.32 611.8 L119.42 613.6 L119.52 615.0 L119.62 615.6 L119.72 615.5 L119.82 615.1 L119.92 614.5 L120.02 613.0 L120.12 612.0 L120.22 611.8 L120.32 612.2 L120.42 612.9 L120.52 613.9 L120.62 614.8 L120.72 615.4 L120.82 615.6 L120.92 615.7 L121.02 615.6 L121.12 615.6 L121.22 615.6 L121.32 615.6 L121.42 615.5 L121.52 615.5 L121.62 615.8 L121.72 616.4 L121.82 616.9 L121.92 617.1 L122.02 617.0 L122.12 616.6 L122.22 614.8 L122.32 613.1 L122.42 611.7 L122.52 611.1 L122.62 611.2 L122.72 611.9 L122.82 612.9 L122.92 613.9 L123.02 614.5 L123.12 614.6 L123.22 614.1 L123.32 613.6 L123.42 612.7 L123.52 611.6 L123.62 610.6 L123.72 610.0 L123.82 610.0 L123.92 610.4 L124.02 611.3 L124.12 612.3 L124.22 613.0 L124.32 613.2 L124.42 613.1 L124.52 612.4 L124.62 611.4 L124.72 610.3 L124.82 609.7 L124.92 609.8 L125.02 610.7 L125.12 612.0 L125.22 613.4 L125.32 614.5 L125.42 614.8 L125.52 612.6 L125.62 609.1 L125.72 604.3 L125.82 598.8 L125.92 593.9 L126.02 591.6 L126.12 592.5 L126.22 595.9 L126.32 600.8 L126.42 605.9 L126.52 610.2 L126.62 612.3 L126.72 613.3 L126.82 613.2 L126.92 612.5 L127.02 611.4 L127.12 610.7 L127.22 610.7 L127.32 611.1 L127.42 612.1 L127.52 613.6 L127.62 615.4 L127.72 615.5 L127.82 615.5 L127.92 615.1 L128.02 614.5 L128.12 613.8 L128.22 613.9 L128.32 615.0 L128.42 616.0 L128.52 617.1 L128.62 618.1 L128.72 619.1 L128.82 618.0 L128.92 616.7 L129.02 615.2 L129.12 613.4 L129.22 611.1 L129.32 609.7 L129.42 609.2 L129.52 608.7 L129.62 608.8 L129.72 609.8 L129.82 611.9 L129.92 612.5 L130.02 613.5 L130.12 614.5 L130.22 615.0 L130.32 614.8 L130.42 614.4 L130.52 614.0 L130.62 613.0 L130.72 611.6 L130.82 610.4 L130.92 609.7 L131.02 608.6 L131.12 608.4 L131.22 608.8 L131.32 609.4 L131.42 609.8 L131.52 610.8 L131.62 612.2 L131.72 612.9 L131.82 613.2 L131.92 613.4 L132.02 613.8 L132.12 612.3 L132.22 611.2 L132.32 610.2 L132.42 608.6 L132.52 605.8 L132.62 602.2 L132.72 597.9 L132.82 593.1 L132.92 589.3 L133.02 588.1 L133.12 590.2 L133.22 593.9 L133.32 599.1 L133.42 604.0 L133.52 607.8 L133.62 609.9 L133.72 611.2 L133.82 612.1 L133.92 612.2 L134.02 612.0 L134.12 611.8 L134.22 611.8 L134.32 610.9 L134.42 610.6 L134.52 610.7 L134.62 610.9 L134.72 611.1 L134.82 612.1 L134.92 614.0 L135.02 615.6 L135.12 617.0 L135.22 618.3 L135.32 619.6 L135.42 619.1 L135.52 618.5 L135.62 617.9 L135.72 617.4 L135.82 616.7 L135.92 616.6 L136.02 616.8 L136.12 616.7 L136.22 616.2 L136.32 615.3 L136.42 614.1 L136.52 612.1 L136.62 610.7 L136.72 610.3 L136.82 610.9 L136.92 612.1 L137.02 613.9 L137.12 615.9 L137.22 617.3 L137.32 618.0 L137.42 618.0 L137.52 617.4 L137.62 614.7 L137.72 611.8 L137.82 609.1 L137.92 607.1 L138.02 605.9 L138.12 606.5 L138.22 608.4 L138.32 610.4 L138.42 612.0 L138.52 612.9 L138.62 613.1 L138.72 612.6 L138.82 611.6 L138.92 610.8 L139.02 610.3 L139.12 610.3 L139.22 610.5 L139.32 610.2 L139.42 608.8 L139.52 605.3 L139.62 599.1 L139.72 590.6 L139.82 581.3 L139.92 573.9 L140.02 570.7 L140.12 573.0 L140.22 579.6 L140.32 588.8 L140.42 597.9 L140.52 605.0 L140.62 609.7 L140.72 612.2 L140.82 613.1 L140.92 612.1 L141.02 610.7 L141.12 609.2 L141.22 608.0 L141.32 607.5 L141.42 608.3 L141.52 610.3 L141.62 612.5 L141.72 614.6 L141.82 616.1 L141.92 617.1 L142.02 615.1 L142.12 612.3 L142.22 608.9 L142.32 605.2 L142.42 602.0 L142.52 601.0 L142.62 602.5 L142.72 605.2 L142.82 608.5 L142.92 611.6 L143.02 614.0 L143.12 613.6 L143.22 612.1 L143.32 609.7 L143.42 606.9 L143.52 604.3 L143.62 603.0 L143.72 603.4 L143.82 605.1 L143.92 607.7 L144.02 610.6 L144.12 613.2 L144.22 614.6 L144.32 615.2 L144.42 614.9 L144.52 613.8 L144.62 612.0 L144.72 610.3 L144.82 609.2 L144.92 608.9 L145.02 609.7 L145.12 611.6 L145.22 614.1 L145.32 615.1 L145.42 615.8 L145.52 615.7 L145.62 614.9 L145.72 613.5 L145.82 612.2 L145.92 611.3 L146.02 610.7 L146.12 610.4 L146.22 610.4 L146.32 610.0 L146.42 607.8 L146.52 603.5 L146.62 596.0 L146.72 585.6 L146.82 573.7 L146.92 563.6 L147.02 558.6 L147.12 559.9 L147.22 567.4 L147.32 578.6 L147.42 590.4 L147.52 600.0 L147.62 606.7 L147.72 610.4 L147.82 611.9 L147.92 611.9 L148.02 610.8 L148.12 609.1 L148.22 607.6 L148.32 606.9 L148.42 606.9 L148.52 607.7 L148.62 609.0 L148.72 610.2 L148.82 610.9 L148.92 610.9 L149.02 609.8 L149.12 608.0 L149.22 605.5 L149.32 602.5 L149.42 599.7 L149.52 598.1 L149.62 598.5 L149.72 600.3 L149.82 603.3 L149.92 606.5 L150.02 609.1 L150.12 610.6 L150.22 611.1 L150.32 610.6 L150.42 609.5 L150.52 608.3 L150.62 607.4 L150.72 607.2 L150.82 608.3 L150.92 610.2 L151.02 612.3 L151.12 614.3 L151.22 615.9 L151.32 616.8 L151.42 616.8 L151.52 616.1 L151.62 614.6 L151.72 612.8 L151.82 611.2 L151.92 609.3 L152.02 608.6 L152.12 609.1 L152.22 610.5 L152.32 612.2 L152.42 613.8 L152.52 614.9 L152.62 615.0 L152.72 614.1 L152.82 612.6 L152.92 610.9 L153.02 609.0 L153.12 607.7 L153.22 606.9 L153.32 606.0 L153.42 603.5 L153.52 598.4 L153.62 589.5 L153.72 576.3 L153.82 561.2 L153.92 548.1 L154.02 541.6 L154.12 542.6 L154.22 551.9 L154.32 566.1 L154.42 580.8 L154.52 592.6 L154.62 601.2 L154.72 606.7 L154.82 609.2 L154.92 609.6 L155.02 608.8 L155.12 607.8 L155.22 605.1 L155.32 603.6 L155.42 603.4 L155.52 604.4 L155.62 605.9 L155.72 608.4 L155.82 611.2 L155.92 612.9 L156.02 613.3 L156.12 612.3 L156.22 610.0 L156.32 605.1 L156.42 600.5 L156.52 597.4 L156.62 596.5 L156.72 597.6 L156.82 601.2 L156.92 606.0 L157.02 610.0 L157.12 612.6 L157.22 613.7 L157.32 613.5 L157.42 610.4 L157.52 607.3 L157.62 604.9 L157.72 603.7 L157.82 604.0 L157.92 605.7 L158.02 608.2 L158.12 610.5 L158.22 612.1 L158.32 612.7 L158.42 612.2 L158.52 610.9 L158.62 608.7 L158.72 606.1 L158.82 603.7 L158.92 602.2 L159.02 602.2 L159.12 603.6 L159.22 605.9 L159.32 608.5 L159.42 610.6 L159.52 611.6 L159.62 611.1 L159.72 609.5 L159.82 607.2 L159.92 604.8 L160.02 603.0 L160.12 602.5 L160.22 603.2 L160.32 604.1 L160.42 604.0 L160.52 601.3 L160.62 594.4 L160.72 582.3 L160.82 566.8 L160.92 551.1 L161.02 539.9 L161.12 536.9 L161.22 543.3 L161.32 556.8 L161.42 573.0 L161.52 587.8 L161.62 598.8 L161.72 605.3 L161.82 608.1 L161.92 608.3 L162.02 606.7 L162.12 604.4 L162.22 602.2 L162.32 600.7 L162.42 600.5 L162.52 601.7 L162.62 604.0 L162.72 606.5 L162.82 608.4 L162.92 608.8 L163.02 607.4 L163.12 603.8 L163.22 598.0 L163.32 590.5 L163.42 583.4 L163.52 578.7 L163.62 577.5 L163.72 580.3 L163.82 586.3 L163.92 593.7 L164.02 600.2 L164.12 604.6 L164.22 606.4 L164.32 605.7 L164.42 603.1 L164.52 599.6 L164.62 596.4 L164.72 594.9 L164.82 595.6 L164.92 598.6 L165.02 603.0 L165.12 607.1 L165.22 610.6 L165.32 612.6 L165.42 613.1 L165.52 612.0 L165.62 610.2 L165.72 608.1 L165.82 605.7 L165.92 604.0 L166.02 603.8 L166.12 605.2 L166.22 606.3 L166.32 608.1 L166.42 609.9 L166.52 610.8 L166.62 610.5 L166.72 609.6 L166.82 608.4 L166.92 606.8 L167.02 605.3 L167.12 604.6 L167.22 604.8 L167.32 605.5 L167.42 606.4 L167.52 606.4 L167.62 604.0 L167.72 597.4 L167.82 585.1 L167.92 566.8 L168.02 544.7 L168.12 523.6 L168.22 509.6 L168.32 507.5 L168.42 517.5 L168.52 536.3 L168.62 557.8 L168.72 576.8 L168.82 590.3 L168.92 598.9 L169.02 603.7 L169.12 605.4 L169.22 605.3 L169.32 604.4 L169.42 603.7 L169.52 601.6 L169.62 600.9 L169.72 601.6 L169.82 603.2 L169.92 604.8 L170.02 606.6 L170.12 607.8 L170.22 607.3 L170.32 604.8 L170.42 600.4 L170.52 594.5 L170.62 588.7 L170.72 584.7 L170.82 584.0 L170.92 586.9 L171.02 592.4 L171.12 598.8 L171.22 604.3 L171.32 608.0 L171.42 609.7 L171.52 609.6 L171.62 608.3 L171.72 606.0 L171.82 604.0 L171.92 602.8 L172.02 602.9 L172.12 604.1 L172.22 606.4 L172.32 609.3 L172.42 611.6 L172.52 613.0 L172.62 613.3 L172.72 612.3 L172.82 609.9 L172.92 606.7 L173.02 603.6 L173.12 601.3 L173.22 600.5 L173.32 601.5 L173.42 603.7 L173.52 606.5 L173.62 608.9 L173.72 610.3 L173.82 610.2 L173.92 608.4 L174.02 605.4 L174.12 601.8 L174.22 597.9 L174.32 593.4 L174.42 587.5 L174.52 577.7 L174.62 561.2 L174.72 537.2 L174.82 508.5 L174.92 481.9 L175.02 465.1 L175.12 464.9 L175.22 481.3 L175.32 508.7 L175.42 538.7 L175.52 565.2 L175.62 584.6 L175.72 596.4 L175.82 602.2 L175.92 604.1 L176.02 604.0 L176.12 601.0 L176.22 598.3 L176.32 596.8 L176.42 596.8 L176.52 598.2 L176.62 600.9 L176.72 604.2 L176.82 606.6 L176.92 607.5 L177.02 606.4 L177.12 602.9 L177.22 596.2 L177.32 588.2 L177.42 580.5 L177.52 575.3 L177.62 574.1 L177.72 578.1 L177.82 586.0 L177.92 594.6 L178.02 601.9 L178.12 606.7 L178.22 608.7 L178.32 606.5 L178.42 602.7 L178.52 598.4 L178.62 595.0 L178.72 593.6 L178.82 594.7 L178.92 598.0 L179.02 602.4 L179.12 606.7 L179.22 610.1 L179.32 611.8 L179.42 612.1 L179.52 610.6 L179.62 607.7 L179.72 604.0 L179.82 600.3 L179.92 597.8 L180.02 597.3 L180.12 598.8 L180.22 602.0 L180.32 605.8 L180.42 609.1 L180.52 610.3 L180.62 609.8 L180.72 608.0 L180.82 605.1 L180.92 601.8 L181.02 600.0 L181.12 600.2 L181.22 601.5 L181.32 603.5 L181.42 605.2 L181.52 605.2 L181.62 599.8 L181.72 588.0 L181.82 567.8 L181.92 539.3 L182.02 506.1 L182.12 476.3 L182.22 458.6 L182.32 459.0 L182.42 477.2 L182.52 507.1 L182.62 539.6 L182.72 566.4 L182.82 585.1 L182.92 595.7 L183.02 600.1 L183.12 600.7 L183.22 600.0 L183.32 599.6 L183.42 599.3 L183.52 600.1 L183.62 602.2 L183.72 605.5 L183.82 607.4 L183.92 609.1 L184.02 610.0 L184.12 609.2 L184.22 606.2 L184.32 601.3 L184.42 594.6 L184.52 586.4 L184.62 578.6 L184.72 573.9 L184.82 574.0 L184.92 577.3 L185.02 584.0 L185.12 591.7 L185.22 598.0 L185.32 601.6 L185.42 603.2 L185.52 603.0 L185.62 601.3 L185.72 599.1 L185.82 597.5 L185.92 597.3 L186.02 598.5 L186.12 601.2 L186.22 604.6 L186.32 608.0 L186.42 610.6 L186.52 612.3 L186.62 613.0 L186.72 612.3 L186.82 610.6 L186.92 608.3 L187.02 606.0 L187.12 603.4 L187.22 602.2 L187.32 602.6 L187.42 604.2 L187.52 606.1 L187.62 608.4 L187.72 610.4 L187.82 611.0 L187.92 610.4 L188.02 608.8 L188.12 606.9 L188.22 603.8 L188.32 600.9 L188.42 597.5 L188.52 591.6 L188.62 580.4 L188.72 561.9 L188.82 535.8 L188.92 505.4 L189.02 478.4 L189.12 463.5 L189.22 466.2 L189.32 484.6 L189.42 513.3 L189.52 543.8 L189.62 569.1 L189.72 586.2 L189.82 596.3 L189.92 601.3 L190.02 602.4 L190.12 601.5 L190.22 599.9 L190.32 598.8 L190.42 596.9 L190.52 596.9 L190.62 598.4 L190.72 600.7 L190.82 602.7 L190.92 604.7 L191.02 605.8 L191.12 604.4 L191.22 600.3 L191.32 593.5 L191.42 585.3 L191.52 577.0 L191.62 571.8 L191.72 571.6 L191.82 576.1 L191.92 583.9 L192.02 592.6 L192.12 600.0 L192.22 604.4 L192.32 605.6 L192.42 604.1 L192.52 600.8 L192.62 595.1 L192.72 590.5 L192.82 588.4 L192.92 589.0 L193.02 591.9 L193.12 597.2 L193.22 603.7 L193.32 609.0 L193.42 612.6 L193.52 614.5 L193.62 614.8 L193.72 612.0 L193.82 608.6 L193.92 605.4 L194.02 603.1 L194.12 602.3 L194.22 603.5 L194.32 606.4 L194.42 609.6 L194.52 612.1 L194.62 613.4 L194.72 613.1 L194.82 610.4 L194.92 606.7 L195.02 602.8 L195.12 599.6 L195.22 597.6 L195.32 596.5 L195.42 595.0 L195.52 590.5 L195.62 579.8 L195.72 560.2 L195.82 531.3 L195.92 498.0 L196.02 467.4 L196.12 449.1 L196.22 449.7 L196.32 468.9 L196.42 500.4 L196.52 534.7 L196.62 564.0 L196.72 584.7 L196.82 596.7 L196.92 602.1 L197.02 601.5 L197.12 598.6 L197.22 594.8 L197.32 591.4 L197.42 589.5 L197.52 590.5 L197.62 594.2 L197.72 598.9 L197.82 603.4 L197.92 606.9 L198.02 608.7 L198.12 607.4 L198.22 603.6 L198.32 597.3 L198.42 589.5 L198.52 582.1 L198.62 577.4 L198.72 577.1 L198.82 581.1 L198.92 588.1 L199.02 595.8 L199.12 602.2 L199.22 604.7 L199.32 604.3 L199.42 601.4 L199.52 596.9 L199.62 591.9 L199.72 588.9 L199.82 589.1 L199.92 591.7 L200.02 596.4 L200.12 602.2 L200.22 608.0 L200.32 610.8 L200.42 612.0 L200.52 611.7 L200.62 609.8 L200.72 606.6 L200.82 603.9 L200.92 602.3 L201.02 601.5 L201.12 602.3 L201.22 604.7 L201.32 608.4 L201.42 610.0 L201.52 611.3 L201.62 611.6 L201.72 610.7 L201.82 608.7 L201.92 606.7 L202.02 605.3 L202.12 604.1 L202.22 603.4 L202.32 603.1 L202.42 602.3 L202.52 598.4 L202.62 589.9 L202.72 573.8 L202.82 548.5 L202.92 515.6 L203.02 481.4 L203.12 455.1 L203.22 444.8 L203.32 454.3 L203.42 480.4 L203.52 514.7 L203.62 547.2 L203.72 572.5 L203.82 588.7 L203.92 597.0 L204.02 599.6 L204.12 599.3 L204.22 597.8 L204.32 596.0 L204.42 595.1 L204.52 596.1 L204.62 599.0 L204.72 601.5 L204.82 604.5 L204.92 607.0 L205.02 608.1 L205.12 607.2 L205.22 604.6 L205.32 600.1 L205.42 593.5 L205.52 586.2 L205.62 580.2 L205.72 577.4 L205.82 579.0 L205.92 584.4 L206.02 591.7 L206.12 598.9 L206.22 604.3 L206.32 607.4 L206.42 608.2 L206.52 607.3 L206.62 605.4 L206.72 603.6 L206.82 602.6 L206.92 602.0 L207.02 602.9 L207.12 604.9 L207.22 607.3 L207.32 609.3 L207.42 611.1 L207.52 612.2 L207.62 612.2 L207.72 611.1 L207.82 609.3 L207.92 607.3 L208.02 604.6 L208.12 602.9 L208.22 602.4 L208.32 603.0 L208.42 604.4 L208.52 606.7 L208.62 609.4 L208.72 610.9 L208.82 611.2 L208.92 610.3 L209.02 608.8 L209.12 605.5 L209.22 602.9 L209.32 601.2 L209.42 599.9 L209.52 597.2 L209.62 590.8 L209.72 577.7 L209.82 556.0 L209.92 526.7 L210.02 495.1 L210.12 469.7 L210.22 458.6 L210.32 465.8 L210.42 488.6 L210.52 519.2 L210.62 549.2 L210.72 573.1 L210.82 589.1 L210.92 597.6 L211.02 601.0 L211.12 601.1 L211.22 599.6 L211.32 596.6 L211.42 594.4 L211.52 593.7 L211.62 594.6 L211.72 596.7 L211.82 600.0 L211.92 603.7 L212.02 606.1 L212.12 607.0 L212.22 605.8 L212.32 602.5 L212.42 596.5 L212.52 589.9 L212.62 584.2 L212.72 581.3 L212.82 581.9 L212.92 586.2 L213.02 592.7 L213.12 599.1 L213.22 604.1 L213.32 607.0 L213.42 607.9 L213.52 606.7 L213.62 604.7 L213.72 602.6 L213.82 601.4 L213.92 601.4 L214.02 602.9 L214.12 605.6 L214.22 608.6 L214.32 611.3 L214.42 613.2 L214.52 614.1 L214.62 613.8 L214.72 612.5 L214.82 610.5 L214.92 608.1 L215.02 606.1 L215.12 604.9 L215.22 604.8 L215.32 606.0 L215.42 607.8 L215.52 609.6 L215.62 610.8 L215.72 610.5 L215.82 608.8 L215.92 606.0 L216.02 602.6 L216.12 599.2 L216.22 597.1 L216.32 596.5 L216.42 596.3 L216.52 594.9 L216.62 589.7 L216.72 577.8 L216.82 556.9 L216.92 528.8 L217.02 498.7 L217.12 474.9 L217.22 465.1 L217.32 473.2 L217.42 496.4 L217.52 526.8 L217.62 556.3 L217.72 579.5 L217.82 594.7 L217.92 602.0 L218.02 604.5 L218.12 604.1 L218.22 602.3 L218.32 600.2 L218.42 599.5 L218.52 600.6 L218.62 603.0 L218.72 606.4 L218.82 610.0 L218.92 613.3 L219.02 613.0 L219.12 611.3 L219.22 607.5 L219.32 601.6 L219.42 593.9 L219.52 586.8 L219.62 582.0 L219.72 580.2 L219.82 582.3 L219.92 587.8 L220.02 595.0 L220.12 600.9 L220.22 605.1 L220.32 606.9 L220.42 606.3 L220.52 603.9 L220.62 600.8 L220.72 598.1 L220.82 596.6 L220.92 597.0 L221.02 599.3 L221.12 603.1 L221.22 606.3 L221.32 609.2 L221.42 611.0 L221.52 611.6 L221.62 611.0 L221.72 610.0 L221.82 609.1 L221.92 607.9 L222.02 607.0 L222.12 606.9 L222.22 608.0 L222.32 608.2 L222.42 609.0 L222.52 609.8 L222.62 609.9 L222.72 609.0 L222.82 607.5 L222.92 605.8 L223.02 603.5 L223.12 601.3 L223.22 599.8 L223.32 599.2 L223.42 598.8 L223.52 597.3 L223.62 592.5 L223.72 581.6 L223.82 562.8 L223.92 537.5 L224.02 509.9 L224.12 487.5 L224.22 477.6 L224.32 484.1 L224.42 505.0 L224.52 531.4 L224.62 557.8 L224.72 578.6 L224.82 592.0 L224.92 598.8 L225.02 601.7 L225.12 602.6 L225.22 602.0 L225.32 601.1 L225.42 600.6 L225.52 600.9 L225.62 602.6 L225.72 605.1 L225.82 607.8 L225.92 610.3 L226.02 611.9 L226.12 611.9 L226.22 610.0 L226.32 606.3 L226.42 601.0 L226.52 595.1 L226.62 590.0 L226.72 586.8 L226.82 586.9 L226.92 590.0 L227.02 594.6 L227.12 599.3 L227.22 603.2 L227.32 605.6 L227.42 606.0 L227.52 604.8 L227.62 602.8 L227.72 600.7 L227.82 599.6 L227.92 600.0 L228.02 602.0 L228.12 605.1 L228.22 608.7 L228.32 612.2 L228.42 614.8 L228.52 616.5 L228.62 617.1 L228.72 616.8 L228.82 615.8 L228.92 612.5 L229.02 609.3 L229.12 606.9 L229.22 605.4 L229.32 604.8 L229.42 606.3 L229.52 609.4 L229.62 611.9 L229.72 613.6 L229.82 614.4 L229.92 614.2 L230.02 611.5 L230.12 608.7 L230.22 606.5 L230.32 604.9 L230.42 603.7 L230.52 601.7 L230.62 597.0 L230.72 586.7 L230.82 569.1 L230.92 544.6 L231.02 517.2 L231.12 493.6 L231.22 481.4 L231.32 485.0 L231.42 502.8 L231.52 528.7 L231.62 555.4 L231.72 577.3 L231.82 591.9 L231.92 599.9 L232.02 603.0 L232.12 602.9 L232.22 601.2 L232.32 599.1 L232.42 597.6 L232.52 597.5 L232.62 599.0 L232.72 601.7 L232.82 604.7 L232.92 607.4 L233.02 609.2 L233.12 609.5 L233.22 607.9 L233.32 605.1 L233.42 600.6 L233.52 595.2 L233.62 590.5 L233.72 588.0 L233.82 588.4 L233.92 591.7 L234.02 596.8 L234.12 602.1 L234.22 606.3 L234.32 608.7 L234.42 609.7 L234.52 609.4 L234.62 608.2 L234.72 606.9 L234.82 606.1 L234.92 606.2 L235.02 607.2 L235.12 609.1 L235.22 611.5 L235.32 613.6 L235.42 615.2 L235.52 615.9 L235.62 615.7 L235.72 614.6 L235.82 612.8 L235.92 610.7 L236.02 608.8 L236.12 607.8 L236.22 607.9 L236.32 609.1 L236.42 611.1 L236.52 613.2 L236.62 614.1 L236.72 614.1 L236.82 613.0 L236.92 610.9 L237.02 608.2 L237.12 605.7 L237.22 603.9 L237.32 603.0 L237.42 602.9 L237.52 602.4 L237.62 599.8 L237.72 593.0 L237.82 580.3 L237.92 561.6 L238.02 539.3 L238.12 518.9 L238.22 507.1 L238.32 508.2 L238.42 521.6 L238.52 542.9 L238.62 566.1 L238.72 586.0 L238.82 597.6 L238.92 603.5 L239.02 605.1 L239.12 603.7 L239.22 600.7 L239.32 598.3 L239.42 597.2 L239.52 597.2 L239.62 598.7 L239.72 601.3 L239.82 604.7 L239.92 606.9 L240.02 608.4 L240.12 608.6 L240.22 607.2 L240.32 604.1 L240.42 600.2 L240.52 596.1 L240.62 592.3 L240.72 590.3 L240.82 591.2 L240.92 595.1 L241.02 599.1 L241.12 603.6 L241.22 607.3 L241.32 609.3 L241.42 609.5 L241.52 608.8 L241.62 607.7 L241.72 606.3 L241.82 605.4 L241.92 605.6 L242.02 607.1 L242.12 608.8 L242.22 611.0 L242.32 613.1 L242.42 614.7 L242.52 615.3 L242.62 615.3 L242.72 614.7 L242.82 613.3 L242.92 611.3 L243.02 609.4 L243.12 608.3 L243.22 606.8 L243.32 606.8 L243.42 607.9 L243.52 609.3 L243.62 610.5 L243.72 611.7 L243.82 612.8 L243.92 612.9 L244.02 612.2 L244.12 611.3 L244.22 610.7 L244.32 609.3 L244.42 608.4 L244.52 607.5 L244.62 605.2 L244.72 599.7 L244.82 589.5 L244.92 574.3 L245.02 555.4 L245.12 537.1 L245.22 524.6 L245.32 522.2 L245.42 530.9 L245.52 547.3 L245.62 566.3 L245.72 583.1 L245.82 595.3 L245.92 602.8 L246.02 606.6 L246.12 607.5 L246.22 606.7 L246.32 605.1 L246.42 603.9 L246.52 601.8 L246.62 601.3 L246.72 602.2 L246.82 604.0 L246.92 606.0 L247.02 608.4 L247.12 610.5 L247.22 611.2 L247.32 610.1 L247.42 607.3 L247.52 603.4 L247.62 597.8 L247.72 593.5 L247.82 591.8 L247.92 593.0 L248.02 596.3 L248.12 601.1 L248.22 606.2 L248.32 609.8 L248.42 611.6 L248.52 611.9 L248.62 611.2 L248.72 608.5 L248.82 606.2 L248.92 604.8 L249.02 604.6 L249.12 605.5 L249.22 607.7 L249.32 610.4 L249.42 612.7 L249.52 614.1 L249.62 614.5 L249.72 613.8 L249.82 611.5 L249.92 608.6 L250.02 605.6 L250.12 603.3 L250.22 602.2 L250.32 603.1 L250.42 605.7 L250.52 608.9 L250.62 611.8 L250.72 613.9 L250.82 614.9 L250.92 613.3 L251.02 610.9 L251.12 608.1 L251.22 605.6 L251.32 603.7 L251.42 603.3 L251.52 603.8 L251.62 603.5 L251.72 601.1 L251.82 594.9 L251.92 584.2 L252.02 569.8 L252.12 554.6 L252.22 542.9 L252.32 538.8 L252.42 543.9 L252.52 556.6 L252.62 572.7 L252.72 588.2 L252.82 600.1 L252.92 607.7 L253.02 611.5 L253.12 611.7 L253.22 610.1 L253.32 607.7 L253.42 605.3 L253.52 603.6 L253.62 603.2 L253.72 604.0 L253.82 605.8 L253.92 607.9 L254.02 609.7 L254.12 610.6 L254.22 610.3 L254.32 608.5 L254.42 605.2 L254.52 600.6 L254.62 595.7 L254.72 592.5 L254.82 592.1 L254.92 594.4 L255.02 598.9 L255.12 604.4 L255.22 609.7 L255.32 611.4 L255.42 611.5 L255.52 610.1 L255.62 607.5 L255.72 604.5 L255.82 602.8 L255.92 603.1 L256.02 604.5 L256.12 607.1 L256.22 610.6 L256.32 614.2 L256.42 615.4 L256.52 616.0 L256.62 615.6 L256.72 614.3 L256.82 612.0 L256.92 609.8 L257.02 607.9 L257.12 606.5 L257.22 606.0 L257.32 606.7 L257.42 608.6 L257.52 609.8 L257.62 611.0 L257.72 611.6 L257.82 611.3 L257.92 609.9 L258.02 608.9 L258.12 608.7 L258.22 608.4 L258.32 608.7 L258.42 609.4 L258.52 610.2 L258.62 607.9 L258.72 603.1 L258.82 594.5 L258.92 581.6 L259.02 566.1 L259.12 551.8 L259.22 543.0 L259.32 542.5 L259.42 550.6 L259.52 564.4 L259.62 579.8 L259.72 593.3 L259.82 602.9 L259.92 608.5 L260.02 611.1 L260.12 611.6 L260.22 611.0 L260.32 610.1 L260.42 609.3 L260.52 609.1 L260.62 609.9 L260.72 611.4 L260.82 612.5 L260.92 613.6 L261.02 614.3 L261.12 614.2 L261.22 613.1 L261.32 611.3 L261.42 608.8 L261.52 605.7 L261.62 602.6 L261.72 600.5 L261.82 600.1 L261.92 601.2 L262.02 603.6 L262.12 606.5 L262.22 608.8 L262.32 610.3 L262.42 610.9 L262.52 611.0 L262.62 610.5 L262.72 609.7 L262.82 609.2 L262.92 609.3 L263.02 609.3 L263.12 610.0 L263.22 611.1 L263.32 612.1 L263.42 612.8 L263.52 613.3 L263.62 613.5 L263.72 613.0 L263.82 611.8 L263.92 610.1 L264.02 608.5 L264.12 606.4 L264.22 605.4 L264.32 605.6 L264.42 606.7 L264.52 608.2 L264.62 610.1 L264.72 611.9 L264.82 612.8 L264.92 612.9 L265.02 612.4 L265.12 611.6 L265.22 610.0 L265.32 609.0 L265.42 608.6 L265.52 608.5 L265.62 608.3 L265.72 607.5 L265.82 605.4 L265.92 600.5 L266.02 592.9 L266.12 584.1 L266.22 576.6 L266.32 571.9 L266.42 572.6 L266.52 578.5 L266.62 587.5 L266.72 596.8 L266.82 604.4 L266.92 609.5 L267.02 612.2 L267.12 613.0 L267.22 612.6 L267.32 611.6 L267.42 610.8 L267.52 610.3 L267.62 610.3 L267.72 611.0 L267.82 612.2 L267.92 613.5 L268.02 614.4 L268.12 614.9 L268.22 614.7 L268.32 613.8 L268.42 612.1 L268.52 609.8 L268.62 607.2 L268.72 604.8 L268.82 603.3 L268.92 603.3 L269.02 605.1 L269.12 608.1 L269.22 611.2 L269.32 613.6 L269.42 615.2 L269.52 615.7 L269.62 613.5 L269.72 610.8 L269.82 608.0 L269.92 605.7 L270.02 604.4 L270.12 605.2 L270.22 608.1 L270.32 611.4 L270.42 614.5 L270.52 617.3 L270.62 619.3 L270.72 618.6 L270.82 617.3 L270.92 615.6 L271.02 613.5 L271.12 611.6 L271.22 610.9 L271.32 611.7 L271.42 613.2 L271.52 615.1 L271.62 617.1 L271.72 618.9 L271.82 618.0 L271.92 616.5 L272.02 614.5 L272.12 612.1 L272.22 609.7 L272.32 608.6 L272.42 608.9 L272.52 609.4 L272.62 609.5 L272.72 608.4 L272.82 605.2 L272.92 598.0 L273.02 588.9 L273.12 579.7 L273.22 573.1 L273.32 571.0 L273.42 574.8 L273.52 583.3 L273.62 593.3 L273.72 602.4 L273.82 609.3 L273.92 613.8 L274.02 614.3 L274.12 613.3 L274.22 611.4 L274.32 609.1 L274.42 606.9 L274.52 606.0 L274.62 606.7 L274.72 608.2 L274.82 610.3 L274.92 612.6 L275.02 614.6 L275.12 615.2 L275.22 615.0 L275.32 614.2 L275.42 612.6 L275.52 610.5 L275.62 608.6 L275.72 607.4 L275.82 607.1 L275.92 607.8 L276.02 609.3 L276.12 611.2 L276.22 612.8 L276.32 613.9 L276.42 614.2 L276.52 613.8 L276.62 612.8 L276.72 611.9 L276.82 611.2 L276.92 611.2 L277.02 611.8 L277.12 613.1 L277.22 614.9 L277.32 615.7 L277.42 616.2 L277.52 616.2 L277.62 615.8 L277.72 614.8 L277.82 614.0 L277.92 613.3 L278.02 612.5 L278.12 612.0 L278.22 611.9 L278.32 612.5 L278.42 613.3 L278.52 614.3 L278.62 615.4 L278.72 616.1 L278.82 616.3 L278.92 616.1 L279.02 615.6 L279.12 614.9 L279.22 614.3 L279.32 613.9 L279.42 613.9 L279.52 614.0 L279.62 613.9 L279.72 613.0 L279.82 610.7 L279.92 606.5 L280.02 600.7 L280.12 594.3 L280.22 589.2 L280.32 587.0 L280.42 588.5 L280.52 593.2 L280.62 598.9 L280.72 604.5 L280.82 608.8 L280.92 611.4 L281.02 612.4 L281.12 613.2 L281.22 614.1 L281.32 614.7 L281.42 615.3 L281.52 616.0 L281.62 617.1 L281.72 616.5 L281.82 616.2 L281.92 616.1 L282.02 615.9 L282.12 615.5 L282.22 616.0 L282.32 617.5 L282.42 618.8 L282.52 620.0 L282.62 621.1 L282.72 622.3 L282.82 620.9 L282.92 619.6 L283.02 618.2 L283.12 616.9 L283.22 615.4 L283.32 615.0 L283.42 615.4 L283.52 615.7 L283.62 615.7 L283.72 615.6 L283.82 615.6 L283.92 614.7 L284.02 614.2 L284.12 614.3 L284.22 614.8 L284.32 615.4 L284.42 616.2 L284.52 616.9 L284.62 617.2 L284.72 617.2 L284.82 616.8 L284.92 616.1 L285.02 615.0 L285.12 614.0 L285.22 613.4 L285.32 613.2 L285.42 613.5 L285.52 614.3 L285.62 615.3 L285.72 616.1 L285.82 616.6 L285.92 616.7 L286.02 616.5 L286.12 616.1 L286.22 615.8 L286.32 615.5 L286.42 615.5 L286.52 615.5 L286.62 615.1 L286.72 613.7 L286.82 611.0 L286.92 606.8 L287.02 601.4 L287.12 596.2 L287.22 592.3 L287.32 591.4 L287.42 593.5 L287.52 597.9 L287.62 603.0 L287.72 607.8 L287.82 611.4 L287.92 613.5 L288.02 614.5 L288.12 614.6 L288.22 614.4 L288.32 614.3 L288.42 614.3 L288.52 614.6 L288.62 615.2 L288.72 616.2 L288.82 617.2 L288.92 618.0 L289.02 618.7 L289.12 619.3 L289.22 619.6 L289.32 619.8 L289.42 619.4 L289.52 618.9 L289.62 618.4 L289.72 617.8 L289.82 617.3 L289.92 617.2 L290.02 617.7 L290.12 618.0 L290.22 618.4 L290.32 618.5 L290.42 618.4 L290.52 617.7 L290.62 616.8 L290.72 615.8 L290.82 615.0 L290.92 614.6 L291.02 614.8 L291.12 615.4 L291.22 616.2 L291.32 617.2 L291.42 617.9 L291.52 618.3 L291.62 618.5 L291.72 618.2 L291.82 617.7 L291.92 616.9 L292.02 616.2 L292.12 615.8 L292.22 616.0 L292.32 616.6 L292.42 617.6 L292.52 618.7 L292.62 619.7 L292.72 619.0 L292.82 618.0 L292.92 616.6 L293.02 614.9 L293.12 613.2 L293.22 612.5 L293.32 613.2 L293.42 614.3 L293.52 615.6 L293.62 616.9 L293.72 617.7 L293.82 616.1 L293.92 613.4 L294.02 609.8 L294.12 605.9 L294.22 602.6 L294.32 601.2 L294.42 602.2 L294.52 604.8 L294.62 608.3 L294.72 611.7 L294.82 614.3 L294.92 615.5 L295.02 615.7 L295.12 615.3 L295.22 614.2 L295.32 613.0 L295.42 612.1 L295.52 612.0 L295.62 612.4 L295.72 613.4 L295.82 614.9 L295.92 616.6 L296.02 617.1 L296.12 617.4 L296.22 617.5 L296.32 617.3 L296.42 616.9 L296.52 617.0 L296.62 617.8 L296.72 618.4 L296.82 619.1 L296.92 619.8 L297.02 620.4 L297.12 619.9 L297.22 619.3 L297.32 618.7 L297.42 617.8 L297.52 616.8 L297.62 615.9 L297.72 615.3 L297.82 614.7 L297.92 614.4 L298.02 614.6 L298.12 615.1 L298.22 615.6 L298.32 616.2 L298.42 616.7 L298.52 616.9 L298.62 616.9 L298.72 616.8 L298.82 616.6 L298.92 616.2 L299.02 615.8 L299.12 615.4 L299.22 615.4 L299.32 615.3 L299.42 615.7 L299.52 616.3 L299.62 617.0 L299.72 617.4 L299.82 617.7 L299.92 617.9 L300.02 617.7 L300.12 617.4 L300.22 617.1 L300.32 616.9 L300.42 616.7 L300.52 616.7 L300.62 616.7 L300.72 616.6 L300.82 615.9 L300.92 614.5 L301.02 612.3 L301.12 609.4 L301.22 606.6 L301.32 604.7 L301.42 604.4 L301.52 605.7 L301.62 608.3 L301.72 611.4 L301.82 614.0 L301.92 616.0 L302.02 617.2 L302.12 617.9 L302.22 618.2 L302.32 618.1 L302.42 617.9 L302.52 617.8 L302.62 617.0 L302.72 616.6 L302.82 616.4 L302.92 616.4 L303.02 616.5 L303.12 617.0 L303.22 618.0 L303.32 618.8 L303.42 619.5 L303.52 620.1 L303.62 620.7 L303.72 620.5 L303.82 620.3 L303.92 620.2 L304.02 620.0 L304.12 619.8 L304.22 619.6 L304.32 619.5 L304.42 619.2 L304.52 618.8 L304.62 618.3 L304.72 617.6 L304.82 617.0 L304.92 616.5 L305.02 616.3 L305.12 616.4 L305.22 616.9 L305.32 617.5 L305.42 618.0 L305.52 618.5 L305.62 618.7 L305.72 618.6 L305.82 618.2 L305.92 617.3 L306.02 616.1 L306.12 615.0 L306.22 614.1 L306.32 613.6 L306.42 614.0 L306.52 615.2 L306.62 616.6 L306.72 618.0 L306.82 619.1 L306.92 619.9 L307.02 619.2 L307.12 618.4 L307.22 617.4 L307.32 616.5 L307.42 615.7 L307.52 615.8 L307.62 616.6 L307.72 617.2 L307.82 617.3 L307.92 616.7 L308.02 615.6 L308.12 612.9 L308.22 610.7 L308.32 609.6 L308.42 609.9 L308.52 611.1 L308.62 613.2 L308.72 615.3 L308.82 616.8 L308.92 617.7 L309.02 618.0 L309.12 617.7 L309.22 617.1 L309.32 616.3 L309.42 615.5 L309.52 615.0 L309.62 614.9 L309.72 615.4 L309.82 616.5 L309.92 617.7 L310.02 618.8 L310.12 619.7 L310.22 620.4 L310.32 620.3 L310.42 620.1 L310.52 619.8 L310.62 619.5 L310.72 619.2 L310.82 619.1 L310.92 619.4 L311.02 619.7 L311.12 620.0 L311.22 620.2 L311.32 620.3 L311.42 619.8 L311.52 619.3 L311.62 618.6 L311.72 617.8 L311.82 617.1 L311.92 616.9 L312.02 617.3 L312.12 618.0 L312.22 618.9 L312.32 619.8 L312.42 620.6 L312.52 620.8 L312.62 620.7 L312.72 620.4 L312.82 619.8 L312.92 619.1 L313.02 618.5 L313.12 618.1 L313.22 618.1 L313.32 618.4 L313.42 619.0 L313.52 619.8 L313.62 620.1 L313.72 620.3 L313.82 620.2 L313.92 619.7 L314.02 619.1 L314.12 618.5 L314.22 618.2 L314.32 618.1 L314.42 618.3 L314.52 618.7 L314.62 619.2 L314.72 618.8 L314.82 618.1 L314.92 616.9 L315.02 615.3 L315.12 613.6 L315.22 612.7 L315.32 613.0 L315.42 614.0 L315.52 615.7 L315.62 617.6 L315.72 619.4 L315.82 620.0 L315.92 620.1 L316.02 619.9 L316.12 619.3 L316.22 618.4 L316.32 617.7 L316.42 617.4 L316.52 617.2 L316.62 617.5 L316.72 618.1 L316.82 619.1 L316.92 619.5 L317.02 619.8 L317.12 620.0 L317.22 620.0 L317.32 619.9 L317.42 619.8 L317.52 619.9 L317.62 620.0 L317.72 620.0 L317.82 620.1 L317.92 620.1 L318.02 619.9 L318.12 619.7 L318.22 619.4 L318.32 619.1 L318.42 618.7 L318.52 618.5 L318.62 618.7 L318.72 618.8 L318.82 619.0 L318.92 619.3 L319.02 619.9 L319.12 619.9 L319.22 620.1 L319.32 620.4 L319.42 620.6 L319.52 620.6 L319.62 620.5 L319.72 620.2 L319.82 619.8 L319.92 619.1 L320.02 618.4 L320.12 617.8 L320.22 617.6 L320.32 617.7 L320.42 618.0 L320.52 618.5 L320.62 619.0 L320.72 619.5 L320.82 619.8 L320.92 619.9 L321.02 619.8 L321.12 619.6 L321.22 619.4 L321.32 619.3 L321.42 619.4 L321.52 619.7 L321.62 620.0 L321.72 620.2 L321.82 619.9 L321.92 619.1 L322.02 618.0 L322.12 616.7 L322.22 615.5 L322.32 614.9 L322.42 615.2 L322.52 616.2 L322.62 617.4 L322.72 618.6 L322.82 619.5 L322.92 620.1 L323.02 620.4 L323.12 620.3 L323.22 620.0 L323.32 619.6 L323.42 619.2 L323.52 618.8 L323.62 618.6 L323.72 618.8 L323.82 619.3 L323.92 619.8 L324.02 620.5 L324.12 621.1 L324.22 621.5 L324.32 621.8 L324.42 622.1 L324.52 622.2 L324.62 621.8 L324.72 621.3 L324.82 620.9 L324.92 620.4 L325.02 619.9 L325.12 619.8 L325.22 620.0 L325.32 620.2 L325.42 620.2 L325.52 620.2 L325.62 620.1 L325.72 619.6 L325.82 619.2 L325.92 619.0 L326.02 618.9 L326.12 619.0 L326.22 619.4 L326.32 619.9 L326.42 620.3 L326.52 620.6 L326.62 620.8 L326.72 620.8 L326.82 620.5 L326.92 620.1 L327.02 619.7 L327.12 619.3 L327.22 619.0 L327.32 619.1 L327.42 619.6 L327.52 620.3 L327.62 620.9 L327.72 621.5 L327.82 621.8 L327.92 621.4 L328.02 620.8 L328.12 620.1 L328.22 619.4 L328.32 618.9 L328.42 618.9 L328.52 619.5 L328.62 620.2 L328.72 620.9 L328.82 621.5 L328.92 621.8 L329.02 621.2 L329.12 620.5 L329.22 619.9 L329.32 619.4 L329.42 619.3 L329.52 619.5 L329.62 620.1 L329.72 620.6 L329.82 620.9 L329.92 621.1 L330.02 621.1 L330.12 620.7 L330.22 620.1 L330.32 619.4 L330.42 618.8 L330.52 618.3 L330.62 618.4 L330.72 619.2 L330.82 620.2 L330.92 621.2 L331.02 622.2 L331.12 623.2 L331.22 622.9 L331.32 622.4 L331.42 621.9 L331.52 621.4 L331.62 620.8 L331.72 620.7 L331.82 620.8 L331.92 621.0 L332.02 621.2 L332.12 621.3 L332.22 621.5 L332.32 621.3 L332.42 621.1 L332.52 620.8 L332.62 620.4 L332.72 619.9 L332.82 619.7 L332.92 619.8 L333.02 620.2 L333.12 620.9 L333.22 621.7 L333.32 622.5 L333.42 622.4 L333.52 622.1 L333.62 621.7 L333.72 621.0 L333.82 620.2 L333.92 619.7 L334.02 619.6 L334.12 619.6 L334.22 619.8 L334.32 620.3 L334.42 621.0 L334.52 621.1 L334.62 621.2 L334.72 621.2 L334.82 621.0 L334.92 620.6 L335.02 620.5 L335.12 620.6 L335.22 620.7 L335.32 621.0 L335.42 621.3 L335.52 621.7 L335.62 621.6 L335.72 621.4 L335.82 621.1 L335.92 620.6 L336.02 619.9 L336.12 619.6 L336.22 619.6 L336.32 619.8 L336.42 620.3 L336.52 621.0 L336.62 621.9 L336.72 622.0 L336.82 622.1 L336.92 622.0 L337.02 621.7 L337.12 621.4 L337.22 621.1 L337.32 621.1 L337.42 621.0 L337.52 621.0 L337.62 621.2 L337.72 621.4 L337.82 621.4 L337.92 621.4 L338.02 621.4 L338.12 621.4 L338.22 621.3 L338.32 621.5 L338.42 622.0 L338.52 622.4 L338.62 622.8 L338.72 623.2 L338.82 623.6 L338.92 623.1 L339.02 622.5 L339.12 622.0 L339.22 621.4 L339.32 620.7 L339.42 620.5 L339.52 620.8 L339.62 621.0 L339.72 621.2 L339.82 621.3 L339.92 621.6 L340.02 621.4 L340.12 621.3 L340.22 621.4 L340.32 621.6 L340.42 621.8 L340.52 622.0 L340.62 622.4 L340.72 622.6" fill="none" stroke="#e8262b" stroke-width="0.7" stroke-linejoin="round" stroke-opacity="0.92"/>
<path d="M449.94 605.8 L450.04 603.9 L450.14 602.0 L450.24 600.2 L450.34 598.3 L450.44 598.3 L450.54 600.1 L450.64 601.9 L450.74 603.8 L450.84 605.6 L450.94 604.5 L451.04 603.3 L451.14 602.2 L451.24 601.1 L451.34 601.4 L451.44 603.1 L451.54 604.8 L451.64 606.5 L451.74 608.2 L451.84 606.7 L451.94 605.1 L452.04 603.6 L452.14 602.1 L452.24 601.5 L452.34 602.1 L452.44 602.6 L452.54 603.1 L452.64 603.6 L452.74 603.1 L452.84 602.5 L452.94 601.9 L453.04 601.3 L453.14 601.3 L453.24 601.7 L453.34 602.2 L453.44 602.6 L453.54 603.1 L453.64 602.7 L453.74 602.3 L453.84 601.9 L453.94 601.6 L454.04 602.3 L454.14 604.0 L454.24 605.8 L454.34 607.6 L454.44 609.3 L454.54 607.5 L454.64 605.6 L454.74 603.7 L454.84 601.8 L454.94 601.2 L455.04 601.8 L455.14 601.8 L455.24 601.4 L455.34 600.5 L455.44 598.4 L455.54 597.0 L455.64 596.8 L455.74 597.9 L455.84 599.7 L455.94 601.6 L456.04 603.1 L456.14 604.0 L456.24 604.4 L456.34 603.3 L456.44 601.9 L456.54 600.6 L456.64 599.1 L456.74 599.7 L456.84 602.2 L456.94 604.8 L457.04 607.3 L457.14 609.8 L457.24 607.9 L457.34 606.0 L457.44 604.1 L457.54 602.2 L457.64 601.5 L457.74 602.0 L457.84 602.5 L457.94 602.9 L458.04 603.4 L458.14 603.0 L458.24 602.5 L458.34 601.8 L458.44 601.0 L458.54 600.9 L458.64 601.8 L458.74 603.1 L458.84 604.7 L458.94 606.5 L459.04 606.0 L459.14 605.3 L459.24 604.4 L459.34 603.4 L459.44 603.1 L459.54 603.7 L459.64 604.3 L459.74 604.8 L459.84 605.4 L459.94 604.1 L460.04 602.8 L460.14 601.5 L460.24 600.2 L460.34 600.2 L460.44 601.4 L460.54 602.7 L460.64 603.9 L460.74 605.1 L460.84 605.2 L460.94 605.3 L461.04 605.3 L461.14 605.1 L461.24 604.1 L461.34 602.2 L461.44 599.5 L461.54 596.3 L461.64 593.2 L461.74 590.4 L461.84 589.1 L461.94 589.3 L462.04 590.4 L462.14 593.8 L462.24 598.7 L462.34 602.8 L462.44 606.4 L462.54 609.6 L462.64 608.4 L462.74 607.2 L462.84 605.9 L462.94 604.6 L463.04 604.5 L463.14 605.6 L463.24 606.7 L463.34 607.8 L463.44 608.9 L463.54 606.4 L463.64 603.9 L463.74 601.4 L463.84 598.9 L463.94 598.1 L464.04 598.8 L464.14 599.6 L464.24 600.1 L464.34 600.4 L464.44 600.4 L464.54 599.9 L464.64 599.0 L464.74 598.0 L464.84 597.4 L464.94 597.5 L465.04 598.9 L465.14 601.1 L465.24 603.4 L465.34 604.4 L465.44 604.9 L465.54 604.9 L465.64 604.5 L465.74 604.5 L465.84 604.8 L465.94 605.1 L466.04 605.4 L466.14 605.7 L466.24 603.7 L466.34 601.7 L466.44 599.8 L466.54 597.8 L466.64 598.2 L466.74 601.1 L466.84 604.0 L466.94 606.9 L467.04 609.7 L467.14 608.5 L467.24 607.2 L467.34 605.8 L467.44 603.9 L467.54 602.2 L467.64 600.4 L467.74 597.9 L467.84 595.4 L467.94 593.7 L468.04 592.3 L468.14 592.7 L468.24 594.1 L468.34 595.9 L468.44 597.9 L468.54 599.9 L468.64 601.2 L468.74 602.0 L468.84 602.6 L468.94 602.4 L469.04 602.2 L469.14 602.0 L469.24 601.7 L469.34 602.4 L469.44 604.0 L469.54 605.6 L469.64 607.2 L469.74 608.8 L469.84 607.4 L469.94 606.0 L470.04 604.5 L470.14 603.1 L470.24 602.1 L470.34 601.6 L470.44 601.0 L470.54 600.3 L470.64 599.4 L470.74 598.4 L470.84 597.1 L470.94 595.9 L471.04 594.9 L471.14 595.7 L471.24 598.5 L471.34 601.7 L471.44 604.9 L471.54 608.0 L471.64 606.0 L471.74 603.7 L471.84 601.3 L471.94 598.9 L472.04 598.7 L472.14 600.7 L472.24 602.8 L472.34 604.8 L472.44 606.9 L472.54 604.9 L472.64 602.9 L472.74 600.9 L472.84 598.9 L472.94 599.2 L473.04 601.9 L473.14 604.5 L473.24 607.2 L473.34 609.8 L473.44 606.8 L473.54 603.7 L473.64 600.2 L473.74 596.1 L473.84 593.9 L473.94 593.8 L474.04 593.5 L474.14 593.9 L474.24 595.9 L474.34 595.5 L474.44 596.4 L474.54 597.7 L474.64 598.5 L474.74 599.6 L474.84 601.0 L474.94 602.0 L475.04 602.6 L475.14 603.1 L475.24 602.5 L475.34 602.0 L475.44 601.4 L475.54 600.8 L475.64 601.3 L475.74 603.0 L475.84 604.7 L475.94 606.4 L476.04 608.1 L476.14 607.2 L476.24 606.4 L476.34 605.5 L476.44 604.6 L476.54 604.4 L476.64 604.8 L476.74 605.1 L476.84 604.9 L476.94 604.3 L477.04 602.4 L477.14 600.3 L477.24 598.6 L477.34 597.9 L477.44 598.7 L477.54 600.7 L477.64 602.9 L477.74 604.9 L477.84 606.5 L477.94 606.3 L478.04 605.8 L478.14 605.2 L478.24 604.5 L478.34 604.2 L478.44 604.4 L478.54 604.6 L478.64 604.7 L478.74 604.9 L478.84 604.2 L478.94 603.5 L479.04 602.8 L479.14 602.2 L479.24 602.0 L479.34 602.4 L479.44 602.8 L479.54 603.2 L479.64 603.4 L479.74 602.9 L479.84 602.0 L479.94 600.5 L480.04 598.0 L480.14 595.5 L480.24 593.7 L480.34 592.6 L480.44 593.2 L480.54 595.9 L480.64 597.1 L480.74 598.8 L480.84 600.1 L480.94 600.6 L481.04 601.0 L481.14 601.5 L481.24 601.7 L481.34 601.8 L481.44 601.8 L481.54 602.0 L481.64 602.2 L481.74 602.4 L481.84 602.6 L481.94 602.9 L482.04 603.5 L482.14 604.1 L482.24 604.7 L482.34 605.2 L482.44 603.5 L482.54 601.8 L482.64 600.1 L482.74 598.3 L482.84 598.1 L482.94 599.2 L483.04 599.8 L483.14 599.7 L483.24 598.9 L483.34 594.3 L483.44 590.2 L483.54 587.4 L483.64 586.4 L483.74 588.0 L483.84 591.6 L483.94 594.8 L484.04 597.4 L484.14 599.2 L484.24 600.1 L484.34 600.7 L484.44 601.3 L484.54 601.7 L484.64 601.9 L484.74 601.9 L484.84 601.8 L484.94 601.8 L485.04 601.8 L485.14 601.9 L485.24 602.1 L485.34 602.2 L485.44 602.4 L485.54 603.0 L485.64 604.2 L485.74 605.3 L485.84 606.4 L485.94 607.2 L486.04 604.8 L486.14 601.6 L486.24 597.3 L486.34 591.8 L486.44 587.0 L486.54 584.1 L486.64 583.2 L486.74 585.0 L486.84 589.0 L486.94 591.6 L487.04 593.9 L487.14 595.0 L487.24 595.0 L487.34 596.4 L487.44 599.4 L487.54 602.1 L487.64 604.8 L487.74 607.5 L487.84 605.3 L487.94 603.2 L488.04 601.0 L488.14 598.8 L488.24 598.4 L488.34 599.9 L488.44 601.3 L488.54 602.7 L488.64 604.2 L488.74 604.0 L488.84 603.9 L488.94 603.6 L489.04 603.3 L489.14 602.4 L489.24 600.7 L489.34 598.3 L489.44 595.5 L489.54 592.4 L489.64 590.4 L489.74 589.4 L489.84 589.7 L489.94 591.1 L490.04 594.1 L490.14 598.2 L490.24 601.7 L490.34 604.7 L490.44 607.3 L490.54 604.8 L490.64 602.2 L490.74 599.6 L490.84 597.0 L490.94 597.0 L491.04 599.7 L491.14 602.4 L491.24 605.1 L491.34 607.7 L491.44 606.9 L491.54 606.0 L491.64 605.1 L491.74 604.2 L491.84 603.9 L491.94 604.3 L492.04 604.5 L492.14 604.6 L492.24 604.1 L492.34 600.2 L492.44 595.0 L492.54 588.6 L492.64 581.6 L492.74 577.9 L492.84 578.9 L492.94 582.9 L493.04 589.4 L493.14 597.0 L493.24 598.6 L493.34 599.0 L493.44 598.1 L493.54 596.2 L493.64 596.0 L493.74 597.7 L493.84 599.4 L493.94 600.9 L494.04 602.5 L494.14 602.8 L494.24 603.1 L494.34 603.4 L494.44 603.7 L494.54 603.7 L494.64 603.5 L494.74 603.3 L494.84 603.1 L494.94 602.9 L495.04 602.2 L495.14 601.4 L495.24 600.5 L495.34 599.1 L495.44 597.6 L495.54 595.7 L495.64 592.7 L495.74 589.1 L495.84 586.1 L495.94 583.1 L496.04 582.7 L496.14 584.6 L496.24 587.6 L496.34 591.4 L496.44 595.4 L496.54 598.2 L496.64 600.1 L496.74 601.5 L496.84 600.1 L496.94 598.5 L497.04 596.9 L497.14 595.3 L497.24 595.9 L497.34 598.6 L497.44 601.4 L497.54 604.1 L497.64 606.8 L497.74 604.5 L497.84 602.1 L497.94 599.8 L498.04 597.4 L498.14 597.1 L498.24 598.8 L498.34 600.2 L498.44 601.1 L498.54 601.1 L498.64 596.2 L498.74 589.8 L498.84 582.5 L498.94 575.9 L499.04 572.8 L499.14 574.4 L499.24 579.0 L499.34 585.1 L499.44 591.0 L499.54 593.8 L499.64 595.2 L499.74 595.3 L499.84 594.7 L499.94 595.6 L500.04 598.1 L500.14 600.6 L500.24 603.1 L500.34 605.6 L500.44 604.3 L500.54 603.0 L500.64 601.7 L500.74 600.4 L500.84 599.6 L500.94 599.4 L501.04 599.2 L501.14 599.1 L501.24 598.8 L501.34 597.8 L501.44 596.6 L501.54 594.9 L501.64 592.3 L501.74 590.0 L501.84 587.7 L501.94 584.6 L502.04 582.2 L502.14 581.9 L502.24 580.5 L502.34 582.0 L502.44 585.0 L502.54 587.8 L502.64 591.5 L502.74 595.9 L502.84 599.2 L502.94 601.8 L503.04 604.0 L503.14 603.2 L503.24 602.4 L503.34 601.6 L503.44 600.8 L503.54 600.4 L503.64 600.4 L503.74 600.5 L503.84 600.5 L503.94 600.6 L504.04 600.3 L504.14 600.0 L504.24 599.7 L504.34 599.4 L504.44 599.6 L504.54 600.2 L504.64 600.1 L504.74 598.8 L504.84 595.7 L504.94 588.9 L505.04 580.9 L505.14 573.5 L505.24 569.0 L505.34 569.7 L505.44 575.2 L505.54 583.1 L505.64 591.0 L505.74 597.2 L505.84 600.4 L505.94 601.9 L506.04 602.5 L506.14 602.5 L506.24 603.0 L506.34 604.1 L506.44 605.1 L506.54 606.2 L506.64 607.3 L506.74 604.9 L506.84 602.5 L506.94 600.0 L507.04 597.6 L507.14 597.1 L507.24 598.4 L507.34 599.7 L507.44 600.9 L507.54 602.1 L507.64 600.6 L507.74 598.6 L507.84 595.4 L507.94 590.5 L508.04 584.7 L508.14 578.5 L508.24 572.8 L508.34 569.8 L508.44 571.0 L508.54 575.8 L508.64 582.7 L508.74 589.7 L508.84 595.2 L508.94 599.1 L509.04 601.6 L509.14 603.3 L509.24 604.4 L509.34 605.4 L509.44 604.4 L509.54 603.4 L509.64 602.4 L509.74 601.5 L509.84 601.4 L509.94 602.2 L510.04 603.0 L510.14 603.9 L510.24 604.7 L510.34 602.8 L510.44 600.9 L510.54 599.0 L510.64 597.0 L510.74 596.5 L510.84 597.2 L510.94 596.7 L511.04 594.4 L511.14 589.8 L511.24 581.2 L511.34 573.1 L511.44 567.8 L511.54 567.2 L511.64 571.7 L511.74 579.4 L511.84 587.3 L511.94 593.6 L512.04 597.8 L512.14 600.0 L512.24 601.0 L512.34 601.4 L512.44 601.6 L512.54 602.2 L512.64 603.3 L512.74 604.3 L512.84 605.4 L512.94 606.4 L513.04 604.3 L513.14 602.1 L513.24 600.0 L513.34 597.8 L513.44 597.1 L513.54 597.8 L513.64 598.5 L513.74 599.2 L513.84 599.7 L513.94 599.0 L514.04 597.5 L514.14 594.6 L514.24 590.0 L514.34 584.4 L514.44 578.9 L514.54 575.7 L514.64 575.9 L514.74 579.5 L514.84 585.5 L514.94 591.7 L515.04 596.7 L515.14 600.1 L515.24 602.0 L515.34 602.8 L515.44 603.1 L515.54 603.3 L515.64 603.4 L515.74 602.1 L515.84 600.9 L515.94 599.6 L516.04 598.4 L516.14 598.5 L516.24 600.1 L516.34 601.7 L516.44 603.2 L516.54 604.8 L516.64 603.7 L516.74 602.6 L516.84 601.4 L516.94 599.9 L517.04 598.5 L517.14 596.5 L517.24 592.5 L517.34 586.0 L517.44 577.7 L517.54 568.4 L517.64 562.0 L517.74 560.7 L517.84 564.8 L517.94 573.5 L518.04 584.0 L518.14 593.0 L518.24 599.5 L518.34 603.9 L518.44 602.9 L518.54 601.3 L518.64 599.4 L518.74 597.4 L518.84 597.5 L518.94 599.7 L519.04 601.9 L519.14 604.1 L519.24 606.3 L519.34 603.5 L519.44 600.8 L519.54 598.0 L519.64 595.2 L519.74 595.0 L519.84 597.5 L519.94 599.9 L520.04 602.2 L520.14 603.9 L520.24 601.2 L520.34 597.0 L520.44 590.9 L520.54 583.4 L520.64 577.0 L520.74 573.7 L520.84 574.3 L520.94 578.9 L521.04 586.0 L521.14 590.1 L521.24 593.0 L521.34 594.0 L521.44 593.4 L521.54 594.2 L521.64 596.9 L521.74 599.4 L521.84 601.8 L521.94 604.2 L522.04 602.6 L522.14 601.1 L522.24 599.5 L522.34 597.9 L522.44 597.2 L522.54 597.2 L522.64 597.3 L522.74 597.3 L522.84 597.4 L522.94 596.5 L523.04 595.6 L523.14 594.4 L523.24 592.4 L523.34 590.8 L523.44 588.6 L523.54 583.2 L523.64 575.5 L523.74 567.5 L523.84 558.2 L523.94 555.0 L524.04 558.5 L524.14 566.5 L524.24 576.9 L524.34 586.8 L524.44 593.7 L524.54 597.8 L524.64 600.1 L524.74 599.6 L524.84 598.7 L524.94 597.7 L525.04 596.6 L525.14 596.8 L525.24 598.4 L525.34 599.9 L525.44 601.6 L525.54 603.2 L525.64 602.4 L525.74 601.6 L525.84 600.8 L525.94 600.0 L526.04 600.4 L526.14 601.8 L526.24 602.9 L526.34 603.3 L526.44 602.1 L526.54 595.9 L526.64 586.5 L526.74 574.4 L526.84 562.1 L526.94 553.6 L527.04 551.8 L527.14 557.2 L527.24 567.4 L527.34 578.8 L527.44 588.6 L527.54 595.4 L527.64 599.1 L527.74 601.0 L527.84 601.9 L527.94 602.5 L528.04 602.6 L528.14 602.2 L528.24 601.4 L528.34 598.5 L528.44 595.9 L528.54 594.0 L528.64 593.2 L528.74 594.5 L528.84 597.6 L528.94 600.6 L529.04 603.3 L529.14 605.4 L529.24 604.8 L529.34 603.6 L529.44 601.3 L529.54 597.0 L529.64 589.0 L529.74 576.4 L529.84 560.0 L529.94 542.8 L530.04 529.9 L530.14 527.0 L530.24 534.2 L530.34 548.6 L530.44 565.2 L530.54 580.0 L530.64 591.1 L530.74 597.9 L530.84 601.8 L530.94 604.1 L531.04 602.3 L531.14 600.0 L531.24 597.1 L531.34 593.9 L531.44 592.5 L531.54 593.4 L531.64 595.0 L531.74 597.5 L531.84 601.0 L531.94 601.2 L532.04 601.3 L532.14 601.1 L532.24 600.5 L532.34 599.7 L532.44 598.7 L532.54 596.8 L532.64 593.0 L532.74 586.2 L532.84 575.4 L532.94 561.1 L533.04 546.1 L533.14 534.8 L533.24 532.3 L533.34 539.8 L533.44 553.7 L533.54 569.5 L533.64 583.4 L533.74 592.3 L533.84 597.5 L533.94 600.0 L534.04 601.1 L534.14 601.3 L534.24 600.9 L534.34 599.7 L534.44 597.6 L534.54 595.1 L534.64 592.1 L534.74 590.4 L534.84 590.5 L534.94 592.2 L535.04 595.2 L535.14 598.5 L535.24 601.1 L535.34 602.9 L535.44 603.9 L535.54 603.1 L535.64 600.9 L535.74 596.2 L535.84 587.2 L535.94 573.1 L536.04 554.2 L536.14 533.7 L536.24 518.1 L536.34 513.3 L536.44 519.1 L536.54 534.9 L536.64 554.2 L536.74 571.0 L536.84 584.2 L536.94 593.8 L537.04 599.5 L537.14 602.8 L537.24 605.0 L537.34 603.5 L537.44 601.3 L537.54 598.3 L537.64 594.9 L537.74 591.8 L537.84 589.7 L537.94 589.1 L538.04 589.9 L538.14 591.6 L538.24 594.3 L538.34 596.5 L538.44 598.0 L538.54 598.8 L538.64 599.3 L538.74 599.0 L538.84 597.1 L538.94 592.1 L539.04 583.3 L539.14 569.6 L539.24 554.7 L539.34 543.0 L539.44 538.8 L539.54 543.5 L539.64 554.9 L539.74 568.9 L539.84 581.2 L539.94 589.6 L540.04 594.3 L540.14 596.2 L540.24 596.5 L540.34 595.8 L540.44 595.2 L540.54 594.6 L540.64 593.0 L540.74 590.8 L540.84 588.8 L540.94 585.9 L541.04 585.0 L541.14 586.1 L541.24 588.3 L541.34 592.1 L541.44 596.7 L541.54 600.3 L541.64 603.0 L541.74 604.8 L541.84 602.2 L541.94 597.2 L542.04 588.3 L542.14 573.9 L542.24 555.0 L542.34 534.7 L542.44 518.3 L542.54 512.0 L542.64 518.3 L542.74 532.9 L542.84 551.7 L542.94 568.6 L543.04 580.3 L543.14 587.9 L543.24 592.9 L543.34 595.4 L543.44 596.6 L543.54 596.6 L543.64 593.7 L543.74 589.3 L543.84 584.0 L543.94 578.8 L544.04 576.1 L544.14 577.2 L544.24 581.1 L544.34 586.9 L544.44 592.9 L544.54 597.0 L544.64 599.7 L544.74 601.2 L544.84 601.4 L544.94 599.7 L545.04 595.0 L545.14 586.2 L545.24 571.9 L545.34 552.1 L545.44 531.9 L545.54 515.7 L545.64 509.6 L545.74 516.5 L545.84 533.9 L545.94 555.6 L546.04 575.4 L546.14 590.0 L546.24 598.9 L546.34 600.8 L546.44 600.1 L546.54 597.9 L546.64 594.3 L546.74 590.5 L546.84 586.2 L546.94 580.6 L547.04 575.2 L547.14 572.0 L547.24 570.9 L547.34 573.7 L547.44 578.8 L547.54 584.2 L547.64 589.7 L547.74 594.5 L547.84 597.7 L547.94 599.5 L548.04 599.5 L548.14 594.8 L548.24 585.1 L548.34 568.4 L548.44 544.6 L548.54 518.1 L548.64 496.6 L548.74 487.4 L548.84 494.8 L548.94 516.3 L549.04 540.3 L549.14 562.6 L549.24 578.4 L549.34 586.8 L549.44 591.3 L549.54 594.0 L549.64 594.8 L549.74 594.2 L549.84 592.0 L549.94 588.2 L550.04 583.0 L550.14 577.9 L550.24 574.6 L550.34 574.2 L550.44 576.9 L550.54 581.9 L550.64 587.5 L550.74 592.0 L550.84 595.4 L550.94 597.1 L551.04 597.5 L551.14 596.4 L551.24 593.1 L551.34 585.8 L551.44 572.3 L551.54 552.5 L551.64 529.5 L551.74 507.7 L551.84 496.9 L551.94 500.9 L552.04 517.6 L552.14 541.7 L552.24 566.0 L552.34 584.5 L552.44 596.4 L552.54 603.3 L552.64 603.5 L552.74 601.9 L552.84 599.2 L552.94 595.2 L553.04 591.5 L553.14 588.2 L553.24 584.9 L553.34 583.1 L553.44 584.0 L553.54 584.5 L553.64 586.9 L553.74 589.7 L553.84 591.7 L553.94 594.0 L554.04 596.7 L554.14 598.1 L554.24 598.0 L554.34 595.1 L554.44 584.4 L554.54 566.6 L554.64 541.4 L554.74 512.0 L554.84 487.1 L554.94 475.5 L555.04 480.9 L555.14 501.4 L555.24 529.5 L555.34 556.1 L555.44 576.3 L555.54 588.8 L555.64 595.4 L555.74 598.5 L555.84 599.8 L555.94 599.5 L556.04 597.6 L556.14 593.9 L556.24 585.3 L556.34 576.6 L556.44 569.6 L556.54 566.3 L556.64 569.1 L556.74 576.7 L556.84 585.1 L556.94 592.5 L557.04 598.1 L557.14 600.1 L557.24 600.6 L557.34 599.5 L557.44 595.9 L557.54 588.5 L557.64 575.3 L557.74 555.5 L557.84 531.8 L557.94 511.0 L558.04 496.8 L558.14 497.6 L558.24 512.0 L558.34 533.3 L558.44 556.1 L558.54 575.6 L558.64 588.3 L558.74 595.6 L558.84 599.6 L558.94 600.0 L559.04 599.0 L559.14 596.4 L559.24 591.8 L559.34 585.4 L559.44 578.6 L559.54 573.7 L559.64 572.4 L559.74 575.4 L559.84 580.5 L559.94 586.4 L560.04 591.4 L560.14 594.4 L560.24 596.6 L560.34 598.2 L560.44 598.0 L560.54 595.1 L560.64 587.5 L560.74 569.7 L560.84 544.0 L560.94 513.4 L561.04 485.3 L561.14 470.1 L561.24 473.7 L561.34 493.6 L561.44 522.3 L561.54 550.9 L561.64 573.2 L561.74 587.6 L561.84 595.4 L561.94 599.2 L562.04 600.5 L562.14 600.1 L562.24 597.9 L562.34 593.6 L562.44 587.4 L562.54 578.5 L562.64 571.4 L562.74 568.3 L562.84 569.9 L562.94 575.6 L563.04 583.1 L563.14 589.6 L563.24 594.1 L563.34 596.5 L563.44 596.9 L563.54 595.6 L563.64 591.8 L563.74 583.8 L563.84 570.0 L563.94 549.7 L564.04 524.9 L564.14 502.1 L564.24 489.4 L564.34 491.0 L564.44 507.1 L564.54 531.3 L564.64 555.5 L564.74 575.3 L564.84 589.1 L564.94 597.0 L565.04 601.3 L565.14 603.4 L565.24 600.3 L565.34 595.6 L565.44 589.2 L565.54 581.1 L565.64 575.0 L565.74 572.8 L565.84 573.9 L565.94 578.9 L566.04 586.8 L566.14 590.9 L566.24 594.1 L566.34 595.6 L566.44 595.4 L566.54 595.7 L566.64 596.6 L566.74 594.6 L566.84 587.6 L566.94 573.1 L567.04 546.3 L567.14 513.5 L567.24 482.3 L567.34 462.8 L567.44 462.8 L567.54 481.9 L567.64 512.0 L567.74 542.8 L567.84 567.3 L567.94 583.1 L568.04 591.6 L568.14 595.2 L568.24 596.1 L568.34 596.1 L568.44 595.2 L568.54 592.1 L568.64 587.2 L568.74 581.6 L568.84 573.9 L568.94 570.1 L569.04 570.9 L569.14 575.3 L569.24 582.3 L569.34 589.4 L569.44 594.6 L569.54 597.6 L569.64 599.0 L569.74 598.6 L569.84 595.7 L569.94 588.5 L570.04 574.7 L570.14 553.1 L570.24 526.3 L570.34 500.6 L570.44 485.1 L570.54 485.9 L570.64 502.1 L570.74 528.0 L570.84 554.9 L570.94 576.2 L571.04 589.8 L571.14 597.0 L571.24 599.9 L571.34 600.4 L571.44 599.2 L571.54 595.9 L571.64 590.6 L571.74 583.5 L571.84 575.6 L571.94 569.8 L572.04 568.2 L572.14 571.1 L572.24 577.6 L572.34 585.6 L572.44 591.8 L572.54 596.0 L572.64 598.2 L572.74 598.7 L572.84 597.6 L572.94 594.0 L573.04 585.4 L573.14 569.1 L573.24 543.4 L573.34 510.7 L573.44 478.7 L573.54 457.9 L573.64 456.6 L573.74 474.9 L573.84 505.5 L573.94 538.1 L574.04 564.4 L574.14 581.5 L574.24 590.1 L574.34 593.4 L574.44 593.6 L574.54 592.1 L574.64 590.4 L574.74 588.3 L574.84 584.5 L574.94 580.0 L575.04 576.6 L575.14 573.5 L575.24 574.4 L575.34 578.5 L575.44 584.0 L575.54 589.5 L575.64 593.7 L575.74 596.2 L575.84 597.2 L575.94 596.8 L576.04 594.6 L576.14 588.9 L576.24 577.7 L576.34 560.0 L576.44 536.9 L576.54 513.9 L576.64 498.6 L576.74 497.0 L576.84 509.7 L576.94 531.9 L577.04 555.7 L577.14 575.1 L577.24 588.0 L577.34 595.0 L577.44 598.0 L577.54 598.7 L577.64 597.8 L577.74 595.5 L577.84 591.2 L577.94 585.2 L578.04 578.3 L578.14 572.5 L578.24 570.1 L578.34 572.1 L578.44 577.7 L578.54 584.7 L578.64 591.3 L578.74 594.3 L578.84 595.4 L578.94 594.9 L579.04 592.7 L579.14 590.3 L579.24 585.8 L579.34 574.5 L579.44 554.9 L579.54 528.4 L579.64 496.3 L579.74 473.3 L579.84 467.4 L579.94 479.9 L580.04 506.8 L580.14 538.6 L580.24 565.3 L580.34 583.8 L580.44 594.6 L580.54 598.3 L580.64 599.0 L580.74 598.0 L580.84 595.3 L580.94 591.5 L581.04 586.6 L581.14 580.7 L581.24 575.7 L581.34 573.7 L581.44 574.8 L581.54 579.5 L581.64 586.0 L581.74 592.1 L581.84 597.0 L581.94 600.3 L582.04 601.9 L582.14 602.1 L582.24 600.3 L582.34 592.9 L582.44 580.1 L582.54 560.4 L582.64 535.3 L582.74 511.4 L582.84 496.7 L582.94 495.5 L583.04 509.4 L583.14 533.4 L583.24 555.9 L583.34 574.3 L583.44 586.1 L583.54 591.7 L583.64 594.2 L583.74 595.3 L583.84 594.6 L583.94 592.0 L584.04 587.0 L584.14 578.4 L584.24 568.6 L584.34 559.8 L584.44 555.1 L584.54 556.8 L584.64 564.3 L584.74 574.2 L584.84 583.7 L584.94 591.0 L585.04 594.1 L585.14 595.0 L585.24 594.0 L585.34 590.5 L585.44 584.0 L585.54 571.7 L585.64 550.3 L585.74 520.9 L585.84 490.1 L585.94 463.4 L586.04 454.7 L586.14 466.6 L586.24 493.2 L586.34 526.7 L586.44 558.0 L586.54 580.2 L586.64 593.8 L586.74 601.4 L586.84 600.8 L586.94 598.0 L587.04 593.3 L587.14 586.4 L587.24 578.7 L587.34 571.2 L587.44 564.6 L587.54 561.4 L587.64 563.3 L587.74 568.6 L587.84 576.5 L587.94 584.1 L588.04 589.9 L588.14 594.0 L588.24 596.8 L588.34 597.8 L588.44 596.6 L588.54 591.8 L588.64 579.9 L588.74 560.4 L588.84 534.3 L588.94 506.9 L589.04 486.8 L589.14 481.6 L589.24 493.4 L589.34 517.5 L589.44 545.2 L589.54 568.6 L589.64 584.6 L589.74 593.5 L589.84 597.4 L589.94 599.0 L590.04 599.6 L590.14 598.1 L590.24 594.3 L590.34 588.0 L590.44 578.1 L590.54 569.0 L590.64 563.6 L590.74 563.7 L590.84 569.1 L590.94 577.4 L591.04 585.6 L591.14 591.7 L591.24 595.3 L591.34 596.1 L591.44 594.9 L591.54 591.4 L591.64 583.9 L591.74 571.6 L591.84 552.5 L591.94 525.4 L592.04 496.1 L592.14 474.0 L592.24 465.4 L592.34 476.6 L592.44 502.8 L592.54 534.4 L592.64 562.6 L592.74 582.8 L592.84 594.6 L592.94 600.3 L593.04 602.5 L593.14 601.7 L593.24 599.2 L593.34 594.7 L593.44 588.2 L593.54 580.9 L593.64 574.8 L593.74 571.5 L593.84 572.7 L593.94 578.1 L594.04 583.5 L594.14 589.0 L594.24 593.0 L594.34 594.8 L594.44 596.2 L594.54 597.6 L594.64 597.2 L594.74 593.8 L594.84 585.7 L594.94 569.1 L595.04 546.7 L595.14 522.5 L595.24 503.5 L595.34 497.6 L595.44 507.3 L595.54 528.1 L595.64 552.9 L595.74 575.0 L595.84 587.8 L595.94 594.4 L596.04 596.6 L596.14 596.1 L596.24 595.8 L596.34 595.9 L596.44 594.4 L596.54 591.3 L596.64 586.9 L596.74 580.2 L596.84 575.8 L596.94 574.9 L597.04 577.6 L597.14 583.2 L597.24 589.8 L597.34 595.2 L597.44 598.8 L597.54 600.9 L597.64 598.9 L597.74 594.9 L597.84 587.1 L597.94 573.2 L598.04 552.7 L598.14 525.9 L598.24 495.9 L598.34 472.2 L598.44 464.2 L598.54 472.1 L598.64 496.0 L598.74 526.3 L598.84 553.6 L598.94 574.5 L599.04 588.6 L599.14 596.3 L599.24 600.2 L599.34 601.9 L599.44 597.8 L599.54 591.7 L599.64 583.2 L599.74 573.1 L599.84 565.3 L599.94 562.4 L600.04 564.2 L600.14 570.8 L600.24 580.4 L600.34 587.3 L600.44 592.7 L600.54 595.7 L600.64 596.7 L600.74 596.6 L600.84 595.5 L600.94 591.8 L601.04 583.9 L601.14 570.2 L601.24 550.5 L601.34 528.5 L601.44 510.6 L601.54 503.1 L601.64 510.2 L601.74 529.3 L601.84 552.9 L601.94 574.5 L602.04 590.7 L602.14 598.1 L602.24 601.2 L602.34 601.8 L602.44 601.0 L602.54 599.1 L602.64 596.2 L602.74 592.1 L602.84 587.2 L602.94 582.4 L603.04 581.1 L603.14 582.2 L603.24 585.7 L603.34 590.6 L603.44 595.4 L603.54 598.9 L603.64 601.2 L603.74 602.5 L603.84 602.7 L603.94 598.9 L604.04 592.5 L604.14 581.6 L604.24 564.1 L604.34 542.7 L604.44 520.8 L604.54 502.7 L604.64 496.1 L604.74 504.9 L604.84 522.4 L604.94 545.8 L605.04 567.6 L605.14 583.3 L605.24 593.2 L605.34 599.1 L605.44 601.8 L605.54 602.9 L605.64 602.7 L605.74 600.1 L605.84 596.2 L605.94 591.3 L606.04 586.4 L606.14 583.2 L606.24 582.9 L606.34 585.3 L606.44 589.4 L606.54 593.8 L606.64 596.3 L606.74 597.6 L606.84 597.7 L606.94 596.7 L607.04 595.7 L607.14 593.8 L607.24 588.2 L607.34 577.3 L607.44 561.0 L607.54 540.1 L607.64 522.3 L607.74 513.9 L607.84 518.0 L607.94 532.8 L608.04 552.4 L608.14 570.7 L608.24 584.1 L608.34 591.9 L608.44 595.3 L608.54 596.0 L608.64 595.3 L608.74 593.5 L608.84 591.6 L608.94 589.4 L609.04 586.2 L609.14 583.0 L609.24 581.3 L609.34 580.8 L609.44 583.3 L609.54 587.6 L609.64 592.4 L609.74 596.4 L609.84 599.0 L609.94 600.3 L610.04 600.5 L610.14 599.5 L610.24 595.2 L610.34 587.1 L610.44 573.6 L610.54 554.4 L610.64 533.1 L610.74 515.6 L610.84 507.4 L610.94 512.3 L611.04 528.8 L611.14 548.0 L611.24 566.5 L611.34 579.9 L611.44 587.5 L611.54 592.3 L611.64 596.1 L611.74 598.4 L611.84 599.7 L611.94 600.0 L612.04 596.4 L612.14 591.9 L612.24 587.3 L612.34 583.6 L612.44 583.4 L612.54 586.7 L612.64 591.6 L612.74 596.9 L612.84 601.6 L612.94 601.8 L613.04 601.0 L613.14 599.4 L613.24 596.9 L613.34 593.9 L613.44 589.5 L613.54 581.2 L613.64 568.9 L613.74 554.2 L613.84 540.0 L613.94 532.3 L614.04 533.9 L614.14 543.7 L614.24 559.1 L614.34 575.3 L614.44 588.1 L614.54 596.7 L614.64 602.0 L614.74 600.9 L614.84 598.8 L614.94 596.0 L615.04 592.6 L615.14 590.5 L615.24 589.7 L615.34 588.9 L615.44 588.6 L615.54 589.7 L615.64 590.5 L615.74 592.3 L615.84 594.4 L615.94 596.2 L616.04 597.8 L616.14 599.4 L616.24 600.3 L616.34 600.3 L616.44 598.7 L616.54 591.4 L616.64 579.7 L616.74 562.9 L616.84 543.0 L616.94 526.6 L617.04 519.5 L617.14 523.4 L617.24 537.7 L617.34 557.7 L617.44 573.5 L617.54 585.3 L617.64 592.0 L617.74 594.5 L617.84 595.8 L617.94 596.9 L618.04 597.1 L618.14 596.3 L618.24 594.5 L618.34 590.6 L618.44 586.5 L618.54 583.3 L618.64 582.0 L618.74 583.3 L618.84 586.6 L618.94 590.4 L619.04 593.7 L619.14 596.1 L619.24 597.3 L619.34 597.6 L619.44 597.2 L619.54 595.5 L619.64 592.0 L619.74 585.9 L619.84 576.2 L619.94 564.2 L620.04 553.3 L620.14 546.1 L620.24 546.7 L620.34 554.7 L620.44 566.7 L620.54 578.7 L620.64 587.9 L620.74 593.5 L620.84 596.2 L620.94 597.1 L621.04 597.8 L621.14 598.0 L621.24 597.7 L621.34 596.8 L621.44 595.3 L621.54 593.5 L621.64 592.1 L621.74 591.8 L621.84 592.6 L621.94 593.9 L622.04 595.5 L622.14 596.9 L622.24 597.8 L622.34 598.1 L622.44 597.9 L622.54 597.0 L622.64 594.7 L622.74 589.8 L622.84 580.3 L622.94 566.2 L623.04 549.0 L623.14 532.7 L623.24 524.4 L623.34 527.7 L623.44 540.6 L623.54 559.1 L623.64 578.1 L623.74 587.9 L623.84 593.2 L623.94 594.6 L624.04 593.6 L624.14 593.6 L624.24 595.2 L624.34 596.4 L624.44 597.1 L624.54 597.4 L624.64 596.1 L624.74 595.1 L624.84 594.9 L624.94 595.7 L625.04 597.1 L625.14 598.6 L625.24 600.0 L625.34 600.9 L625.44 601.4 L625.54 601.5 L625.64 601.0 L625.74 599.1 L625.84 594.7 L625.94 586.5 L626.04 573.6 L626.14 557.8 L626.24 542.6 L626.34 533.3 L626.44 533.4 L626.54 542.9 L626.64 557.9 L626.74 573.4 L626.84 586.0 L626.94 594.5 L627.04 599.2 L627.14 601.5 L627.24 602.5 L627.34 601.5 L627.44 599.7 L627.54 597.0 L627.64 593.7 L627.74 590.5 L627.84 588.4 L627.94 587.7 L628.04 588.9 L628.14 591.5 L628.24 593.1 L628.34 594.4 L628.44 594.9 L628.54 594.6 L628.64 594.6 L628.74 594.7 L628.84 593.6 L628.94 590.0 L629.04 582.7 L629.14 570.7 L629.24 555.4 L629.34 540.4 L629.44 530.8 L629.54 530.5 L629.64 539.8 L629.74 555.2 L629.84 571.5 L629.94 584.9 L630.04 593.7 L630.14 598.6 L630.24 601.0 L630.34 602.1 L630.44 602.3 L630.54 602.0 L630.64 601.3 L630.74 600.2 L630.84 598.9 L630.94 595.7 L631.04 593.1 L631.14 591.3 L631.24 590.2 L631.34 591.8 L631.44 595.7 L631.54 599.3 L631.64 602.4 L631.74 605.2 L631.84 602.3 L631.94 598.5 L632.04 592.9 L632.14 584.6 L632.24 574.8 L632.34 564.4 L632.44 554.2 L632.54 547.9 L632.64 548.6 L632.74 555.1 L632.84 566.1 L632.94 578.0 L633.04 587.6 L633.14 593.9 L633.24 597.2 L633.34 598.7 L633.44 599.1 L633.54 599.0 L633.64 599.0 L633.74 598.7 L633.84 598.3 L633.94 597.7 L634.04 597.0 L634.14 596.4 L634.24 596.1 L634.34 596.2 L634.44 596.5 L634.54 598.0 L634.64 599.3 L634.74 600.4 L634.84 601.3 L634.94 601.6 L635.04 601.0 L635.14 598.6 L635.24 593.2 L635.34 584.0 L635.44 568.9 L635.54 553.6 L635.64 542.4 L635.74 538.7 L635.84 545.0 L635.94 558.6 L636.04 573.6 L636.14 586.2 L636.24 595.2 L636.34 599.1 L636.44 600.8 L636.54 601.3 L636.64 601.2 L636.74 600.9 L636.84 600.6 L636.94 600.0 L637.04 599.2 L637.14 598.6 L637.24 597.9 L637.34 597.6 L637.44 597.8 L637.54 598.2 L637.64 598.9 L637.74 599.8 L637.84 600.5 L637.94 600.9 L638.04 600.9 L638.14 598.8 L638.24 595.4 L638.34 590.0 L638.44 582.2 L638.54 573.4 L638.64 565.4 L638.74 560.0 L638.84 559.5 L638.94 564.5 L639.04 573.3 L639.14 583.0 L639.24 591.2 L639.34 597.0 L639.44 600.1 L639.54 601.1 L639.64 601.3 L639.74 601.1 L639.84 600.6 L639.94 598.5 L640.04 596.1 L640.14 593.6 L640.24 591.3 L640.34 591.1 L640.44 593.2 L640.54 595.8 L640.64 598.5 L640.74 601.2 L640.84 600.2 L640.94 599.0 L641.04 597.5 L641.14 595.6 L641.24 594.6 L641.34 593.8 L641.44 590.0 L641.54 582.3 L641.64 571.3 L641.74 554.9 L641.84 542.3 L641.94 537.3 L642.04 540.9 L642.14 552.7 L642.24 568.3 L642.34 581.8 L642.44 591.6 L642.54 597.7 L642.64 598.4 L642.74 597.7 L642.84 596.2 L642.94 594.3 L643.04 593.2 L643.14 593.0 L643.24 592.5 L643.34 592.2 L643.44 592.5 L643.54 591.7 L643.64 591.8 L643.74 592.2 L643.84 592.7 L643.94 594.6 L644.04 597.9 L644.14 600.8 L644.24 603.2 L644.34 604.9 L644.44 600.6 L644.54 594.2 L644.64 585.2 L644.74 573.8 L644.84 564.1 L644.94 559.1 L645.04 559.2 L645.14 565.2 L645.24 575.6 L645.34 584.2 L645.44 591.6 L645.54 596.3 L645.64 598.5 L645.74 599.9 L645.84 601.2 L645.94 602.1 L646.04 602.6 L646.14 602.9 L646.24 600.8 L646.34 598.6 L646.44 596.5 L646.54 594.7 L646.64 594.4 L646.74 595.8 L646.84 597.3 L646.94 598.9 L647.04 600.3 L647.14 599.1 L647.24 597.7 L647.34 595.9 L647.44 593.5 L647.54 591.9 L647.64 590.1 L647.74 585.4 L647.84 577.8 L647.94 569.4 L648.04 559.6 L648.14 555.6 L648.24 558.6 L648.34 566.7 L648.44 577.6 L648.54 588.0 L648.64 595.4 L648.74 599.9 L648.84 602.4 L648.94 601.3 L649.04 599.8 L649.14 598.1 L649.24 596.3 L649.34 596.1 L649.44 597.5 L649.54 598.9 L649.64 600.3 L649.74 601.8 L649.84 601.0 L649.94 600.2 L650.04 599.4 L650.14 598.7 L650.24 598.4 L650.34 598.7 L650.44 598.8 L650.54 598.4 L650.64 597.1 L650.74 593.0 L650.84 586.7 L650.94 578.3 L651.04 569.2 L651.14 563.2 L651.24 562.6 L651.34 567.3 L651.44 576.0 L651.54 586.1 L651.64 593.1 L651.74 598.0 L651.84 600.6 L651.94 601.7 L652.04 602.1 L652.14 602.4 L652.24 602.5 L652.34 602.6 L652.44 602.7 L652.54 601.0 L652.64 599.2 L652.74 597.5 L652.84 595.8 L652.94 595.6 L653.04 597.1 L653.14 598.5 L653.24 600.0 L653.34 601.4 L653.44 601.6 L653.54 601.6 L653.64 601.0 L653.74 599.2 L653.84 595.0 L653.94 587.8 L654.04 577.6 L654.14 566.3 L654.24 557.2 L654.34 552.9 L654.44 555.7 L654.54 564.0 L654.64 574.6 L654.74 584.7 L654.84 592.5 L654.94 597.3 L655.04 599.9 L655.14 601.2 L655.24 600.6 L655.34 599.9 L655.44 599.0 L655.54 598.2 L655.64 597.8 L655.74 597.9 L655.84 598.0 L655.94 598.1 L656.04 598.2 L656.14 598.6 L656.24 599.0 L656.34 599.5 L656.44 599.9 L656.54 600.4 L656.64 600.9 L656.74 601.1 L656.84 600.5 L656.94 598.6 L657.04 592.9 L657.14 585.3 L657.24 577.0 L657.34 570.1 L657.44 567.3 L657.54 569.6 L657.64 575.5 L657.74 582.8 L657.84 589.4 L657.94 593.5 L658.04 595.7 L658.14 596.6 L658.24 596.7 L658.34 597.3 L658.44 598.7 L658.54 600.1 L658.64 601.4 L658.74 602.8 L658.84 601.2 L658.94 599.7 L659.04 598.1 L659.14 596.5 L659.24 596.5 L659.34 598.1 L659.44 599.6 L659.54 601.1 L659.64 602.6 L659.74 600.5 L659.84 598.1 L659.94 594.8 L660.04 589.8 L660.14 584.6 L660.24 579.2 L660.34 572.6 L660.44 567.5 L660.54 566.4 L660.64 568.0 L660.74 574.1 L660.84 582.3 L660.94 590.0 L661.04 595.4 L661.14 598.4 L661.24 599.6 L661.34 599.7 L661.44 599.4 L661.54 599.7 L661.64 600.0 L661.74 600.3 L661.84 600.5 L661.94 600.5 L662.04 600.2 L662.14 600.0 L662.24 599.7 L662.34 599.4 L662.44 599.0 L662.54 598.7 L662.64 598.3 L662.74 597.9 L662.84 598.2 L662.94 598.9 L663.04 599.1 L663.14 598.3 L663.24 596.2 L663.34 591.7 L663.44 586.6 L663.54 582.2 L663.64 580.2 L663.74 581.1 L663.84 584.4 L663.94 588.9 L664.04 593.1 L664.14 596.1 L664.24 598.9 L664.34 600.6 L664.44 601.7 L664.54 602.5 L664.64 602.4 L664.74 601.4 L664.84 600.4 L664.94 599.4 L665.04 598.4 L665.14 597.7 L665.24 597.1 L665.34 596.4 L665.44 595.7 L665.54 596.4 L665.64 598.4 L665.74 600.5 L665.84 602.5 L665.94 604.3 L666.04 603.4 L666.14 601.9 L666.24 599.2 L666.34 594.7 L666.44 588.3 L666.54 580.8 L666.64 574.1 L666.74 570.4 L666.84 570.8 L666.94 575.7 L667.04 582.4 L667.14 588.8 L667.24 593.7 L667.34 597.4 L667.44 600.5 L667.54 602.7 L667.64 604.6 L667.74 606.2 L667.84 604.6 L667.94 603.0 L668.04 601.4 L668.14 599.8 L668.24 599.7 L668.34 601.0 L668.44 602.4 L668.54 603.8 L668.64 605.1 L668.74 604.0 L668.84 602.8 L668.94 601.6 L669.04 600.3 L669.14 599.6 L669.24 599.1 L669.34 597.8 L669.44 595.1 L669.54 591.0 L669.64 584.3 L669.74 578.3 L669.84 574.5 L669.94 573.9 L670.04 577.5 L670.14 583.7 L670.24 589.8 L670.34 594.7 L670.44 598.1 L670.54 599.8 L670.64 600.7 L670.74 601.4 L670.84 601.9 L670.94 602.3 L671.04 602.5 L671.14 602.7 L671.24 602.9 L671.34 603.1 L671.44 602.2 L671.54 601.3 L671.64 600.5 L671.74 599.6 L671.84 599.1 L671.94 598.9 L672.04 598.7 L672.14 598.4 L672.24 597.9 L672.34 598.0 L672.44 597.2 L672.54 594.8 L672.64 590.8 L672.74 585.2 L672.84 579.6 L672.94 576.5 L673.04 577.1 L673.14 581.1 L673.24 585.4 L673.34 589.6 L673.44 592.5 L673.54 593.7 L673.64 595.3 L673.74 597.9 L673.84 600.0 L673.94 602.0 L674.04 603.9 L674.14 603.3 L674.24 602.8 L674.34 602.2 L674.44 601.7 L674.54 601.5 L674.64 601.7 L674.74 602.0 L674.84 602.2 L674.94 602.5 L675.04 602.1 L675.14 601.7 L675.24 601.3 L675.34 600.7 L675.44 599.8 L675.54 598.1 L675.64 595.4 L675.74 591.5 L675.84 586.9 L675.94 584.0 L676.04 582.7 L676.14 584.0 L676.24 587.6 L676.34 592.4 L676.44 597.1 L676.54 600.8 L676.64 603.4 L676.74 605.0 L676.84 604.9 L676.94 604.5 L677.04 603.9 L677.14 603.4 L677.24 602.9 L677.34 602.4 L677.44 602.0 L677.54 601.6 L677.64 601.1 L677.74 601.1 L677.84 601.2 L677.94 601.2 L678.04 601.2 L678.14 601.0 L678.24 600.6 L678.34 600.1 L678.44 599.5 L678.54 598.4 L678.64 596.3 L678.74 592.9 L678.84 588.2 L678.94 582.6 L679.04 578.1 L679.14 576.1 L679.24 577.0 L679.34 580.7 L679.44 586.1 L679.54 591.4 L679.64 595.7 L679.74 598.6 L679.84 600.4 L679.94 602.0 L680.04 603.5 L680.14 604.9 L680.24 606.3 L680.34 607.7 L680.44 606.1 L680.54 604.5 L680.64 602.8 L680.74 601.2 L680.84 600.3 L680.94 599.9 L681.04 599.6 L681.14 599.3 L681.24 599.0 L681.34 598.5 L681.44 598.1 L681.54 597.5 L681.64 596.7 L681.74 596.9 L681.84 597.7 L681.94 597.7 L682.04 597.1 L682.14 596.7 L682.24 593.0 L682.34 590.9 L682.44 590.5 L682.54 591.1 L682.64 593.0 L682.74 595.6 L682.84 597.5 L682.94 598.6 L683.04 599.4 L683.14 598.6 L683.24 597.7 L683.34 596.8 L683.44 595.9 L683.54 596.1 L683.64 597.5 L683.74 598.8 L683.84 600.1 L683.94 601.5 L684.04 600.4 L684.14 599.3 L684.24 598.2 L684.34 597.0 L684.44 596.9 L684.54 597.7 L684.64 598.4 L684.74 598.9 L684.84 598.8 L684.94 597.1 L685.04 594.4 L685.14 591.0 L685.24 587.6 L685.34 586.1 L685.44 587.3 L685.54 590.7 L685.64 595.4 L685.74 600.4 L685.84 601.3 L685.94 601.2 L686.04 600.2 L686.14 598.7 L686.24 598.8 L686.34 600.9 L686.44 602.9 L686.54 604.9 L686.64 606.9 L686.74 605.6 L686.84 604.3 L686.94 603.0 L687.04 601.7 L687.14 600.9 L687.24 600.5 L687.34 600.1 L687.44 599.7 L687.54 599.3 L687.64 599.3 L687.74 599.4 L687.84 599.3 L687.94 599.1 L688.04 599.0 L688.14 599.0 L688.24 598.8 L688.34 598.6 L688.44 598.7 L688.54 597.1 L688.64 596.1 L688.74 595.5 L688.84 595.0 L688.94 596.1 L689.04 598.9 L689.14 601.3 L689.24 603.6 L689.34 605.7 L689.44 603.6 L689.54 601.4 L689.64 599.2 L689.74 597.0 L689.84 596.4 L689.94 597.4 L690.04 598.4 L690.14 599.3 L690.24 600.3 L690.34 600.6 L690.44 600.9 L690.54 601.2 L690.64 601.4 L690.74 602.0 L690.84 602.7 L690.94 603.3 L691.04 603.5 L691.14 603.1 L691.24 600.7 L691.34 597.6 L691.44 594.5 L691.54 592.2 L691.64 591.4 L691.74 592.0 L691.84 593.8 L691.94 595.9 L692.04 597.4 L692.14 599.6 L692.24 601.1 L692.34 602.1 L692.44 602.9 L692.54 603.9 L692.64 605.0 L692.74 606.2 L692.84 607.3 L692.94 608.4 L693.04 606.0 L693.14 603.5 L693.24 601.0 L693.34 598.5 L693.44 598.0 L693.54 599.3 L693.64 600.7 L693.74 602.0 L693.84 603.4 L693.94 602.4 L694.04 601.4 L694.14 600.1 L694.24 598.6 L694.34 597.5 L694.44 596.9 L694.54 596.3 L694.64 596.1 L694.74 596.6 L694.84 597.8 L694.94 599.5 L695.04 601.4 L695.14 603.1 L695.24 604.4 L695.34 605.5 L695.44 606.4 L695.54 607.2 L695.64 607.9 L695.74 606.4 L695.84 604.8 L695.94 603.3 L696.04 601.7 L696.14 601.8 L696.24 603.4 L696.34 605.0 L696.44 606.7 L696.54 608.3 L696.64 606.7 L696.74 605.1 L696.84 603.4 L696.94 601.8 L697.04 601.1 L697.14 601.2 L697.24 601.1 L697.34 600.6 L697.44 599.5 L697.54 596.9 L697.64 594.3 L697.74 592.2 L697.84 591.3 L697.94 592.3 L698.04 594.9 L698.14 597.8 L698.24 600.4 L698.34 602.5 L698.44 603.4 L698.54 604.1 L698.64 604.5 L698.74 604.9 L698.84 605.3 L698.94 605.7 L699.04 606.1 L699.14 606.5 L699.24 606.9 L699.34 604.9 L699.44 602.9 L699.54 600.9 L699.64 598.9 L699.74 599.0 L699.84 601.3 L699.94 603.5 L700.04 605.7 L700.14 608.0 L700.24 606.4 L700.34 604.8 L700.44 603.2 L700.54 601.5 L700.64 601.3 L700.74 602.7 L700.84 604.2 L700.94 605.8 L701.04 607.6 L701.14 605.4 L701.24 603.3 L701.34 601.1 L701.44 598.8 L701.54 598.8 L701.64 601.1 L701.74 603.3 L701.84 605.5 L701.94 607.7 L702.04 606.5 L702.14 605.3 L702.24 604.1 L702.34 602.9 L702.44 602.6 L702.54 603.1 L702.64 603.6 L702.74 604.1 L702.84 604.6 L702.94 603.6 L703.04 602.5 L703.14 601.4 L703.24 600.3 L703.34 599.8 L703.44 599.8 L703.54 599.5 L703.64 598.7 L703.74 597.5 L703.84 595.4 L703.94 593.8 L704.04 593.0 L704.14 593.2 L704.24 595.2 L704.34 598.4 L704.44 601.4 L704.54 603.9 L704.64 606.0 L704.74 606.0 L704.84 605.9 L704.94 605.7 L705.04 605.5 L705.14 605.1 L705.24 604.7 L705.34 604.3 L705.44 603.9 L705.54 603.5 L705.64 602.3 L705.74 601.1 L705.84 599.9 L705.94 598.6 L706.04 599.3 L706.14 601.8 L706.24 604.3 L706.34 606.8 L706.44 609.3 L706.54 607.1 L706.64 604.9 L706.74 602.7 L706.84 600.4 L706.94 600.1 L707.04 601.8 L707.14 603.6 L707.24 605.5 L707.34 607.5 L707.44 606.4 L707.54 605.3 L707.64 604.2 L707.74 603.0 L707.84 602.7 L707.94 603.4 L708.04 604.0 L708.14 604.7 L708.24 605.3 L708.34 604.4 L708.44 603.5 L708.54 602.6 L708.64 601.7 L708.74 601.3 L708.84 601.4 L708.94 601.4 L709.04 601.5 L709.14 601.6 L709.24 601.4 L709.34 601.2 L709.44 601.0 L709.54 600.7 L709.64 600.9 L709.74 601.5 L709.84 601.7 L709.94 601.4 L710.04 601.0 L710.14 598.4 L710.24 596.5 L710.34 595.7 L710.44 595.8 L710.54 597.5 L710.64 600.2 L710.74 602.5 L710.84 604.3 L710.94 605.8 L711.04 605.3 L711.14 604.8 L711.24 604.1 L711.34 603.5 L711.44 603.6 L711.54 604.5 L711.64 605.3 L711.74 606.1 L711.84 606.9 L711.94 606.0 L712.04 605.0 L712.14 604.1 L712.24 603.2 L712.34 603.2 L712.44 604.4 L712.54 605.4 L712.64 606.5 L712.74 607.5 L712.84 606.6 L712.94 605.5 L713.04 604.3 L713.14 602.9 L713.24 602.5 L713.34 603.2 L713.44 604.3 L713.54 605.7 L713.64 607.3 L713.74 606.7 L713.84 605.9 L713.94 605.0 L714.04 603.9 L714.14 603.8 L714.24 604.8 L714.34 605.8 L714.44 606.8 L714.54 607.8 L714.64 606.1 L714.74 604.5 L714.84 602.8 L714.94 601.2 L715.04 600.7 L715.14 601.4 L715.24 602.1 L715.34 602.8 L715.44 603.5 L715.54 603.7 L715.64 603.8 L715.74 603.9 L715.84 603.8 L715.94 603.6 L716.04 603.0 L716.14 602.0 L716.24 600.8 L716.34 599.9 L716.44 598.2 L716.54 597.3 L716.64 597.2 L716.74 597.4 L716.84 598.9 L716.94 601.5 L717.04 603.8 L717.14 605.7 L717.24 607.5 L717.34 606.5 L717.44 605.5 L717.54 604.4 L717.64 603.4 L717.74 603.4 L717.84 604.3 L717.94 605.2 L718.04 606.1 L718.14 607.0 L718.24 605.9 L718.34 604.9 L718.44 603.8 L718.54 602.8 L718.64 602.4 L718.74 602.6 L718.84 602.7 L718.94 602.9 L719.04 603.1 L719.14 603.8 L719.24 604.5 L719.34 605.3 L719.44 606.0 L719.54 606.0 L719.64 605.3 L719.74 604.6 L719.84 603.9 L719.94 603.2 L720.04 603.0 L720.14 602.8 L720.24 602.7 L720.34 602.5 L720.44 602.6 L720.54 603.1 L720.64 603.6 L720.74 604.1 L720.84 604.6 L720.94 604.2 L721.04 603.8 L721.14 603.4 L721.24 603.0 L721.34 602.9 L721.44 603.2 L721.54 603.5 L721.64 603.8 L721.74 604.1 L721.84 604.3 L721.94 604.5 L722.04 604.6 L722.14 604.4 L722.24 603.8 L722.34 602.8 L722.44 601.7 L722.54 600.6 L722.64 600.2 L722.74 600.4 L722.84 601.4 L722.94 602.7 L723.04 603.9 L723.14 605.0 L723.24 605.8 L723.34 606.3 L723.44 606.7 L723.54 607.1 L723.64 606.1 L723.74 605.2 L723.84 604.2 L723.94 603.3 L724.04 603.5 L724.14 605.0 L724.24 606.5 L724.34 608.0 L724.44 609.5 L724.54 609.0 L724.64 608.6 L724.74 608.2 L724.84 607.7 L724.94 607.3 L725.04 606.7 L725.14 606.2 L725.24 605.7 L725.34 605.2 L725.44 604.5 L725.54 603.8 L725.64 603.1 L725.74 602.4 L725.84 602.5 L725.94 603.5 L726.04 604.4 L726.14 605.3 L726.24 606.2 L726.34 606.1 L726.44 606.0 L726.54 605.9 L726.64 605.8 L726.74 605.9 L726.84 606.0 L726.94 606.1 L727.04 606.3 L727.14 606.4 L727.24 606.7 L727.34 606.9 L727.44 607.2 L727.54 607.5 L727.64 607.5 L727.74 607.3 L727.84 607.0 L727.94 606.7 L728.04 606.4 L728.14 605.9 L728.24 605.2 L728.34 604.3 L728.44 603.2 L728.54 602.4 L728.64 601.9 L728.74 601.5 L728.84 601.6 L728.94 602.3 L729.04 602.7 L729.14 603.3 L729.24 604.0 L729.34 604.5 L729.44 605.3 L729.54 606.6 L729.64 607.7 L729.74 608.8 L729.84 609.8 L729.94 608.4 L730.04 606.9 L730.14 605.5 L730.24 604.0 L730.34 603.9 L730.44 604.9 L730.54 606.0 L730.64 607.1 L730.74 608.2 L730.84 607.1 L730.94 606.0 L731.04 604.9 L731.14 603.8 L731.24 603.9 L731.34 605.2 L731.44 606.4 L731.54 607.7 L731.64 608.9 L731.74 608.7 L731.84 608.4 L731.94 608.2 L732.04 608.0 L732.14 607.9 L732.24 607.9 L732.34 607.9 L732.44 607.9 L732.54 607.8 L732.64 607.1 L732.74 606.3 L732.84 605.6 L732.94 604.8 L733.04 604.5 L733.14 604.7 L733.24 604.9 L733.34 605.1 L733.44 605.3 L733.54 604.7 L733.64 604.1 L733.74 603.5 L733.84 603.0 L733.94 603.6 L734.04 605.6 L734.14 607.5 L734.24 609.5 L734.34 611.4 L734.44 609.6 L734.54 607.7 L734.64 605.6 L734.74 603.3 L734.84 602.5 L734.94 603.3 L735.04 604.4 L735.14 605.9 L735.24 607.7 L735.34 607.0 L735.44 606.4 L735.54 605.6 L735.64 604.6 L735.74 604.7 L735.84 605.9 L735.94 607.1 L736.04 608.2 L736.14 609.4 L736.24 608.8 L736.34 608.3 L736.44 607.8 L736.54 607.3 L736.64 607.2 L736.74 607.6 L736.84 607.9 L736.94 608.3 L737.04 608.7 L737.14 608.0 L737.24 607.4 L737.34 606.7 L737.44 606.0 L737.54 605.8 L737.64 606.2 L737.74 606.6 L737.84 607.0 L737.94 607.4 L738.04 606.9 L738.14 606.3 L738.24 605.8 L738.34 605.3 L738.44 605.3 L738.54 605.9 L738.64 606.5 L738.74 607.0 L738.84 607.6 L738.94 607.5 L739.04 607.3 L739.14 607.1 L739.24 607.0 L739.34 607.0 L739.44 607.2 L739.54 607.4 L739.64 607.5 L739.74 607.7 L739.84 607.6 L739.94 607.5 L740.04 607.4 L740.14 607.3 L740.24 607.4 L740.34 607.6 L740.44 607.8 L740.54 608.1 L740.64 608.3 L740.74 607.9 L740.84 607.5 L740.94 607.2 L741.04 606.8 L741.14 606.8 L741.24 607.3 L741.34 607.8 L741.44 608.2 L741.54 608.7 L741.64 608.9 L741.74 609.1 L741.84 609.4 L741.94 609.6" fill="none" stroke="#b05ad6" stroke-width="0.55" stroke-linejoin="round" stroke-opacity="0.8"/>
<path d="M35.3 455 V629.6 M48.5 629.6 H341.2" fill="none" stroke="#666" stroke-width="1.6"/>
<text x="21.5" y="630.9" font-size="9.2" font-weight="normal" text-anchor="middle" fill="#222" >0</text>
<text x="21.5" y="613.6" font-size="9.2" font-weight="normal" text-anchor="middle" fill="#222" >10</text>
<text x="21.5" y="596.3" font-size="9.2" font-weight="normal" text-anchor="middle" fill="#222" >20</text>
<text x="21.5" y="578.9" font-size="9.2" font-weight="normal" text-anchor="middle" fill="#222" >30</text>
<text x="21.5" y="561.6" font-size="9.2" font-weight="normal" text-anchor="middle" fill="#222" >40</text>
<text x="21.5" y="544.3" font-size="9.2" font-weight="normal" text-anchor="middle" fill="#222" >50</text>
<text x="21.5" y="527" font-size="9.2" font-weight="normal" text-anchor="middle" fill="#222" >60</text>
<text x="21.5" y="509.7" font-size="9.2" font-weight="normal" text-anchor="middle" fill="#222" >70</text>
<text x="21.5" y="492.3" font-size="9.2" font-weight="normal" text-anchor="middle" fill="#222" >80</text>
<text x="21.5" y="475" font-size="9.2" font-weight="normal" text-anchor="middle" fill="#222" >90</text>
<text x="21.5" y="457.7" font-size="9.2" font-weight="normal" text-anchor="middle" fill="#222" >100</text>
<text x="66.2" y="641.2" font-size="9.3" font-weight="normal" text-anchor="middle" fill="#222" >2000</text>
<text x="98" y="641.2" font-size="9.3" font-weight="normal" text-anchor="middle" fill="#222" >2200</text>
<text x="129.8" y="641.2" font-size="9.3" font-weight="normal" text-anchor="middle" fill="#222" >2400</text>
<text x="161.6" y="641.2" font-size="9.3" font-weight="normal" text-anchor="middle" fill="#222" >2600</text>
<text x="193.4" y="641.2" font-size="9.3" font-weight="normal" text-anchor="middle" fill="#222" >2800</text>
<text x="225.2" y="641.2" font-size="9.3" font-weight="normal" text-anchor="middle" fill="#222" >3000</text>
<text x="257" y="641.2" font-size="9.3" font-weight="normal" text-anchor="middle" fill="#222" >3200</text>
<text x="288.8" y="641.2" font-size="9.3" font-weight="normal" text-anchor="middle" fill="#222" >3400</text>
<text x="320.6" y="641.2" font-size="9.3" font-weight="normal" text-anchor="middle" fill="#222" >3600</text>
<path d="M32.3 628.8 H35.3 M32.3 611.5 H35.3 M32.3 594.2 H35.3 M32.3 576.8 H35.3 M32.3 559.5 H35.3 M32.3 542.2 H35.3 M32.3 524.9 H35.3 M32.3 507.6 H35.3 M32.3 490.2 H35.3 M32.3 472.9 H35.3 M32.3 455.6 H35.3 M67.8 629.6 V631.8 M99.6 629.6 V631.8 M131.4 629.6 V631.8 M163.2 629.6 V631.8 M195 629.6 V631.8 M226.8 629.6 V631.8 M258.6 629.6 V631.8 M290.4 629.6 V631.8 M322.2 629.6 V631.8" stroke="#555" stroke-width="1"/>
<text x="160.4" y="653.3" font-size="10.7" font-weight="normal" text-anchor="start" fill="#1e1e1e" >mass/charge</text>
<text transform="translate(231.3,451.9) scale(1,1.06)" font-size="13.4" fill="#1e1e1e">DSPE-PEG<tspan font-size="7.8" dy="3.3">2000</tspan><tspan dy="-3.3">-COOH</tspan></text>
<path d="M435.2 451.8 V626.1 M451 626.1 H742.6" fill="none" stroke="#444" stroke-width="1.1"/>
<text x="422.3" y="626.8" font-size="9" font-weight="normal" text-anchor="middle" fill="#222" >0</text>
<text x="422.3" y="609.4" font-size="9" font-weight="normal" text-anchor="middle" fill="#222" >10</text>
<text x="422.3" y="592" font-size="9" font-weight="normal" text-anchor="middle" fill="#222" >20</text>
<text x="422.3" y="574.6" font-size="9" font-weight="normal" text-anchor="middle" fill="#222" >30</text>
<text x="422.3" y="557.2" font-size="9" font-weight="normal" text-anchor="middle" fill="#222" >40</text>
<text x="422.3" y="539.9" font-size="9" font-weight="normal" text-anchor="middle" fill="#222" >50</text>
<text x="422.3" y="522.5" font-size="9" font-weight="normal" text-anchor="middle" fill="#222" >60</text>
<text x="422.3" y="505.1" font-size="9" font-weight="normal" text-anchor="middle" fill="#222" >70</text>
<text x="422.3" y="487.7" font-size="9" font-weight="normal" text-anchor="middle" fill="#222" >80</text>
<text x="422.3" y="470.3" font-size="9" font-weight="normal" text-anchor="middle" fill="#222" >90</text>
<text x="422.3" y="452.9" font-size="9" font-weight="normal" text-anchor="middle" fill="#222" >100</text>
<text x="469.4" y="639.1" font-size="9.3" font-weight="normal" text-anchor="middle" fill="#222" >2200</text>
<text x="497.6" y="639.1" font-size="9.3" font-weight="normal" text-anchor="middle" fill="#222" >2400</text>
<text x="525.8" y="639.1" font-size="9.3" font-weight="normal" text-anchor="middle" fill="#222" >2600</text>
<text x="554" y="639.1" font-size="9.3" font-weight="normal" text-anchor="middle" fill="#222" >2800</text>
<text x="582.2" y="639.1" font-size="9.3" font-weight="normal" text-anchor="middle" fill="#222" >3000</text>
<text x="610.4" y="639.1" font-size="9.3" font-weight="normal" text-anchor="middle" fill="#222" >3200</text>
<text x="638.6" y="639.1" font-size="9.3" font-weight="normal" text-anchor="middle" fill="#222" >3400</text>
<text x="666.8" y="639.1" font-size="9.3" font-weight="normal" text-anchor="middle" fill="#222" >3600</text>
<text x="695" y="639.1" font-size="9.3" font-weight="normal" text-anchor="middle" fill="#222" >3800</text>
<text x="723.2" y="639.1" font-size="9.3" font-weight="normal" text-anchor="middle" fill="#222" >4000</text>
<path d="M432 626.1 H435.2 M432 608.7 H435.2 M432 591.3 H435.2 M432 573.9 H435.2 M432 556.5 H435.2 M432 539.1 H435.2 M432 521.8 H435.2 M432 504.4 H435.2 M432 487 H435.2 M432 469.6 H435.2 M432 452.2 H435.2 M469.4 626.1 V628.6 M497.6 626.1 V628.6 M525.8 626.1 V628.6 M554 626.1 V628.6 M582.2 626.1 V628.6 M610.4 626.1 V628.6 M638.6 626.1 V628.6 M666.8 626.1 V628.6 M695 626.1 V628.6 M723.2 626.1 V628.6" stroke="#555" stroke-width="1"/>
<text x="560.1" y="651.4" font-size="10.7" font-weight="normal" text-anchor="start" fill="#1e1e1e" >mass/charge</text>
<text transform="translate(651.7,450.6) scale(1,1.06)" font-size="13.4" fill="#1e1e1e">DQ</text>
<text transform="translate(194.6,426.8) rotate(-90)" x="0" y="3.8" font-size="10.5" font-weight="bold" text-anchor="middle" fill="#333">2807.31</text>
<text transform="translate(585,409) rotate(-90)" x="0" y="3.8" font-size="10.5" font-weight="bold" text-anchor="middle" fill="#333">3027.87</text>
<ellipse cx="196" cy="462.8" rx="3.9" ry="10.3" fill="none" stroke="#e02020" stroke-width="0.9"/>
<ellipse cx="585.8" cy="441.5" rx="4.6" ry="12.2" fill="none" stroke="#e02020" stroke-width="0.9"/>
<text transform="translate(56.2,608.1) rotate(-90)" font-size="4.6" fill="#111">1916.84</text>
<text transform="translate(84,602.9) rotate(-90)" font-size="4.6" fill="#111">2091.92</text>
<text transform="translate(98,605.5) rotate(-90)" font-size="4.6" fill="#111">2180.11</text>
<text transform="translate(106.5,601.2) rotate(-90)" font-size="4.6" fill="#111">2233.30</text>
<text transform="translate(113.4,599.4) rotate(-90)" font-size="4.6" fill="#111">2277.04</text>
<text transform="translate(120.4,597.7) rotate(-90)" font-size="4.6" fill="#111">2321.01</text>
<text transform="translate(127.7,594.2) rotate(-90)" font-size="4.6" fill="#111">2366.36</text>
<text transform="translate(134.6,588.1) rotate(-90)" font-size="4.6" fill="#111">2410.19</text>
<text transform="translate(141.6,572.4) rotate(-90)" font-size="4.6" fill="#111">2454.19</text>
<text transform="translate(148.7,562) rotate(-90)" font-size="4.6" fill="#111">2498.44</text>
<text transform="translate(155.6,541.1) rotate(-90)" font-size="4.6" fill="#111">2542.41</text>
<text transform="translate(162.7,539.3) rotate(-90)" font-size="4.6" fill="#111">2586.76</text>
<text transform="translate(169.9,514.1) rotate(-90)" font-size="4.6" fill="#111">2631.94</text>
<text transform="translate(176.7,473.1) rotate(-90)" font-size="4.6" fill="#111">2674.62</text>
<text transform="translate(183.9,464.2) rotate(-90)" font-size="4.6" fill="#111">2719.89</text>
<text transform="translate(190.8,468.8) rotate(-90)" font-size="4.6" fill="#111">2763.22</text>
<text transform="translate(204.8,455.7) rotate(-90)" font-size="4.6" fill="#111">2851.69</text>
<text transform="translate(211.8,467.9) rotate(-90)" font-size="4.6" fill="#111">2895.74</text>
<text transform="translate(218.8,474) rotate(-90)" font-size="4.6" fill="#111">2939.74</text>
<text transform="translate(225.8,482.7) rotate(-90)" font-size="4.6" fill="#111">2983.83</text>
<text transform="translate(232.8,487.4) rotate(-90)" font-size="4.6" fill="#111">3027.92</text>
<text transform="translate(239.9,511.6) rotate(-90)" font-size="4.6" fill="#111">3072.09</text>
<text transform="translate(246.9,527.1) rotate(-90)" font-size="4.6" fill="#111">3116.24</text>
<text transform="translate(253.9,542.1) rotate(-90)" font-size="4.6" fill="#111">3160.45</text>
<text transform="translate(260.9,544.7) rotate(-90)" font-size="4.6" fill="#111">3204.22</text>
<text transform="translate(267.9,571) rotate(-90)" font-size="4.6" fill="#111">3248.71</text>
<text transform="translate(274.9,574.7) rotate(-90)" font-size="4.6" fill="#111">3292.40</text>
<text transform="translate(281.9,586.7) rotate(-90)" font-size="4.6" fill="#111">3336.64</text>
<text transform="translate(288.9,591.4) rotate(-90)" font-size="4.6" fill="#111">3380.39</text>
<text transform="translate(295.9,601.5) rotate(-90)" font-size="4.6" fill="#111">3424.66</text>
<text transform="translate(303,604) rotate(-90)" font-size="4.6" fill="#111">3469.08</text>
<text transform="translate(309.9,607.8) rotate(-90)" font-size="4.6" fill="#111">3512.62</text>
<text transform="translate(144.1,603.8) rotate(-90)" font-size="4.6" fill="#111">2469.90</text>
<text transform="translate(151.2,599.4) rotate(-90)" font-size="4.6" fill="#111">2514.58</text>
<text transform="translate(158.2,596.8) rotate(-90)" font-size="4.6" fill="#111">2558.36</text>
<text transform="translate(165.3,582) rotate(-90)" font-size="4.6" fill="#111">2603.18</text>
<text transform="translate(172.3,585.5) rotate(-90)" font-size="4.6" fill="#111">2647.13</text>
<text transform="translate(179.3,580.3) rotate(-90)" font-size="4.6" fill="#111">2690.91</text>
<text transform="translate(186.3,573.3) rotate(-90)" font-size="4.6" fill="#111">2734.98</text>
<text transform="translate(193.3,574) rotate(-90)" font-size="4.6" fill="#111">2779.00</text>
<text transform="translate(200.3,578.5) rotate(-90)" font-size="4.6" fill="#111">2823.14</text>
<text transform="translate(207.3,580.3) rotate(-90)" font-size="4.6" fill="#111">2867.07</text>
<text transform="translate(214.4,586.2) rotate(-90)" font-size="4.6" fill="#111">2911.74</text>
<text transform="translate(221.3,583.8) rotate(-90)" font-size="4.6" fill="#111">2955.62</text>
<text transform="translate(228.4,589) rotate(-90)" font-size="4.6" fill="#111">2999.91</text>
<text transform="translate(235.4,589) rotate(-90)" font-size="4.6" fill="#111">3043.79</text>
<text transform="translate(242.4,590.7) rotate(-90)" font-size="4.6" fill="#111">3088.15</text>
<text transform="translate(249.4,592.5) rotate(-90)" font-size="4.6" fill="#111">3132.00</text>
<text transform="translate(256.5,595.1) rotate(-90)" font-size="4.6" fill="#111">3176.91</text>
<text transform="translate(263.3,601.2) rotate(-90)" font-size="4.6" fill="#111">3219.61</text>
<text transform="translate(270.6,604.7) rotate(-90)" font-size="4.6" fill="#111">3265.43</text>
<text transform="translate(197.8,456.6) rotate(-90)" font-size="4.6" fill="#111">2807.31</text>
<text transform="translate(452.1,593.2) rotate(-90)" font-size="4.6" fill="#111">2066.21</text>
<text transform="translate(464.5,589.8) rotate(-90)" font-size="4.6" fill="#111">2154.09</text>
<text transform="translate(478.4,587.1) rotate(-90)" font-size="4.6" fill="#111">2252.22</text>
<text transform="translate(488.2,581.9) rotate(-90)" font-size="4.6" fill="#111">2321.98</text>
<text transform="translate(500.9,574.1) rotate(-90)" font-size="4.6" fill="#111">2412.32</text>
<text transform="translate(513.1,562.8) rotate(-90)" font-size="4.6" fill="#111">2498.41</text>
<text transform="translate(525.9,554.9) rotate(-90)" font-size="4.6" fill="#111">2589.31</text>
<text transform="translate(531.8,528.8) rotate(-90)" font-size="4.6" fill="#111">2630.96</text>
<text transform="translate(541.7,542.7) rotate(-90)" font-size="4.6" fill="#111">2701.60</text>
<text transform="translate(544.3,506.1) rotate(-90)" font-size="4.6" fill="#111">2719.86</text>
<text transform="translate(550.4,480.9) rotate(-90)" font-size="4.6" fill="#111">2763.25</text>
<text transform="translate(554.2,516.6) rotate(-90)" font-size="4.6" fill="#111">2789.81</text>
<text transform="translate(562.8,473.9) rotate(-90)" font-size="4.6" fill="#111">2851.04</text>
<text transform="translate(566.2,523.6) rotate(-90)" font-size="4.6" fill="#111">2874.90</text>
<text transform="translate(575.2,450.4) rotate(-90)" font-size="4.6" fill="#111">2939</text>
<text transform="translate(587.7,452.1) rotate(-90)" font-size="4.6" fill="#111">3027.87</text>
<text transform="translate(582,494) rotate(-90)" font-size="4.6" fill="#111">2986.90</text>
<text transform="translate(592.9,502.7) rotate(-90)" font-size="4.6" fill="#111">3064.62</text>
<text transform="translate(600.2,457.4) rotate(-90)" font-size="4.6" fill="#111">3116.66</text>
<text transform="translate(606.2,492.2) rotate(-90)" font-size="4.6" fill="#111">3159.18</text>
<text transform="translate(618.8,514.9) rotate(-90)" font-size="4.6" fill="#111">3248.33</text>
<text transform="translate(627.9,520.1) rotate(-90)" font-size="4.6" fill="#111">3312.43</text>
<text transform="translate(701.5,594.1) rotate(-90)" font-size="4.6" fill="#111">3834.60</text>
<text transform="translate(710.8,595.9) rotate(-90)" font-size="4.6" fill="#111">3901.02</text>
<text transform="translate(719.9,599.3) rotate(-90)" font-size="4.6" fill="#111">3965.41</text>
<text transform="translate(737,601.1) rotate(-90)" font-size="4.6" fill="#111">4086.79</text>
</svg></body></html>
